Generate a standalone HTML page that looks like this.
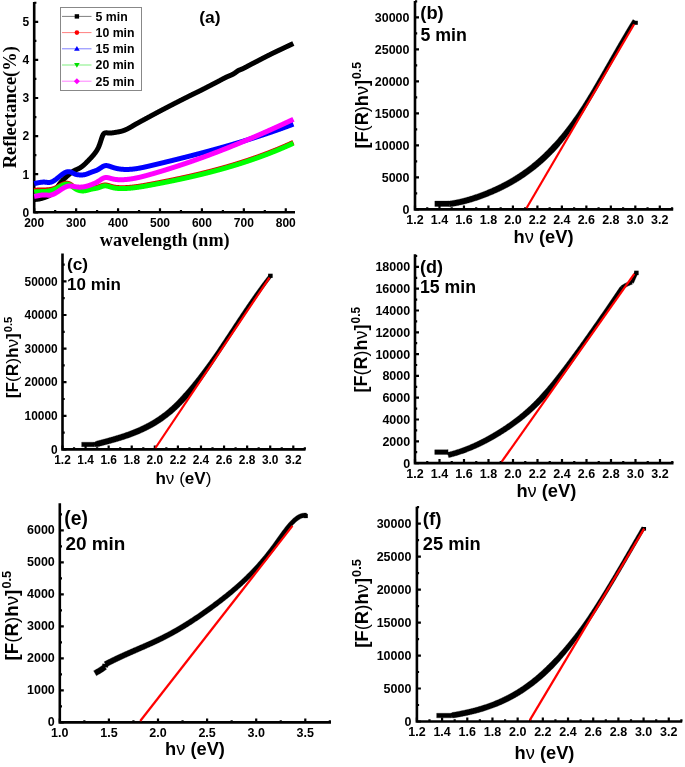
<!DOCTYPE html><html><head><meta charset="utf-8"><style>html,body{margin:0;padding:0;background:#fff;}svg{display:block;will-change:transform;}</style></head><body><svg width="685" height="767" viewBox="0 0 685 767">
<rect width="685" height="767" fill="#fff"/>
<path d="M34.20,2.00V212.30H295.00" fill="none" stroke="#000" stroke-width="2.6" stroke-linecap="butt" stroke-linejoin="miter"/>
<path d="M34.20,212.30v-4M76.13,212.30v-4M118.06,212.30v-4M159.99,212.30v-4M201.92,212.30v-4M243.85,212.30v-4M285.78,212.30v-4M55.17,212.30v-2.2M97.09,212.30v-2.2M139.03,212.30v-2.2M180.95,212.30v-2.2M222.88,212.30v-2.2M264.81,212.30v-2.2M34.20,212.30h4M34.20,174.20h4M34.20,136.10h4M34.20,98.00h4M34.20,59.90h4M34.20,21.80h4M34.20,193.25h2.2M34.20,155.15h2.2M34.20,117.05h2.2M34.20,78.95h2.2M34.20,40.85h2.2M34.20,2.75h2.2" stroke="#000" stroke-width="2.2"/>
<text x="34.20" y="226.70" font-family="Liberation Sans" font-weight="bold" font-size="12" text-anchor="middle">200</text>
<text x="76.13" y="226.70" font-family="Liberation Sans" font-weight="bold" font-size="12" text-anchor="middle">300</text>
<text x="118.06" y="226.70" font-family="Liberation Sans" font-weight="bold" font-size="12" text-anchor="middle">400</text>
<text x="159.99" y="226.70" font-family="Liberation Sans" font-weight="bold" font-size="12" text-anchor="middle">500</text>
<text x="201.92" y="226.70" font-family="Liberation Sans" font-weight="bold" font-size="12" text-anchor="middle">600</text>
<text x="243.85" y="226.70" font-family="Liberation Sans" font-weight="bold" font-size="12" text-anchor="middle">700</text>
<text x="285.78" y="226.70" font-family="Liberation Sans" font-weight="bold" font-size="12" text-anchor="middle">800</text>
<text x="29.20" y="216.62" font-family="Liberation Sans" font-weight="bold" font-size="12" text-anchor="end">0</text>
<text x="29.20" y="178.52" font-family="Liberation Sans" font-weight="bold" font-size="12" text-anchor="end">1</text>
<text x="29.20" y="140.42" font-family="Liberation Sans" font-weight="bold" font-size="12" text-anchor="end">2</text>
<text x="29.20" y="102.32" font-family="Liberation Sans" font-weight="bold" font-size="12" text-anchor="end">3</text>
<text x="29.20" y="64.22" font-family="Liberation Sans" font-weight="bold" font-size="12" text-anchor="end">4</text>
<text x="29.20" y="26.12" font-family="Liberation Sans" font-weight="bold" font-size="12" text-anchor="end">5</text>
<path d="M34.20,199.54L34.41,199.52L34.62,199.50L34.83,199.49L35.04,199.47L35.25,199.45L35.46,199.44L35.67,199.42L35.88,199.40L36.09,199.38L36.30,199.36L36.51,199.34L36.72,199.32L36.93,199.30L37.14,199.28L37.35,199.25L37.56,199.22L37.77,199.20L37.98,199.17L38.19,199.14L38.40,199.11L38.61,199.07L38.82,199.04L39.03,199.00L39.24,198.96L39.45,198.92L39.66,198.88L39.87,198.84L40.07,198.79L40.28,198.74L40.49,198.69L40.70,198.64L40.91,198.59L41.12,198.54L41.33,198.48L41.54,198.42L41.75,198.36L41.96,198.30L42.17,198.24L42.38,198.18L42.59,198.12L42.80,198.05L43.01,197.99L43.22,197.92L43.43,197.86L43.64,197.79L43.85,197.72L44.06,197.65L44.27,197.58L44.48,197.51L44.69,197.44L44.90,197.37L45.11,197.29L45.32,197.22L45.53,197.15L45.74,197.07L45.95,196.99L46.16,196.92L46.37,196.84L46.58,196.76L46.79,196.67L47.00,196.59L47.21,196.50L47.42,196.41L47.63,196.32L47.84,196.22L48.05,196.13L48.26,196.03L48.47,195.92L48.68,195.82L48.89,195.71L49.10,195.59L49.31,195.47L49.52,195.35L49.73,195.23L49.94,195.10L50.15,194.96L50.36,194.83L50.57,194.68L50.78,194.54L50.99,194.38L51.20,194.23L51.41,194.06L51.62,193.89L51.82,193.72L52.03,193.54L52.24,193.36L52.45,193.17L52.66,192.98L52.87,192.77L53.08,192.57L53.29,192.36L53.50,192.14L53.71,191.92L53.92,191.69L54.13,191.45L54.34,191.21L54.55,190.96L54.76,190.71L54.97,190.45L55.18,190.18L55.39,189.91L55.60,189.63L55.81,189.34L56.02,189.06L56.23,188.76L56.44,188.47L56.65,188.17L56.86,187.87L57.07,187.56L57.28,187.26L57.49,186.95L57.70,186.65L57.91,186.34L58.12,186.04L58.33,185.74L58.54,185.44L58.75,185.14L58.96,184.85L59.17,184.55L59.38,184.27L59.59,183.99L59.80,183.71L60.01,183.44L60.22,183.17L60.43,182.91L60.64,182.65L60.85,182.40L61.06,182.15L61.27,181.90L61.48,181.66L61.69,181.42L61.90,181.19L62.11,180.95L62.32,180.73L62.53,180.50L62.74,180.28L62.95,180.06L63.16,179.84L63.36,179.63L63.57,179.42L63.78,179.21L63.99,179.00L64.20,178.80L64.41,178.59L64.62,178.39L64.83,178.19L65.04,178.00L65.25,177.80L65.46,177.61L65.67,177.41L65.88,177.22L66.09,177.03L66.30,176.84L66.51,176.65L66.72,176.46L66.93,176.27L67.14,176.08L67.35,175.90L67.56,175.71L67.77,175.52L67.98,175.34L68.19,175.15L68.40,174.97L68.61,174.79L68.82,174.61L69.03,174.43L69.24,174.25L69.45,174.07L69.66,173.89L69.87,173.72L70.08,173.55L70.29,173.38L70.50,173.21L70.71,173.04L70.92,172.88L71.13,172.72L71.34,172.56L71.55,172.40L71.76,172.25L71.97,172.10L72.18,171.95L72.39,171.80L72.60,171.66L72.81,171.52L73.02,171.38L73.23,171.25L73.44,171.12L73.65,170.99L73.86,170.87L74.07,170.75L74.28,170.64L74.49,170.53L74.70,170.42L74.91,170.31L75.11,170.21L75.32,170.11L75.53,170.01L75.74,169.91L75.95,169.82L76.16,169.72L76.37,169.63L76.58,169.54L76.79,169.44L77.00,169.35L77.21,169.26L77.42,169.16L77.63,169.07L77.84,168.97L78.05,168.88L78.26,168.78L78.47,168.68L78.68,168.57L78.89,168.47L79.10,168.36L79.31,168.25L79.52,168.13L79.73,168.01L79.94,167.89L80.15,167.76L80.36,167.63L80.57,167.50L80.78,167.36L80.99,167.22L81.20,167.07L81.41,166.92L81.62,166.76L81.83,166.61L82.04,166.45L82.25,166.28L82.46,166.12L82.67,165.94L82.88,165.77L83.09,165.60L83.30,165.42L83.51,165.23L83.72,165.05L83.93,164.86L84.14,164.67L84.35,164.48L84.56,164.29L84.77,164.09L84.98,163.90L85.19,163.70L85.40,163.50L85.61,163.29L85.82,163.09L86.03,162.88L86.24,162.67L86.45,162.47L86.65,162.26L86.86,162.04L87.07,161.83L87.28,161.62L87.49,161.41L87.70,161.19L87.91,160.98L88.12,160.76L88.33,160.54L88.54,160.33L88.75,160.11L88.96,159.89L89.17,159.68L89.38,159.46L89.59,159.24L89.80,159.02L90.01,158.81L90.22,158.59L90.43,158.37L90.64,158.15L90.85,157.93L91.06,157.70L91.27,157.48L91.48,157.25L91.69,157.02L91.90,156.79L92.11,156.56L92.32,156.33L92.53,156.09L92.74,155.85L92.95,155.61L93.16,155.36L93.37,155.11L93.58,154.86L93.79,154.61L94.00,154.35L94.21,154.08L94.42,153.82L94.63,153.54L94.84,153.27L95.05,152.99L95.26,152.70L95.47,152.41L95.68,152.12L95.89,151.82L96.10,151.51L96.31,151.19L96.52,150.87L96.73,150.54L96.94,150.19L97.15,149.84L97.36,149.47L97.57,149.09L97.78,148.69L97.99,148.28L98.20,147.86L98.40,147.42L98.61,146.96L98.82,146.48L99.03,145.98L99.24,145.47L99.45,144.93L99.66,144.37L99.87,143.79L100.08,143.18L100.29,142.56L100.50,141.91L100.71,141.26L100.92,140.59L101.13,139.93L101.34,139.27L101.55,138.62L101.76,137.99L101.97,137.38L102.18,136.80L102.39,136.25L102.60,135.74L102.81,135.27L103.02,134.85L103.23,134.48L103.44,134.16L103.65,133.89L103.86,133.66L104.07,133.47L104.28,133.31L104.49,133.18L104.70,133.08L104.91,133.00L105.12,132.95L105.33,132.91L105.54,132.88L105.75,132.87L105.96,132.86L106.17,132.85L106.38,132.85L106.59,132.85L106.80,132.86L107.01,132.87L107.22,132.87L107.43,132.88L107.64,132.90L107.85,132.91L108.06,132.92L108.27,132.93L108.48,132.95L108.69,132.96L108.90,132.97L109.11,132.99L109.32,133.00L109.53,133.00L109.74,133.01L109.94,133.01L110.15,133.01L110.36,133.01L110.57,133.01L110.78,133.00L110.99,132.99L111.20,132.98L111.41,132.96L111.62,132.94L111.83,132.92L112.04,132.90L112.25,132.88L112.46,132.85L112.67,132.83L112.88,132.80L113.09,132.77L113.30,132.74L113.51,132.71L113.72,132.67L113.93,132.64L114.14,132.60L114.35,132.57L114.56,132.53L114.77,132.50L114.98,132.46L115.19,132.42L115.40,132.39L115.61,132.35L115.82,132.31L116.03,132.28L116.24,132.24L116.45,132.21L116.66,132.17L116.87,132.14L117.08,132.10L117.29,132.07L117.50,132.03L117.71,132.00L117.92,131.96L118.13,131.93L118.34,131.89L118.55,131.85L118.76,131.81L118.97,131.77L119.18,131.73L119.39,131.69L119.60,131.65L119.81,131.61L120.02,131.56L120.23,131.52L120.44,131.47L120.65,131.42L120.86,131.37L121.07,131.32L121.28,131.27L121.49,131.21L121.69,131.15L121.90,131.09L122.11,131.03L122.32,130.97L122.53,130.90L122.74,130.84L122.95,130.77L123.16,130.70L123.37,130.63L123.58,130.55L123.79,130.48L124.00,130.40L124.21,130.32L124.42,130.24L124.63,130.16L124.84,130.08L125.05,129.99L125.26,129.90L125.47,129.81L125.68,129.72L125.89,129.63L126.10,129.54L126.31,129.44L126.52,129.34L126.73,129.24L126.94,129.14L127.15,129.04L127.36,128.93L127.57,128.83L127.78,128.72L127.99,128.61L128.20,128.50L128.41,128.39L128.62,128.28L128.83,128.17L129.04,128.05L129.25,127.94L129.46,127.82L129.67,127.70L129.88,127.59L130.09,127.47L130.30,127.35L130.51,127.23L130.72,127.11L130.93,126.99L131.14,126.86L131.35,126.74L131.56,126.62L131.77,126.50L131.98,126.37L132.19,126.25L132.40,126.12L132.61,126.00L132.82,125.88L133.03,125.75L133.23,125.63L133.44,125.50L133.65,125.38L133.86,125.26L134.07,125.13L134.28,125.01L134.49,124.89L134.70,124.77L134.91,124.64L135.12,124.52L135.33,124.40L135.54,124.28L135.75,124.16L135.96,124.04L136.17,123.92L136.38,123.81L136.59,123.69L136.80,123.57L137.01,123.45L137.22,123.34L137.43,123.22L137.64,123.10L137.85,122.99L138.06,122.87L138.27,122.76L138.48,122.64L138.69,122.53L138.90,122.41L139.11,122.30L139.32,122.18L139.53,122.07L139.74,121.95L139.95,121.84L140.16,121.73L140.37,121.61L140.58,121.50L140.79,121.39L141.00,121.27L141.21,121.16L141.42,121.05L141.63,120.93L141.84,120.82L142.05,120.71L142.26,120.60L142.47,120.48L142.68,120.37L142.89,120.26L143.10,120.14L143.31,120.03L143.52,119.92L143.73,119.81L143.94,119.69L144.15,119.58L144.36,119.47L144.57,119.35L144.78,119.24L144.98,119.12L145.19,119.01L145.40,118.90L145.61,118.78L145.82,118.67L146.03,118.56L146.24,118.44L146.45,118.33L146.66,118.22L146.87,118.10L147.08,117.99L147.29,117.87L147.50,117.76L147.71,117.65L147.92,117.53L148.13,117.42L148.34,117.30L148.55,117.19L148.76,117.08L148.97,116.96L149.18,116.85L149.39,116.74L149.60,116.62L149.81,116.51L150.02,116.39L150.23,116.28L150.44,116.17L150.65,116.05L150.86,115.94L151.07,115.83L151.28,115.71L151.49,115.60L151.70,115.49L151.91,115.38L152.12,115.26L152.33,115.15L152.54,115.04L152.75,114.92L152.96,114.81L153.17,114.70L153.38,114.59L153.59,114.47L153.80,114.36L154.01,114.25L154.22,114.14L154.43,114.03L154.64,113.91L154.85,113.80L155.06,113.69L155.27,113.58L155.48,113.47L155.69,113.35L155.90,113.24L156.11,113.13L156.32,113.02L156.52,112.91L156.73,112.80L156.94,112.68L157.15,112.57L157.36,112.46L157.57,112.35L157.78,112.24L157.99,112.13L158.20,112.02L158.41,111.91L158.62,111.79L158.83,111.68L159.04,111.57L159.25,111.46L159.46,111.35L159.67,111.24L159.88,111.13L160.09,111.02L160.30,110.91L160.51,110.80L160.72,110.69L160.93,110.58L161.14,110.47L161.35,110.35L161.56,110.24L161.77,110.13L161.98,110.02L162.19,109.91L162.40,109.80L162.61,109.69L162.82,109.58L163.03,109.47L163.24,109.36L163.45,109.25L163.66,109.14L163.87,109.03L164.08,108.92L164.29,108.81L164.50,108.70L164.71,108.59L164.92,108.48L165.13,108.37L165.34,108.26L165.55,108.15L165.76,108.04L165.97,107.93L166.18,107.82L166.39,107.71L166.60,107.60L166.81,107.50L167.02,107.39L167.23,107.28L167.44,107.17L167.65,107.06L167.86,106.95L168.07,106.84L168.27,106.73L168.48,106.62L168.69,106.51L168.90,106.40L169.11,106.29L169.32,106.19L169.53,106.08L169.74,105.97L169.95,105.86L170.16,105.75L170.37,105.64L170.58,105.53L170.79,105.42L171.00,105.32L171.21,105.21L171.42,105.10L171.63,104.99L171.84,104.88L172.05,104.77L172.26,104.67L172.47,104.56L172.68,104.45L172.89,104.34L173.10,104.23L173.31,104.12L173.52,104.02L173.73,103.91L173.94,103.80L174.15,103.69L174.36,103.59L174.57,103.48L174.78,103.37L174.99,103.26L175.20,103.16L175.41,103.05L175.62,102.94L175.83,102.83L176.04,102.73L176.25,102.62L176.46,102.51L176.67,102.40L176.88,102.30L177.09,102.19L177.30,102.08L177.51,101.98L177.72,101.87L177.93,101.76L178.14,101.65L178.35,101.55L178.56,101.44L178.77,101.33L178.98,101.23L179.19,101.12L179.40,101.01L179.61,100.91L179.81,100.80L180.02,100.69L180.23,100.59L180.44,100.48L180.65,100.38L180.86,100.27L181.07,100.16L181.28,100.06L181.49,99.95L181.70,99.84L181.91,99.74L182.12,99.63L182.33,99.53L182.54,99.42L182.75,99.31L182.96,99.21L183.17,99.10L183.38,99.00L183.59,98.89L183.80,98.78L184.01,98.68L184.22,98.57L184.43,98.47L184.64,98.36L184.85,98.26L185.06,98.15L185.27,98.04L185.48,97.94L185.69,97.83L185.90,97.73L186.11,97.62L186.32,97.52L186.53,97.41L186.74,97.31L186.95,97.20L187.16,97.09L187.37,96.99L187.58,96.88L187.79,96.78L188.00,96.67L188.21,96.57L188.42,96.46L188.63,96.36L188.84,96.25L189.05,96.15L189.26,96.04L189.47,95.94L189.68,95.83L189.89,95.73L190.10,95.63L190.31,95.52L190.52,95.42L190.73,95.31L190.94,95.21L191.15,95.10L191.35,95.00L191.56,94.90L191.77,94.79L191.98,94.69L192.19,94.59L192.40,94.48L192.61,94.38L192.82,94.28L193.03,94.17L193.24,94.07L193.45,93.97L193.66,93.87L193.87,93.76L194.08,93.66L194.29,93.56L194.50,93.46L194.71,93.35L194.92,93.25L195.13,93.15L195.34,93.05L195.55,92.95L195.76,92.85L195.97,92.74L196.18,92.64L196.39,92.54L196.60,92.44L196.81,92.34L197.02,92.24L197.23,92.13L197.44,92.03L197.65,91.93L197.86,91.83L198.07,91.73L198.28,91.62L198.49,91.52L198.70,91.42L198.91,91.32L199.12,91.21L199.33,91.11L199.54,91.01L199.75,90.90L199.96,90.80L200.17,90.70L200.38,90.59L200.59,90.49L200.80,90.39L201.01,90.28L201.22,90.18L201.43,90.07L201.64,89.97L201.85,89.86L202.06,89.76L202.27,89.65L202.48,89.54L202.69,89.44L202.90,89.33L203.10,89.22L203.31,89.12L203.52,89.01L203.73,88.90L203.94,88.79L204.15,88.68L204.36,88.58L204.57,88.47L204.78,88.36L204.99,88.25L205.20,88.14L205.41,88.03L205.62,87.92L205.83,87.81L206.04,87.71L206.25,87.60L206.46,87.49L206.67,87.38L206.88,87.27L207.09,87.16L207.30,87.05L207.51,86.94L207.72,86.83L207.93,86.72L208.14,86.61L208.35,86.50L208.56,86.39L208.77,86.28L208.98,86.17L209.19,86.07L209.40,85.96L209.61,85.85L209.82,85.74L210.03,85.63L210.24,85.52L210.45,85.41L210.66,85.31L210.87,85.20L211.08,85.09L211.29,84.98L211.50,84.87L211.71,84.77L211.92,84.66L212.13,84.55L212.34,84.44L212.55,84.34L212.76,84.23L212.97,84.12L213.18,84.02L213.39,83.91L213.60,83.80L213.81,83.69L214.02,83.59L214.23,83.48L214.44,83.37L214.64,83.26L214.85,83.16L215.06,83.05L215.27,82.94L215.48,82.83L215.69,82.72L215.90,82.61L216.11,82.51L216.32,82.40L216.53,82.29L216.74,82.18L216.95,82.07L217.16,81.96L217.37,81.85L217.58,81.74L217.79,81.63L218.00,81.51L218.21,81.40L218.42,81.29L218.63,81.18L218.84,81.07L219.05,80.95L219.26,80.84L219.47,80.73L219.68,80.61L219.89,80.50L220.10,80.39L220.31,80.27L220.52,80.16L220.73,80.04L220.94,79.93L221.15,79.81L221.36,79.70L221.57,79.59L221.78,79.47L221.99,79.36L222.20,79.25L222.41,79.13L222.62,79.02L222.83,78.91L223.04,78.80L223.25,78.69L223.46,78.58L223.67,78.47L223.88,78.36L224.09,78.25L224.30,78.14L224.51,78.04L224.72,77.93L224.93,77.82L225.14,77.72L225.35,77.62L225.56,77.51L225.77,77.41L225.98,77.31L226.19,77.21L226.39,77.11L226.60,77.02L226.81,76.92L227.02,76.83L227.23,76.73L227.44,76.64L227.65,76.55L227.86,76.46L228.07,76.37L228.28,76.28L228.49,76.19L228.70,76.11L228.91,76.02L229.12,75.93L229.33,75.84L229.54,75.76L229.75,75.67L229.96,75.58L230.17,75.49L230.38,75.40L230.59,75.31L230.80,75.22L231.01,75.13L231.22,75.03L231.43,74.94L231.64,74.84L231.85,74.74L232.06,74.64L232.27,74.53L232.48,74.43L232.69,74.32L232.90,74.21L233.11,74.10L233.32,73.98L233.53,73.86L233.74,73.74L233.95,73.62L234.16,73.49L234.37,73.36L234.58,73.22L234.79,73.08L235.00,72.94L235.21,72.79L235.42,72.64L235.63,72.49L235.84,72.33L236.05,72.17L236.26,72.00L236.47,71.84L236.68,71.68L236.89,71.52L237.10,71.36L237.31,71.21L237.52,71.06L237.73,70.92L237.93,70.79L238.14,70.66L238.35,70.54L238.56,70.43L238.77,70.33L238.98,70.23L239.19,70.14L239.40,70.05L239.61,69.97L239.82,69.89L240.03,69.81L240.24,69.73L240.45,69.65L240.66,69.57L240.87,69.49L241.08,69.41L241.29,69.33L241.50,69.24L241.71,69.15L241.92,69.06L242.13,68.97L242.34,68.88L242.55,68.78L242.76,68.69L242.97,68.59L243.18,68.49L243.39,68.39L243.60,68.28L243.81,68.18L244.02,68.08L244.23,67.97L244.44,67.86L244.65,67.76L244.86,67.65L245.07,67.54L245.28,67.43L245.49,67.32L245.70,67.20L245.91,67.09L246.12,66.98L246.33,66.87L246.54,66.76L246.75,66.64L246.96,66.53L247.17,66.42L247.38,66.30L247.59,66.19L247.80,66.08L248.01,65.96L248.22,65.85L248.43,65.74L248.64,65.63L248.85,65.51L249.06,65.40L249.27,65.29L249.48,65.18L249.68,65.07L249.89,64.96L250.10,64.85L250.31,64.74L250.52,64.63L250.73,64.52L250.94,64.41L251.15,64.30L251.36,64.19L251.57,64.09L251.78,63.98L251.99,63.87L252.20,63.76L252.41,63.65L252.62,63.54L252.83,63.44L253.04,63.33L253.25,63.22L253.46,63.11L253.67,63.00L253.88,62.90L254.09,62.79L254.30,62.68L254.51,62.57L254.72,62.47L254.93,62.36L255.14,62.25L255.35,62.14L255.56,62.03L255.77,61.93L255.98,61.82L256.19,61.71L256.40,61.60L256.61,61.49L256.82,61.38L257.03,61.28L257.24,61.17L257.45,61.06L257.66,60.95L257.87,60.84L258.08,60.73L258.29,60.62L258.50,60.51L258.71,60.40L258.92,60.29L259.13,60.19L259.34,60.08L259.55,59.97L259.76,59.86L259.97,59.75L260.18,59.64L260.39,59.53L260.60,59.42L260.81,59.31L261.02,59.20L261.22,59.09L261.43,58.98L261.64,58.87L261.85,58.76L262.06,58.65L262.27,58.54L262.48,58.44L262.69,58.33L262.90,58.22L263.11,58.11L263.32,58.00L263.53,57.89L263.74,57.78L263.95,57.67L264.16,57.56L264.37,57.46L264.58,57.35L264.79,57.24L265.00,57.13L265.21,57.02L265.42,56.92L265.63,56.81L265.84,56.70L266.05,56.59L266.26,56.49L266.47,56.38L266.68,56.27L266.89,56.16L267.10,56.06L267.31,55.95L267.52,55.84L267.73,55.74L267.94,55.63L268.15,55.53L268.36,55.42L268.57,55.31L268.78,55.21L268.99,55.10L269.20,55.00L269.41,54.89L269.62,54.79L269.83,54.68L270.04,54.58L270.25,54.47L270.46,54.37L270.67,54.27L270.88,54.16L271.09,54.06L271.30,53.95L271.51,53.85L271.72,53.75L271.93,53.64L272.14,53.54L272.35,53.44L272.56,53.34L272.77,53.23L272.97,53.13L273.18,53.03L273.39,52.93L273.60,52.83L273.81,52.73L274.02,52.62L274.23,52.52L274.44,52.42L274.65,52.32L274.86,52.22L275.07,52.12L275.28,52.02L275.49,51.92L275.70,51.82L275.91,51.72L276.12,51.62L276.33,51.52L276.54,51.42L276.75,51.32L276.96,51.22L277.17,51.12L277.38,51.03L277.59,50.93L277.80,50.83L278.01,50.73L278.22,50.63L278.43,50.53L278.64,50.43L278.85,50.33L279.06,50.23L279.27,50.14L279.48,50.04L279.69,49.94L279.90,49.84L280.11,49.74L280.32,49.64L280.53,49.54L280.74,49.45L280.95,49.35L281.16,49.25L281.37,49.15L281.58,49.05L281.79,48.95L282.00,48.85L282.21,48.75L282.42,48.65L282.63,48.55L282.84,48.46L283.05,48.36L283.26,48.26L283.47,48.16L283.68,48.06L283.89,47.96L284.10,47.86L284.31,47.76L284.51,47.66L284.72,47.56L284.93,47.46L285.14,47.36L285.35,47.26L285.56,47.16L285.77,47.06L285.98,46.96L286.19,46.86L286.40,46.76L286.61,46.66L286.82,46.56L287.03,46.47L287.24,46.37L287.45,46.27L287.66,46.17L287.87,46.07L288.08,45.97L288.29,45.87L288.50,45.77L288.71,45.67L288.92,45.57L289.13,45.47L289.34,45.37L289.55,45.27L289.76,45.17L289.97,45.07L290.18,44.97L290.39,44.87L290.60,44.77L290.81,44.67L291.02,44.57L291.23,44.47L291.44,44.37L291.65,44.27L291.86,44.17L292.07,44.07L292.28,43.97L292.49,43.88L292.70,43.78L292.91,43.68L293.12,43.58L293.33,43.48" fill="none" stroke="#000" stroke-width="5.0" stroke-linejoin="round" stroke-linecap="butt" />
<path d="M34.20,190.48L34.41,190.44L34.62,190.41L34.83,190.38L35.04,190.35L35.25,190.32L35.46,190.29L35.67,190.27L35.88,190.24L36.09,190.22L36.30,190.20L36.51,190.18L36.72,190.16L36.93,190.14L37.14,190.13L37.35,190.11L37.56,190.10L37.77,190.08L37.98,190.07L38.19,190.06L38.40,190.05L38.61,190.04L38.82,190.03L39.03,190.02L39.24,190.02L39.45,190.01L39.66,190.00L39.87,190.00L40.08,189.99L40.29,189.99L40.50,189.99L40.71,189.98L40.92,189.98L41.13,189.98L41.34,189.97L41.55,189.97L41.76,189.97L41.97,189.97L42.18,189.97L42.39,189.96L42.60,189.96L42.81,189.96L43.02,189.96L43.23,189.96L43.44,189.95L43.64,189.95L43.85,189.95L44.06,189.95L44.27,189.94L44.48,189.94L44.69,189.93L44.90,189.93L45.11,189.92L45.32,189.92L45.53,189.91L45.74,189.90L45.95,189.90L46.16,189.89L46.37,189.88L46.58,189.87L46.79,189.86L47.00,189.84L47.21,189.83L47.42,189.82L47.63,189.80L47.84,189.79L48.05,189.77L48.26,189.75L48.47,189.73L48.68,189.71L48.89,189.69L49.10,189.66L49.31,189.64L49.52,189.61L49.73,189.58L49.94,189.55L50.15,189.52L50.36,189.49L50.57,189.45L50.78,189.41L50.99,189.38L51.20,189.34L51.41,189.29L51.62,189.25L51.83,189.20L52.04,189.16L52.25,189.11L52.46,189.05L52.67,189.00L52.88,188.94L53.09,188.88L53.30,188.82L53.51,188.76L53.72,188.69L53.93,188.63L54.14,188.56L54.35,188.48L54.56,188.41L54.77,188.33L54.98,188.25L55.19,188.16L55.40,188.08L55.61,187.99L55.82,187.90L56.03,187.80L56.24,187.71L56.45,187.61L56.66,187.50L56.87,187.40L57.08,187.29L57.29,187.18L57.50,187.07L57.71,186.96L57.92,186.85L58.13,186.73L58.34,186.61L58.55,186.50L58.76,186.38L58.97,186.26L59.18,186.14L59.39,186.03L59.60,185.91L59.81,185.79L60.02,185.67L60.23,185.56L60.44,185.44L60.65,185.32L60.86,185.21L61.07,185.10L61.28,184.99L61.49,184.88L61.70,184.77L61.91,184.67L62.12,184.56L62.32,184.46L62.53,184.37L62.74,184.27L62.95,184.18L63.16,184.09L63.37,184.01L63.58,183.92L63.79,183.85L64.00,183.77L64.21,183.70L64.42,183.64L64.63,183.58L64.84,183.52L65.05,183.47L65.26,183.43L65.47,183.38L65.68,183.35L65.89,183.32L66.10,183.30L66.31,183.28L66.52,183.27L66.73,183.26L66.94,183.26L67.15,183.27L67.36,183.29L67.57,183.31L67.78,183.34L67.99,183.38L68.20,183.42L68.41,183.47L68.62,183.53L68.83,183.60L69.04,183.68L69.25,183.77L69.46,183.86L69.67,183.96L69.88,184.07L70.09,184.18L70.30,184.30L70.51,184.43L70.72,184.56L70.93,184.70L71.14,184.84L71.35,184.99L71.56,185.14L71.77,185.29L71.98,185.44L72.19,185.60L72.40,185.76L72.61,185.91L72.82,186.07L73.03,186.23L73.24,186.39L73.45,186.55L73.66,186.71L73.87,186.87L74.08,187.02L74.29,187.17L74.50,187.32L74.71,187.47L74.92,187.61L75.13,187.75L75.34,187.88L75.55,188.01L75.76,188.13L75.97,188.25L76.18,188.37L76.39,188.48L76.60,188.59L76.81,188.70L77.02,188.80L77.23,188.89L77.44,188.99L77.65,189.07L77.86,189.16L78.07,189.24L78.28,189.32L78.49,189.39L78.70,189.46L78.91,189.52L79.12,189.59L79.33,189.64L79.54,189.70L79.75,189.75L79.96,189.79L80.17,189.84L80.38,189.88L80.59,189.91L80.80,189.95L81.00,189.97L81.21,190.00L81.42,190.02L81.63,190.04L81.84,190.06L82.05,190.07L82.26,190.08L82.47,190.08L82.68,190.08L82.89,190.08L83.10,190.08L83.31,190.07L83.52,190.06L83.73,190.05L83.94,190.03L84.15,190.01L84.36,189.99L84.57,189.96L84.78,189.93L84.99,189.90L85.20,189.87L85.41,189.83L85.62,189.79L85.83,189.75L86.04,189.71L86.25,189.67L86.46,189.62L86.67,189.57L86.88,189.52L87.09,189.47L87.30,189.42L87.51,189.36L87.72,189.31L87.93,189.25L88.14,189.20L88.35,189.14L88.56,189.08L88.77,189.03L88.98,188.97L89.19,188.91L89.40,188.85L89.61,188.79L89.82,188.74L90.03,188.68L90.24,188.63L90.45,188.57L90.66,188.52L90.87,188.46L91.08,188.41L91.29,188.36L91.50,188.31L91.71,188.26L91.92,188.22L92.13,188.17L92.34,188.13L92.55,188.09L92.76,188.05L92.97,188.01L93.18,187.97L93.39,187.94L93.60,187.90L93.81,187.87L94.02,187.83L94.23,187.79L94.44,187.76L94.65,187.72L94.86,187.69L95.07,187.65L95.28,187.62L95.49,187.58L95.70,187.54L95.91,187.50L96.12,187.46L96.33,187.42L96.54,187.38L96.75,187.33L96.96,187.28L97.17,187.23L97.38,187.18L97.59,187.13L97.80,187.07L98.01,187.01L98.22,186.95L98.43,186.88L98.64,186.82L98.85,186.75L99.06,186.67L99.27,186.60L99.48,186.52L99.68,186.45L99.89,186.37L100.10,186.29L100.31,186.21L100.52,186.13L100.73,186.05L100.94,185.98L101.15,185.90L101.36,185.82L101.57,185.75L101.78,185.68L101.99,185.61L102.20,185.54L102.41,185.47L102.62,185.41L102.83,185.35L103.04,185.30L103.25,185.25L103.46,185.20L103.67,185.16L103.88,185.12L104.09,185.09L104.30,185.06L104.51,185.04L104.72,185.02L104.93,185.01L105.14,185.01L105.35,185.01L105.56,185.02L105.77,185.03L105.98,185.05L106.19,185.07L106.40,185.10L106.61,185.13L106.82,185.16L107.03,185.20L107.24,185.24L107.45,185.29L107.66,185.34L107.87,185.39L108.08,185.44L108.29,185.50L108.50,185.55L108.71,185.61L108.92,185.68L109.13,185.74L109.34,185.80L109.55,185.87L109.76,185.93L109.97,186.00L110.18,186.06L110.39,186.13L110.60,186.19L110.81,186.26L111.02,186.32L111.23,186.39L111.44,186.45L111.65,186.51L111.86,186.57L112.07,186.63L112.28,186.68L112.49,186.73L112.70,186.79L112.91,186.84L113.12,186.88L113.33,186.93L113.54,186.97L113.75,187.02L113.96,187.06L114.17,187.10L114.38,187.13L114.59,187.17L114.80,187.21L115.01,187.24L115.22,187.27L115.43,187.30L115.64,187.33L115.85,187.36L116.06,187.38L116.27,187.41L116.48,187.43L116.69,187.45L116.90,187.47L117.11,187.49L117.32,187.51L117.53,187.53L117.74,187.55L117.95,187.56L118.16,187.58L118.36,187.59L118.57,187.60L118.78,187.61L118.99,187.62L119.20,187.63L119.41,187.64L119.62,187.65L119.83,187.66L120.04,187.66L120.25,187.67L120.46,187.67L120.67,187.68L120.88,187.68L121.09,187.69L121.30,187.69L121.51,187.69L121.72,187.69L121.93,187.69L122.14,187.69L122.35,187.69L122.56,187.69L122.77,187.69L122.98,187.69L123.19,187.69L123.40,187.68L123.61,187.68L123.82,187.68L124.03,187.67L124.24,187.67L124.45,187.66L124.66,187.66L124.87,187.65L125.08,187.64L125.29,187.64L125.50,187.63L125.71,187.62L125.92,187.61L126.13,187.60L126.34,187.59L126.55,187.58L126.76,187.57L126.97,187.56L127.18,187.55L127.39,187.54L127.60,187.52L127.81,187.51L128.02,187.50L128.23,187.48L128.44,187.47L128.65,187.45L128.86,187.44L129.07,187.42L129.28,187.41L129.49,187.39L129.70,187.37L129.91,187.36L130.12,187.34L130.33,187.32L130.54,187.30L130.75,187.28L130.96,187.27L131.17,187.25L131.38,187.23L131.59,187.21L131.80,187.18L132.01,187.16L132.22,187.14L132.43,187.12L132.64,187.10L132.85,187.08L133.06,187.05L133.27,187.03L133.48,187.01L133.69,186.98L133.90,186.96L134.11,186.93L134.32,186.91L134.53,186.88L134.74,186.86L134.95,186.83L135.16,186.81L135.37,186.78L135.58,186.75L135.79,186.73L136.00,186.70L136.21,186.67L136.42,186.64L136.63,186.61L136.84,186.59L137.04,186.56L137.25,186.53L137.46,186.50L137.67,186.47L137.88,186.44L138.09,186.41L138.30,186.38L138.51,186.35L138.72,186.32L138.93,186.28L139.14,186.25L139.35,186.22L139.56,186.19L139.77,186.16L139.98,186.12L140.19,186.09L140.40,186.06L140.61,186.03L140.82,185.99L141.03,185.96L141.24,185.92L141.45,185.89L141.66,185.86L141.87,185.82L142.08,185.79L142.29,185.75L142.50,185.72L142.71,185.68L142.92,185.65L143.13,185.61L143.34,185.58L143.55,185.54L143.76,185.50L143.97,185.47L144.18,185.43L144.39,185.40L144.60,185.36L144.81,185.32L145.02,185.29L145.23,185.25L145.44,185.21L145.65,185.17L145.86,185.14L146.07,185.10L146.28,185.06L146.49,185.02L146.70,184.99L146.91,184.95L147.12,184.91L147.33,184.87L147.54,184.83L147.75,184.79L147.96,184.76L148.17,184.72L148.38,184.68L148.59,184.64L148.80,184.60L149.01,184.56L149.22,184.52L149.43,184.48L149.64,184.44L149.85,184.41L150.06,184.37L150.27,184.33L150.48,184.29L150.69,184.25L150.90,184.21L151.11,184.17L151.32,184.13L151.53,184.09L151.74,184.05L151.95,184.01L152.16,183.97L152.37,183.93L152.58,183.89L152.79,183.85L153.00,183.81L153.21,183.77L153.42,183.73L153.63,183.69L153.84,183.65L154.05,183.61L154.26,183.57L154.47,183.53L154.68,183.49L154.89,183.45L155.10,183.41L155.31,183.37L155.52,183.33L155.72,183.29L155.93,183.25L156.14,183.21L156.35,183.17L156.56,183.13L156.77,183.09L156.98,183.05L157.19,183.01L157.40,182.97L157.61,182.93L157.82,182.89L158.03,182.85L158.24,182.81L158.45,182.77L158.66,182.73L158.87,182.69L159.08,182.65L159.29,182.61L159.50,182.57L159.71,182.53L159.92,182.49L160.13,182.44L160.34,182.40L160.55,182.36L160.76,182.32L160.97,182.28L161.18,182.24L161.39,182.20L161.60,182.16L161.81,182.12L162.02,182.08L162.23,182.03L162.44,181.99L162.65,181.95L162.86,181.91L163.07,181.87L163.28,181.83L163.49,181.79L163.70,181.75L163.91,181.70L164.12,181.66L164.33,181.62L164.54,181.58L164.75,181.54L164.96,181.50L165.17,181.45L165.38,181.41L165.59,181.37L165.80,181.33L166.01,181.29L166.22,181.25L166.43,181.20L166.64,181.16L166.85,181.12L167.06,181.08L167.27,181.04L167.48,180.99L167.69,180.95L167.90,180.91L168.11,180.87L168.32,180.82L168.53,180.78L168.74,180.74L168.95,180.70L169.16,180.65L169.37,180.61L169.58,180.57L169.79,180.53L170.00,180.48L170.21,180.44L170.42,180.40L170.63,180.36L170.84,180.31L171.05,180.27L171.26,180.23L171.47,180.18L171.68,180.14L171.89,180.10L172.10,180.06L172.31,180.01L172.52,179.97L172.73,179.93L172.94,179.88L173.15,179.84L173.36,179.80L173.57,179.75L173.78,179.71L173.99,179.67L174.20,179.62L174.40,179.58L174.61,179.53L174.82,179.49L175.03,179.45L175.24,179.40L175.45,179.36L175.66,179.32L175.87,179.27L176.08,179.23L176.29,179.18L176.50,179.14L176.71,179.10L176.92,179.05L177.13,179.01L177.34,178.96L177.55,178.92L177.76,178.87L177.97,178.83L178.18,178.79L178.39,178.74L178.60,178.70L178.81,178.65L179.02,178.61L179.23,178.56L179.44,178.52L179.65,178.47L179.86,178.43L180.07,178.38L180.28,178.34L180.49,178.29L180.70,178.25L180.91,178.20L181.12,178.16L181.33,178.11L181.54,178.07L181.75,178.02L181.96,177.98L182.17,177.93L182.38,177.89L182.59,177.84L182.80,177.79L183.01,177.75L183.22,177.70L183.43,177.66L183.64,177.61L183.85,177.57L184.06,177.52L184.27,177.47L184.48,177.43L184.69,177.38L184.90,177.34L185.11,177.29L185.32,177.24L185.53,177.20L185.74,177.15L185.95,177.10L186.16,177.06L186.37,177.01L186.58,176.97L186.79,176.92L187.00,176.87L187.21,176.83L187.42,176.78L187.63,176.73L187.84,176.68L188.05,176.64L188.26,176.59L188.47,176.54L188.68,176.50L188.89,176.45L189.10,176.40L189.31,176.35L189.52,176.31L189.73,176.26L189.94,176.21L190.15,176.16L190.36,176.12L190.57,176.07L190.78,176.02L190.99,175.97L191.20,175.93L191.41,175.88L191.62,175.83L191.83,175.78L192.04,175.73L192.25,175.69L192.46,175.64L192.67,175.59L192.88,175.54L193.08,175.49L193.29,175.44L193.50,175.40L193.71,175.35L193.92,175.30L194.13,175.25L194.34,175.20L194.55,175.15L194.76,175.10L194.97,175.05L195.18,175.01L195.39,174.96L195.60,174.91L195.81,174.86L196.02,174.81L196.23,174.76L196.44,174.71L196.65,174.66L196.86,174.61L197.07,174.56L197.28,174.51L197.49,174.46L197.70,174.41L197.91,174.36L198.12,174.31L198.33,174.26L198.54,174.21L198.75,174.16L198.96,174.11L199.17,174.06L199.38,174.01L199.59,173.96L199.80,173.91L200.01,173.86L200.22,173.81L200.43,173.76L200.64,173.71L200.85,173.66L201.06,173.61L201.27,173.56L201.48,173.51L201.69,173.45L201.90,173.40L202.11,173.35L202.32,173.30L202.53,173.25L202.74,173.20L202.95,173.15L203.16,173.10L203.37,173.04L203.58,172.99L203.79,172.94L204.00,172.89L204.21,172.84L204.42,172.79L204.63,172.73L204.84,172.68L205.05,172.63L205.26,172.58L205.47,172.52L205.68,172.47L205.89,172.42L206.10,172.37L206.31,172.31L206.52,172.26L206.73,172.21L206.94,172.16L207.15,172.10L207.36,172.05L207.57,172.00L207.78,171.94L207.99,171.89L208.20,171.84L208.41,171.79L208.62,171.73L208.83,171.68L209.04,171.63L209.25,171.57L209.46,171.52L209.67,171.46L209.88,171.41L210.09,171.36L210.30,171.30L210.51,171.25L210.72,171.19L210.93,171.14L211.14,171.09L211.35,171.03L211.56,170.98L211.76,170.92L211.97,170.87L212.18,170.81L212.39,170.76L212.60,170.70L212.81,170.65L213.02,170.59L213.23,170.54L213.44,170.48L213.65,170.43L213.86,170.37L214.07,170.32L214.28,170.26L214.49,170.21L214.70,170.15L214.91,170.10L215.12,170.04L215.33,169.99L215.54,169.93L215.75,169.87L215.96,169.82L216.17,169.76L216.38,169.70L216.59,169.65L216.80,169.59L217.01,169.54L217.22,169.48L217.43,169.42L217.64,169.37L217.85,169.31L218.06,169.25L218.27,169.20L218.48,169.14L218.69,169.08L218.90,169.02L219.11,168.97L219.32,168.91L219.53,168.85L219.74,168.80L219.95,168.74L220.16,168.68L220.37,168.62L220.58,168.56L220.79,168.51L221.00,168.45L221.21,168.39L221.42,168.33L221.63,168.27L221.84,168.22L222.05,168.16L222.26,168.10L222.47,168.04L222.68,167.98L222.89,167.92L223.10,167.86L223.31,167.81L223.52,167.75L223.73,167.69L223.94,167.63L224.15,167.57L224.36,167.51L224.57,167.45L224.78,167.39L224.99,167.33L225.20,167.27L225.41,167.21L225.62,167.15L225.83,167.09L226.04,167.03L226.25,166.97L226.46,166.91L226.67,166.85L226.88,166.79L227.09,166.73L227.30,166.67L227.51,166.61L227.72,166.55L227.93,166.49L228.14,166.43L228.35,166.37L228.56,166.31L228.77,166.24L228.98,166.18L229.19,166.12L229.40,166.06L229.61,166.00L229.82,165.94L230.03,165.88L230.24,165.81L230.44,165.75L230.65,165.69L230.86,165.63L231.07,165.57L231.28,165.50L231.49,165.44L231.70,165.38L231.91,165.32L232.12,165.25L232.33,165.19L232.54,165.13L232.75,165.07L232.96,165.00L233.17,164.94L233.38,164.88L233.59,164.81L233.80,164.75L234.01,164.69L234.22,164.62L234.43,164.56L234.64,164.50L234.85,164.43L235.06,164.37L235.27,164.30L235.48,164.24L235.69,164.18L235.90,164.11L236.11,164.05L236.32,163.98L236.53,163.92L236.74,163.85L236.95,163.79L237.16,163.72L237.37,163.66L237.58,163.59L237.79,163.53L238.00,163.46L238.21,163.40L238.42,163.33L238.63,163.27L238.84,163.20L239.05,163.14L239.26,163.07L239.47,163.00L239.68,162.94L239.89,162.87L240.10,162.81L240.31,162.74L240.52,162.67L240.73,162.61L240.94,162.54L241.15,162.47L241.36,162.41L241.57,162.34L241.78,162.27L241.99,162.21L242.20,162.14L242.41,162.07L242.62,162.00L242.83,161.94L243.04,161.87L243.25,161.80L243.46,161.73L243.67,161.67L243.88,161.60L244.09,161.53L244.30,161.46L244.51,161.39L244.72,161.32L244.93,161.26L245.14,161.19L245.35,161.12L245.56,161.05L245.77,160.98L245.98,160.91L246.19,160.84L246.40,160.77L246.61,160.70L246.82,160.64L247.03,160.57L247.24,160.50L247.45,160.43L247.66,160.36L247.87,160.29L248.08,160.22L248.29,160.15L248.50,160.08L248.71,160.01L248.92,159.94L249.12,159.87L249.33,159.79L249.54,159.72L249.75,159.65L249.96,159.58L250.17,159.51L250.38,159.44L250.59,159.37L250.80,159.30L251.01,159.23L251.22,159.15L251.43,159.08L251.64,159.01L251.85,158.94L252.06,158.87L252.27,158.79L252.48,158.72L252.69,158.65L252.90,158.58L253.11,158.50L253.32,158.43L253.53,158.36L253.74,158.29L253.95,158.21L254.16,158.14L254.37,158.07L254.58,157.99L254.79,157.92L255.00,157.85L255.21,157.77L255.42,157.70L255.63,157.63L255.84,157.55L256.05,157.48L256.26,157.40L256.47,157.33L256.68,157.25L256.89,157.18L257.10,157.10L257.31,157.03L257.52,156.96L257.73,156.88L257.94,156.81L258.15,156.73L258.36,156.65L258.57,156.58L258.78,156.50L258.99,156.43L259.20,156.35L259.41,156.28L259.62,156.20L259.83,156.12L260.04,156.05L260.25,155.97L260.46,155.90L260.67,155.82L260.88,155.74L261.09,155.67L261.30,155.59L261.51,155.51L261.72,155.43L261.93,155.36L262.14,155.28L262.35,155.20L262.56,155.12L262.77,155.05L262.98,154.97L263.19,154.89L263.40,154.81L263.61,154.73L263.82,154.66L264.03,154.58L264.24,154.50L264.45,154.42L264.66,154.34L264.87,154.26L265.08,154.18L265.29,154.10L265.50,154.03L265.71,153.95L265.92,153.87L266.13,153.79L266.34,153.71L266.55,153.63L266.76,153.55L266.97,153.47L267.18,153.39L267.39,153.31L267.60,153.23L267.80,153.15L268.01,153.07L268.22,152.98L268.43,152.90L268.64,152.82L268.85,152.74L269.06,152.66L269.27,152.58L269.48,152.50L269.69,152.42L269.90,152.33L270.11,152.25L270.32,152.17L270.53,152.09L270.74,152.01L270.95,151.92L271.16,151.84L271.37,151.76L271.58,151.68L271.79,151.59L272.00,151.51L272.21,151.43L272.42,151.34L272.63,151.26L272.84,151.18L273.05,151.09L273.26,151.01L273.47,150.93L273.68,150.84L273.89,150.76L274.10,150.67L274.31,150.59L274.52,150.50L274.73,150.42L274.94,150.34L275.15,150.25L275.36,150.17L275.57,150.08L275.78,150.00L275.99,149.91L276.20,149.82L276.41,149.74L276.62,149.65L276.83,149.57L277.04,149.48L277.25,149.40L277.46,149.31L277.67,149.22L277.88,149.14L278.09,149.05L278.30,148.96L278.51,148.88L278.72,148.79L278.93,148.70L279.14,148.62L279.35,148.53L279.56,148.44L279.77,148.35L279.98,148.26L280.19,148.18L280.40,148.09L280.61,148.00L280.82,147.91L281.03,147.82L281.24,147.74L281.45,147.65L281.66,147.56L281.87,147.47L282.08,147.38L282.29,147.29L282.50,147.20L282.71,147.11L282.92,147.02L283.13,146.93L283.34,146.84L283.55,146.75L283.76,146.66L283.97,146.57L284.18,146.48L284.39,146.39L284.60,146.30L284.81,146.21L285.02,146.12L285.23,146.03L285.44,145.94L285.65,145.85L285.86,145.75L286.07,145.66L286.28,145.57L286.48,145.48L286.69,145.39L286.90,145.30L287.11,145.20L287.32,145.11L287.53,145.02L287.74,144.93L287.95,144.83L288.16,144.74L288.37,144.65L288.58,144.55L288.79,144.46L289.00,144.37L289.21,144.27L289.42,144.18L289.63,144.09L289.84,143.99L290.05,143.90L290.26,143.80L290.47,143.71L290.68,143.61L290.89,143.52L291.10,143.43L291.31,143.33L291.52,143.24L291.73,143.14L291.94,143.04L292.15,142.95L292.36,142.85L292.57,142.76L292.78,142.66L292.99,142.57L293.20,142.47L293.41,142.37" fill="none" stroke="#e00000" stroke-width="5.0" stroke-linejoin="round" stroke-linecap="butt" />
<path d="M34.20,183.62L34.41,183.57L34.62,183.53L34.83,183.48L35.04,183.44L35.25,183.40L35.46,183.35L35.67,183.30L35.88,183.26L36.09,183.21L36.30,183.17L36.51,183.12L36.72,183.08L36.93,183.03L37.14,182.98L37.35,182.94L37.56,182.90L37.77,182.85L37.98,182.81L38.19,182.76L38.40,182.72L38.61,182.68L38.82,182.64L39.03,182.60L39.24,182.56L39.45,182.52L39.66,182.49L39.87,182.45L40.08,182.42L40.29,182.38L40.50,182.35L40.71,182.32L40.92,182.29L41.13,182.27L41.34,182.24L41.55,182.22L41.76,182.19L41.97,182.17L42.18,182.16L42.39,182.14L42.60,182.13L42.81,182.12L43.02,182.11L43.23,182.10L43.44,182.09L43.64,182.09L43.85,182.09L44.06,182.09L44.27,182.10L44.48,182.11L44.69,182.12L44.90,182.13L45.11,182.15L45.32,182.17L45.53,182.19L45.74,182.21L45.95,182.23L46.16,182.26L46.37,182.28L46.58,182.30L46.79,182.33L47.00,182.35L47.21,182.37L47.42,182.39L47.63,182.41L47.84,182.42L48.05,182.43L48.26,182.44L48.47,182.45L48.68,182.45L48.89,182.45L49.10,182.45L49.31,182.44L49.52,182.42L49.73,182.40L49.94,182.37L50.15,182.34L50.36,182.30L50.57,182.25L50.78,182.20L50.99,182.14L51.20,182.07L51.41,182.00L51.62,181.92L51.83,181.84L52.04,181.75L52.25,181.66L52.46,181.56L52.67,181.46L52.88,181.35L53.09,181.24L53.30,181.12L53.51,181.00L53.72,180.88L53.93,180.75L54.14,180.62L54.35,180.48L54.56,180.34L54.77,180.20L54.98,180.05L55.19,179.90L55.40,179.75L55.61,179.60L55.82,179.44L56.03,179.28L56.24,179.12L56.45,178.96L56.66,178.79L56.87,178.63L57.08,178.46L57.29,178.29L57.50,178.12L57.71,177.95L57.92,177.78L58.13,177.60L58.34,177.43L58.55,177.26L58.76,177.08L58.97,176.91L59.18,176.74L59.39,176.56L59.60,176.39L59.81,176.22L60.02,176.04L60.23,175.87L60.44,175.70L60.65,175.54L60.86,175.37L61.07,175.20L61.28,175.04L61.49,174.88L61.70,174.72L61.91,174.56L62.12,174.41L62.32,174.25L62.53,174.10L62.74,173.96L62.95,173.81L63.16,173.67L63.37,173.53L63.58,173.40L63.79,173.27L64.00,173.14L64.21,173.02L64.42,172.90L64.63,172.79L64.84,172.68L65.05,172.57L65.26,172.47L65.47,172.38L65.68,172.29L65.89,172.20L66.10,172.12L66.31,172.05L66.52,171.98L66.73,171.92L66.94,171.86L67.15,171.81L67.36,171.77L67.57,171.73L67.78,171.70L67.99,171.68L68.20,171.66L68.41,171.65L68.62,171.65L68.83,171.65L69.04,171.66L69.25,171.68L69.46,171.71L69.67,171.74L69.88,171.78L70.09,171.83L70.30,171.89L70.51,171.95L70.72,172.02L70.93,172.10L71.14,172.18L71.35,172.27L71.56,172.37L71.77,172.47L71.98,172.57L72.19,172.67L72.40,172.78L72.61,172.89L72.82,173.00L73.03,173.12L73.24,173.23L73.45,173.34L73.66,173.45L73.87,173.56L74.08,173.66L74.29,173.76L74.50,173.86L74.71,173.96L74.92,174.04L75.13,174.13L75.34,174.20L75.55,174.27L75.76,174.34L75.97,174.40L76.18,174.46L76.39,174.51L76.60,174.56L76.81,174.60L77.02,174.64L77.23,174.68L77.44,174.71L77.65,174.74L77.86,174.77L78.07,174.79L78.28,174.81L78.49,174.83L78.70,174.85L78.91,174.86L79.12,174.88L79.33,174.89L79.54,174.90L79.75,174.91L79.96,174.92L80.17,174.93L80.38,174.93L80.59,174.94L80.80,174.94L81.00,174.95L81.21,174.95L81.42,174.95L81.63,174.95L81.84,174.95L82.05,174.94L82.26,174.93L82.47,174.92L82.68,174.91L82.89,174.90L83.10,174.88L83.31,174.86L83.52,174.83L83.73,174.81L83.94,174.78L84.15,174.74L84.36,174.71L84.57,174.67L84.78,174.62L84.99,174.57L85.20,174.52L85.41,174.47L85.62,174.41L85.83,174.35L86.04,174.28L86.25,174.22L86.46,174.15L86.67,174.07L86.88,174.00L87.09,173.92L87.30,173.85L87.51,173.77L87.72,173.68L87.93,173.60L88.14,173.52L88.35,173.43L88.56,173.35L88.77,173.26L88.98,173.17L89.19,173.08L89.40,173.00L89.61,172.91L89.82,172.82L90.03,172.73L90.24,172.65L90.45,172.56L90.66,172.47L90.87,172.39L91.08,172.30L91.29,172.22L91.50,172.14L91.71,172.06L91.92,171.98L92.13,171.90L92.34,171.83L92.55,171.75L92.76,171.68L92.97,171.61L93.18,171.54L93.39,171.47L93.60,171.40L93.81,171.33L94.02,171.26L94.23,171.19L94.44,171.12L94.65,171.04L94.86,170.97L95.07,170.90L95.28,170.82L95.49,170.75L95.70,170.67L95.91,170.59L96.12,170.50L96.33,170.42L96.54,170.33L96.75,170.24L96.96,170.14L97.17,170.04L97.38,169.94L97.59,169.84L97.80,169.73L98.01,169.62L98.22,169.50L98.43,169.38L98.64,169.25L98.85,169.12L99.06,168.99L99.27,168.85L99.48,168.71L99.68,168.57L99.89,168.43L100.10,168.29L100.31,168.14L100.52,168.00L100.73,167.85L100.94,167.71L101.15,167.57L101.36,167.43L101.57,167.29L101.78,167.16L101.99,167.02L102.20,166.89L102.41,166.77L102.62,166.65L102.83,166.53L103.04,166.42L103.25,166.31L103.46,166.21L103.67,166.12L103.88,166.03L104.09,165.95L104.30,165.88L104.51,165.81L104.72,165.76L104.93,165.71L105.14,165.67L105.35,165.64L105.56,165.62L105.77,165.61L105.98,165.60L106.19,165.60L106.40,165.60L106.61,165.61L106.82,165.63L107.03,165.65L107.24,165.68L107.45,165.72L107.66,165.75L107.87,165.80L108.08,165.84L108.29,165.90L108.50,165.95L108.71,166.01L108.92,166.07L109.13,166.13L109.34,166.20L109.55,166.27L109.76,166.34L109.97,166.41L110.18,166.49L110.39,166.56L110.60,166.64L110.81,166.71L111.02,166.79L111.23,166.87L111.44,166.94L111.65,167.02L111.86,167.09L112.07,167.17L112.28,167.24L112.49,167.31L112.70,167.38L112.91,167.45L113.12,167.51L113.33,167.58L113.54,167.64L113.75,167.70L113.96,167.77L114.17,167.83L114.38,167.89L114.59,167.94L114.80,168.00L115.01,168.06L115.22,168.11L115.43,168.16L115.64,168.22L115.85,168.27L116.06,168.32L116.27,168.36L116.48,168.41L116.69,168.46L116.90,168.50L117.11,168.55L117.32,168.59L117.53,168.63L117.74,168.67L117.95,168.71L118.16,168.75L118.36,168.79L118.57,168.82L118.78,168.86L118.99,168.89L119.20,168.92L119.41,168.96L119.62,168.99L119.83,169.02L120.04,169.05L120.25,169.07L120.46,169.10L120.67,169.13L120.88,169.15L121.09,169.17L121.30,169.20L121.51,169.22L121.72,169.24L121.93,169.26L122.14,169.28L122.35,169.29L122.56,169.31L122.77,169.33L122.98,169.34L123.19,169.35L123.40,169.37L123.61,169.38L123.82,169.39L124.03,169.40L124.24,169.41L124.45,169.42L124.66,169.43L124.87,169.43L125.08,169.44L125.29,169.44L125.50,169.45L125.71,169.45L125.92,169.45L126.13,169.45L126.34,169.45L126.55,169.45L126.76,169.45L126.97,169.45L127.18,169.45L127.39,169.45L127.60,169.44L127.81,169.44L128.02,169.43L128.23,169.42L128.44,169.42L128.65,169.41L128.86,169.40L129.07,169.39L129.28,169.38L129.49,169.37L129.70,169.36L129.91,169.34L130.12,169.33L130.33,169.32L130.54,169.30L130.75,169.29L130.96,169.27L131.17,169.25L131.38,169.24L131.59,169.22L131.80,169.20L132.01,169.18L132.22,169.16L132.43,169.14L132.64,169.12L132.85,169.10L133.06,169.07L133.27,169.05L133.48,169.03L133.69,169.00L133.90,168.98L134.11,168.95L134.32,168.92L134.53,168.90L134.74,168.87L134.95,168.84L135.16,168.81L135.37,168.79L135.58,168.76L135.79,168.73L136.00,168.70L136.21,168.67L136.42,168.63L136.63,168.60L136.84,168.57L137.04,168.54L137.25,168.50L137.46,168.47L137.67,168.43L137.88,168.40L138.09,168.36L138.30,168.33L138.51,168.29L138.72,168.26L138.93,168.22L139.14,168.18L139.35,168.14L139.56,168.11L139.77,168.07L139.98,168.03L140.19,167.99L140.40,167.95L140.61,167.91L140.82,167.87L141.03,167.83L141.24,167.79L141.45,167.74L141.66,167.70L141.87,167.66L142.08,167.62L142.29,167.57L142.50,167.53L142.71,167.49L142.92,167.44L143.13,167.40L143.34,167.35L143.55,167.31L143.76,167.27L143.97,167.22L144.18,167.17L144.39,167.13L144.60,167.08L144.81,167.04L145.02,166.99L145.23,166.94L145.44,166.90L145.65,166.85L145.86,166.80L146.07,166.76L146.28,166.71L146.49,166.66L146.70,166.61L146.91,166.56L147.12,166.52L147.33,166.47L147.54,166.42L147.75,166.37L147.96,166.32L148.17,166.27L148.38,166.22L148.59,166.17L148.80,166.13L149.01,166.08L149.22,166.03L149.43,165.98L149.64,165.93L149.85,165.88L150.06,165.83L150.27,165.78L150.48,165.73L150.69,165.68L150.90,165.63L151.11,165.58L151.32,165.53L151.53,165.48L151.74,165.43L151.95,165.38L152.16,165.33L152.37,165.28L152.58,165.23L152.79,165.18L153.00,165.13L153.21,165.08L153.42,165.03L153.63,164.98L153.84,164.93L154.05,164.88L154.26,164.83L154.47,164.78L154.68,164.73L154.89,164.68L155.10,164.63L155.31,164.58L155.52,164.53L155.72,164.48L155.93,164.43L156.14,164.38L156.35,164.33L156.56,164.28L156.77,164.23L156.98,164.18L157.19,164.12L157.40,164.07L157.61,164.02L157.82,163.97L158.03,163.92L158.24,163.87L158.45,163.82L158.66,163.77L158.87,163.72L159.08,163.67L159.29,163.62L159.50,163.57L159.71,163.52L159.92,163.47L160.13,163.42L160.34,163.37L160.55,163.32L160.76,163.27L160.97,163.22L161.18,163.17L161.39,163.11L161.60,163.06L161.81,163.01L162.02,162.96L162.23,162.91L162.44,162.86L162.65,162.81L162.86,162.76L163.07,162.71L163.28,162.66L163.49,162.61L163.70,162.56L163.91,162.51L164.12,162.45L164.33,162.40L164.54,162.35L164.75,162.30L164.96,162.25L165.17,162.20L165.38,162.15L165.59,162.10L165.80,162.05L166.01,162.00L166.22,161.94L166.43,161.89L166.64,161.84L166.85,161.79L167.06,161.74L167.27,161.69L167.48,161.64L167.69,161.59L167.90,161.54L168.11,161.48L168.32,161.43L168.53,161.38L168.74,161.33L168.95,161.28L169.16,161.23L169.37,161.18L169.58,161.12L169.79,161.07L170.00,161.02L170.21,160.97L170.42,160.92L170.63,160.87L170.84,160.82L171.05,160.76L171.26,160.71L171.47,160.66L171.68,160.61L171.89,160.56L172.10,160.51L172.31,160.45L172.52,160.40L172.73,160.35L172.94,160.30L173.15,160.25L173.36,160.20L173.57,160.14L173.78,160.09L173.99,160.04L174.20,159.99L174.40,159.94L174.61,159.88L174.82,159.83L175.03,159.78L175.24,159.73L175.45,159.68L175.66,159.62L175.87,159.57L176.08,159.52L176.29,159.47L176.50,159.42L176.71,159.36L176.92,159.31L177.13,159.26L177.34,159.21L177.55,159.15L177.76,159.10L177.97,159.05L178.18,159.00L178.39,158.95L178.60,158.89L178.81,158.84L179.02,158.79L179.23,158.74L179.44,158.68L179.65,158.63L179.86,158.58L180.07,158.53L180.28,158.47L180.49,158.42L180.70,158.37L180.91,158.32L181.12,158.26L181.33,158.21L181.54,158.16L181.75,158.10L181.96,158.05L182.17,158.00L182.38,157.95L182.59,157.89L182.80,157.84L183.01,157.79L183.22,157.73L183.43,157.68L183.64,157.63L183.85,157.58L184.06,157.52L184.27,157.47L184.48,157.42L184.69,157.36L184.90,157.31L185.11,157.26L185.32,157.20L185.53,157.15L185.74,157.10L185.95,157.04L186.16,156.99L186.37,156.94L186.58,156.88L186.79,156.83L187.00,156.78L187.21,156.72L187.42,156.67L187.63,156.62L187.84,156.56L188.05,156.51L188.26,156.46L188.47,156.40L188.68,156.35L188.89,156.29L189.10,156.24L189.31,156.19L189.52,156.13L189.73,156.08L189.94,156.03L190.15,155.97L190.36,155.92L190.57,155.86L190.78,155.81L190.99,155.76L191.20,155.70L191.41,155.65L191.62,155.59L191.83,155.54L192.04,155.49L192.25,155.43L192.46,155.38L192.67,155.32L192.88,155.27L193.08,155.21L193.29,155.16L193.50,155.11L193.71,155.05L193.92,155.00L194.13,154.94L194.34,154.89L194.55,154.83L194.76,154.78L194.97,154.72L195.18,154.67L195.39,154.62L195.60,154.56L195.81,154.51L196.02,154.45L196.23,154.40L196.44,154.34L196.65,154.29L196.86,154.23L197.07,154.18L197.28,154.12L197.49,154.07L197.70,154.01L197.91,153.96L198.12,153.90L198.33,153.85L198.54,153.79L198.75,153.74L198.96,153.68L199.17,153.63L199.38,153.57L199.59,153.52L199.80,153.46L200.01,153.41L200.22,153.35L200.43,153.29L200.64,153.24L200.85,153.18L201.06,153.13L201.27,153.07L201.48,153.02L201.69,152.96L201.90,152.91L202.11,152.85L202.32,152.79L202.53,152.74L202.74,152.68L202.95,152.63L203.16,152.57L203.37,152.52L203.58,152.46L203.79,152.40L204.00,152.35L204.21,152.29L204.42,152.24L204.63,152.18L204.84,152.12L205.05,152.07L205.26,152.01L205.47,151.95L205.68,151.90L205.89,151.84L206.10,151.79L206.31,151.73L206.52,151.67L206.73,151.62L206.94,151.56L207.15,151.50L207.36,151.45L207.57,151.39L207.78,151.33L207.99,151.28L208.20,151.22L208.41,151.16L208.62,151.11L208.83,151.05L209.04,150.99L209.25,150.94L209.46,150.88L209.67,150.82L209.88,150.76L210.09,150.71L210.30,150.65L210.51,150.59L210.72,150.54L210.93,150.48L211.14,150.42L211.35,150.36L211.56,150.31L211.76,150.25L211.97,150.19L212.18,150.13L212.39,150.08L212.60,150.02L212.81,149.96L213.02,149.90L213.23,149.85L213.44,149.79L213.65,149.73L213.86,149.67L214.07,149.62L214.28,149.56L214.49,149.50L214.70,149.44L214.91,149.38L215.12,149.33L215.33,149.27L215.54,149.21L215.75,149.15L215.96,149.09L216.17,149.04L216.38,148.98L216.59,148.92L216.80,148.86L217.01,148.80L217.22,148.74L217.43,148.69L217.64,148.63L217.85,148.57L218.06,148.51L218.27,148.45L218.48,148.39L218.69,148.33L218.90,148.28L219.11,148.22L219.32,148.16L219.53,148.10L219.74,148.04L219.95,147.98L220.16,147.92L220.37,147.86L220.58,147.80L220.79,147.74L221.00,147.69L221.21,147.63L221.42,147.57L221.63,147.51L221.84,147.45L222.05,147.39L222.26,147.33L222.47,147.27L222.68,147.21L222.89,147.15L223.10,147.09L223.31,147.03L223.52,146.97L223.73,146.91L223.94,146.85L224.15,146.79L224.36,146.73L224.57,146.67L224.78,146.61L224.99,146.55L225.20,146.49L225.41,146.43L225.62,146.37L225.83,146.31L226.04,146.25L226.25,146.19L226.46,146.13L226.67,146.07L226.88,146.01L227.09,145.95L227.30,145.89L227.51,145.83L227.72,145.77L227.93,145.71L228.14,145.65L228.35,145.59L228.56,145.53L228.77,145.47L228.98,145.40L229.19,145.34L229.40,145.28L229.61,145.22L229.82,145.16L230.03,145.10L230.24,145.04L230.44,144.98L230.65,144.92L230.86,144.85L231.07,144.79L231.28,144.73L231.49,144.67L231.70,144.61L231.91,144.55L232.12,144.49L232.33,144.42L232.54,144.36L232.75,144.30L232.96,144.24L233.17,144.18L233.38,144.12L233.59,144.05L233.80,143.99L234.01,143.93L234.22,143.87L234.43,143.81L234.64,143.74L234.85,143.68L235.06,143.62L235.27,143.56L235.48,143.50L235.69,143.43L235.90,143.37L236.11,143.31L236.32,143.25L236.53,143.18L236.74,143.12L236.95,143.06L237.16,142.99L237.37,142.93L237.58,142.87L237.79,142.81L238.00,142.74L238.21,142.68L238.42,142.62L238.63,142.55L238.84,142.49L239.05,142.43L239.26,142.36L239.47,142.30L239.68,142.24L239.89,142.17L240.10,142.11L240.31,142.05L240.52,141.98L240.73,141.92L240.94,141.86L241.15,141.79L241.36,141.73L241.57,141.67L241.78,141.60L241.99,141.54L242.20,141.47L242.41,141.41L242.62,141.35L242.83,141.28L243.04,141.22L243.25,141.15L243.46,141.09L243.67,141.03L243.88,140.96L244.09,140.90L244.30,140.83L244.51,140.77L244.72,140.70L244.93,140.64L245.14,140.57L245.35,140.51L245.56,140.44L245.77,140.38L245.98,140.31L246.19,140.25L246.40,140.19L246.61,140.12L246.82,140.05L247.03,139.99L247.24,139.92L247.45,139.86L247.66,139.79L247.87,139.73L248.08,139.66L248.29,139.60L248.50,139.53L248.71,139.47L248.92,139.40L249.12,139.34L249.33,139.27L249.54,139.20L249.75,139.14L249.96,139.07L250.17,139.01L250.38,138.94L250.59,138.87L250.80,138.81L251.01,138.74L251.22,138.68L251.43,138.61L251.64,138.54L251.85,138.48L252.06,138.41L252.27,138.34L252.48,138.28L252.69,138.21L252.90,138.14L253.11,138.08L253.32,138.01L253.53,137.94L253.74,137.88L253.95,137.81L254.16,137.74L254.37,137.68L254.58,137.61L254.79,137.54L255.00,137.47L255.21,137.41L255.42,137.34L255.63,137.27L255.84,137.20L256.05,137.14L256.26,137.07L256.47,137.00L256.68,136.93L256.89,136.87L257.10,136.80L257.31,136.73L257.52,136.66L257.73,136.59L257.94,136.53L258.15,136.46L258.36,136.39L258.57,136.32L258.78,136.25L258.99,136.19L259.20,136.12L259.41,136.05L259.62,135.98L259.83,135.91L260.04,135.84L260.25,135.77L260.46,135.71L260.67,135.64L260.88,135.57L261.09,135.50L261.30,135.43L261.51,135.36L261.72,135.29L261.93,135.22L262.14,135.15L262.35,135.08L262.56,135.01L262.77,134.94L262.98,134.88L263.19,134.81L263.40,134.74L263.61,134.67L263.82,134.60L264.03,134.53L264.24,134.46L264.45,134.39L264.66,134.32L264.87,134.25L265.08,134.18L265.29,134.11L265.50,134.04L265.71,133.97L265.92,133.90L266.13,133.83L266.34,133.76L266.55,133.69L266.76,133.61L266.97,133.54L267.18,133.47L267.39,133.40L267.60,133.33L267.80,133.26L268.01,133.19L268.22,133.12L268.43,133.05L268.64,132.98L268.85,132.91L269.06,132.83L269.27,132.76L269.48,132.69L269.69,132.62L269.90,132.55L270.11,132.48L270.32,132.40L270.53,132.33L270.74,132.26L270.95,132.19L271.16,132.12L271.37,132.05L271.58,131.97L271.79,131.90L272.00,131.83L272.21,131.76L272.42,131.68L272.63,131.61L272.84,131.54L273.05,131.47L273.26,131.40L273.47,131.32L273.68,131.25L273.89,131.18L274.10,131.10L274.31,131.03L274.52,130.96L274.73,130.89L274.94,130.81L275.15,130.74L275.36,130.67L275.57,130.59L275.78,130.52L275.99,130.45L276.20,130.37L276.41,130.30L276.62,130.23L276.83,130.15L277.04,130.08L277.25,130.00L277.46,129.93L277.67,129.86L277.88,129.78L278.09,129.71L278.30,129.63L278.51,129.56L278.72,129.49L278.93,129.41L279.14,129.34L279.35,129.26L279.56,129.19L279.77,129.11L279.98,129.04L280.19,128.96L280.40,128.89L280.61,128.81L280.82,128.74L281.03,128.66L281.24,128.59L281.45,128.51L281.66,128.44L281.87,128.36L282.08,128.29L282.29,128.21L282.50,128.14L282.71,128.06L282.92,127.99L283.13,127.91L283.34,127.83L283.55,127.76L283.76,127.68L283.97,127.61L284.18,127.53L284.39,127.45L284.60,127.38L284.81,127.30L285.02,127.23L285.23,127.15L285.44,127.07L285.65,127.00L285.86,126.92L286.07,126.84L286.28,126.77L286.48,126.69L286.69,126.61L286.90,126.54L287.11,126.46L287.32,126.38L287.53,126.30L287.74,126.23L287.95,126.15L288.16,126.07L288.37,126.00L288.58,125.92L288.79,125.84L289.00,125.76L289.21,125.68L289.42,125.61L289.63,125.53L289.84,125.45L290.05,125.37L290.26,125.29L290.47,125.22L290.68,125.14L290.89,125.06L291.10,124.98L291.31,124.90L291.52,124.82L291.73,124.75L291.94,124.67L292.15,124.59L292.36,124.51L292.57,124.43L292.78,124.35L292.99,124.27L293.20,124.19L293.41,124.11" fill="none" stroke="#0000ff" stroke-width="5.0" stroke-linejoin="round" stroke-linecap="butt" />
<path d="M34.20,191.97L34.41,191.94L34.62,191.92L34.83,191.90L35.04,191.88L35.25,191.87L35.46,191.85L35.67,191.83L35.88,191.82L36.09,191.80L36.30,191.79L36.51,191.78L36.72,191.76L36.93,191.75L37.14,191.74L37.35,191.73L37.56,191.72L37.77,191.71L37.98,191.70L38.19,191.70L38.40,191.69L38.61,191.68L38.82,191.67L39.03,191.67L39.24,191.66L39.45,191.65L39.66,191.65L39.87,191.64L40.08,191.63L40.29,191.63L40.50,191.62L40.71,191.62L40.92,191.61L41.13,191.61L41.34,191.60L41.55,191.59L41.76,191.59L41.97,191.58L42.18,191.57L42.39,191.57L42.60,191.56L42.81,191.55L43.02,191.55L43.23,191.54L43.44,191.53L43.64,191.52L43.85,191.51L44.06,191.50L44.27,191.49L44.48,191.48L44.69,191.46L44.90,191.45L45.11,191.44L45.32,191.42L45.53,191.41L45.74,191.39L45.95,191.37L46.16,191.35L46.37,191.34L46.58,191.32L46.79,191.29L47.00,191.27L47.21,191.25L47.42,191.22L47.63,191.20L47.84,191.17L48.05,191.14L48.26,191.11L48.47,191.08L48.68,191.05L48.89,191.02L49.10,190.98L49.31,190.95L49.52,190.91L49.73,190.87L49.94,190.83L50.15,190.78L50.36,190.74L50.57,190.69L50.78,190.65L50.99,190.60L51.20,190.54L51.41,190.49L51.62,190.44L51.83,190.38L52.04,190.32L52.25,190.26L52.46,190.20L52.67,190.13L52.88,190.06L53.09,189.99L53.30,189.92L53.51,189.85L53.72,189.77L53.93,189.70L54.14,189.61L54.35,189.53L54.56,189.45L54.77,189.36L54.98,189.27L55.19,189.18L55.40,189.08L55.61,188.98L55.82,188.88L56.03,188.78L56.24,188.67L56.45,188.57L56.66,188.46L56.87,188.34L57.08,188.23L57.29,188.11L57.50,187.99L57.71,187.88L57.92,187.75L58.13,187.63L58.34,187.51L58.55,187.39L58.76,187.27L58.97,187.14L59.18,187.02L59.39,186.90L59.60,186.77L59.81,186.65L60.02,186.53L60.23,186.41L60.44,186.29L60.65,186.17L60.86,186.05L61.07,185.93L61.28,185.82L61.49,185.71L61.70,185.60L61.91,185.49L62.12,185.38L62.32,185.28L62.53,185.18L62.74,185.08L62.95,184.99L63.16,184.90L63.37,184.81L63.58,184.73L63.79,184.65L64.00,184.57L64.21,184.50L64.42,184.44L64.63,184.38L64.84,184.32L65.05,184.27L65.26,184.22L65.47,184.18L65.68,184.15L65.89,184.12L66.10,184.09L66.31,184.07L66.52,184.06L66.73,184.06L66.94,184.06L67.15,184.07L67.36,184.09L67.57,184.11L67.78,184.14L67.99,184.18L68.20,184.22L68.41,184.28L68.62,184.34L68.83,184.41L69.04,184.49L69.25,184.58L69.46,184.67L69.67,184.78L69.88,184.89L70.09,185.01L70.30,185.13L70.51,185.26L70.72,185.39L70.93,185.53L71.14,185.68L71.35,185.82L71.56,185.98L71.77,186.13L71.98,186.29L72.19,186.44L72.40,186.60L72.61,186.77L72.82,186.93L73.03,187.09L73.24,187.25L73.45,187.41L73.66,187.57L73.87,187.73L74.08,187.88L74.29,188.03L74.50,188.18L74.71,188.33L74.92,188.47L75.13,188.61L75.34,188.74L75.55,188.87L75.76,188.99L75.97,189.11L76.18,189.23L76.39,189.34L76.60,189.45L76.81,189.55L77.02,189.65L77.23,189.74L77.44,189.83L77.65,189.92L77.86,190.00L78.07,190.08L78.28,190.16L78.49,190.23L78.70,190.30L78.91,190.36L79.12,190.42L79.33,190.48L79.54,190.53L79.75,190.58L79.96,190.63L80.17,190.67L80.38,190.71L80.59,190.74L80.80,190.78L81.00,190.80L81.21,190.83L81.42,190.85L81.63,190.87L81.84,190.89L82.05,190.90L82.26,190.91L82.47,190.92L82.68,190.92L82.89,190.92L83.10,190.92L83.31,190.91L83.52,190.90L83.73,190.89L83.94,190.87L84.15,190.85L84.36,190.83L84.57,190.80L84.78,190.78L84.99,190.74L85.20,190.71L85.41,190.67L85.62,190.64L85.83,190.59L86.04,190.55L86.25,190.51L86.46,190.46L86.67,190.41L86.88,190.36L87.09,190.31L87.30,190.25L87.51,190.20L87.72,190.14L87.93,190.09L88.14,190.03L88.35,189.97L88.56,189.92L88.77,189.86L88.98,189.80L89.19,189.74L89.40,189.68L89.61,189.62L89.82,189.57L90.03,189.51L90.24,189.45L90.45,189.40L90.66,189.34L90.87,189.29L91.08,189.24L91.29,189.19L91.50,189.14L91.71,189.09L91.92,189.05L92.13,189.00L92.34,188.96L92.55,188.92L92.76,188.88L92.97,188.84L93.18,188.81L93.39,188.77L93.60,188.74L93.81,188.70L94.02,188.67L94.23,188.63L94.44,188.60L94.65,188.57L94.86,188.53L95.07,188.50L95.28,188.46L95.49,188.43L95.70,188.39L95.91,188.35L96.12,188.31L96.33,188.27L96.54,188.23L96.75,188.18L96.96,188.14L97.17,188.09L97.38,188.04L97.59,187.98L97.80,187.93L98.01,187.87L98.22,187.80L98.43,187.74L98.64,187.67L98.85,187.60L99.06,187.53L99.27,187.45L99.48,187.37L99.68,187.30L99.89,187.22L100.10,187.14L100.31,187.06L100.52,186.98L100.73,186.90L100.94,186.82L101.15,186.74L101.36,186.66L101.57,186.59L101.78,186.51L101.99,186.44L102.20,186.37L102.41,186.31L102.62,186.24L102.83,186.18L103.04,186.13L103.25,186.07L103.46,186.03L103.67,185.98L103.88,185.94L104.09,185.91L104.30,185.88L104.51,185.86L104.72,185.85L104.93,185.84L105.14,185.83L105.35,185.83L105.56,185.84L105.77,185.85L105.98,185.87L106.19,185.89L106.40,185.92L106.61,185.95L106.82,185.99L107.03,186.03L107.24,186.07L107.45,186.11L107.66,186.16L107.87,186.21L108.08,186.27L108.29,186.33L108.50,186.38L108.71,186.44L108.92,186.51L109.13,186.57L109.34,186.63L109.55,186.70L109.76,186.77L109.97,186.83L110.18,186.90L110.39,186.97L110.60,187.03L110.81,187.10L111.02,187.16L111.23,187.23L111.44,187.29L111.65,187.35L111.86,187.41L112.07,187.47L112.28,187.53L112.49,187.58L112.70,187.63L112.91,187.68L113.12,187.73L113.33,187.78L113.54,187.82L113.75,187.86L113.96,187.91L114.17,187.94L114.38,187.98L114.59,188.02L114.80,188.05L115.01,188.09L115.22,188.12L115.43,188.15L115.64,188.18L115.85,188.21L116.06,188.23L116.27,188.26L116.48,188.28L116.69,188.30L116.90,188.32L117.11,188.34L117.32,188.36L117.53,188.38L117.74,188.39L117.95,188.41L118.16,188.42L118.36,188.44L118.57,188.45L118.78,188.46L118.99,188.47L119.20,188.48L119.41,188.49L119.62,188.49L119.83,188.50L120.04,188.51L120.25,188.51L120.46,188.52L120.67,188.52L120.88,188.52L121.09,188.53L121.30,188.53L121.51,188.53L121.72,188.53L121.93,188.53L122.14,188.53L122.35,188.53L122.56,188.53L122.77,188.53L122.98,188.53L123.19,188.53L123.40,188.52L123.61,188.52L123.82,188.51L124.03,188.51L124.24,188.51L124.45,188.50L124.66,188.49L124.87,188.49L125.08,188.48L125.29,188.47L125.50,188.46L125.71,188.46L125.92,188.45L126.13,188.44L126.34,188.43L126.55,188.42L126.76,188.41L126.97,188.40L127.18,188.38L127.39,188.37L127.60,188.36L127.81,188.35L128.02,188.33L128.23,188.32L128.44,188.30L128.65,188.29L128.86,188.27L129.07,188.26L129.28,188.24L129.49,188.23L129.70,188.21L129.91,188.19L130.12,188.17L130.33,188.16L130.54,188.14L130.75,188.12L130.96,188.10L131.17,188.08L131.38,188.06L131.59,188.04L131.80,188.02L132.01,188.00L132.22,187.98L132.43,187.96L132.64,187.93L132.85,187.91L133.06,187.89L133.27,187.86L133.48,187.84L133.69,187.82L133.90,187.79L134.11,187.77L134.32,187.74L134.53,187.72L134.74,187.69L134.95,187.67L135.16,187.64L135.37,187.61L135.58,187.59L135.79,187.56L136.00,187.53L136.21,187.51L136.42,187.48L136.63,187.45L136.84,187.42L137.04,187.39L137.25,187.36L137.46,187.33L137.67,187.30L137.88,187.27L138.09,187.24L138.30,187.21L138.51,187.18L138.72,187.15L138.93,187.12L139.14,187.09L139.35,187.06L139.56,187.03L139.77,186.99L139.98,186.96L140.19,186.93L140.40,186.90L140.61,186.86L140.82,186.83L141.03,186.80L141.24,186.76L141.45,186.73L141.66,186.70L141.87,186.66L142.08,186.63L142.29,186.59L142.50,186.56L142.71,186.52L142.92,186.49L143.13,186.45L143.34,186.42L143.55,186.38L143.76,186.35L143.97,186.31L144.18,186.27L144.39,186.24L144.60,186.20L144.81,186.16L145.02,186.13L145.23,186.09L145.44,186.05L145.65,186.02L145.86,185.98L146.07,185.94L146.28,185.90L146.49,185.87L146.70,185.83L146.91,185.79L147.12,185.75L147.33,185.72L147.54,185.68L147.75,185.64L147.96,185.60L148.17,185.56L148.38,185.52L148.59,185.49L148.80,185.45L149.01,185.41L149.22,185.37L149.43,185.33L149.64,185.29L149.85,185.25L150.06,185.21L150.27,185.17L150.48,185.13L150.69,185.10L150.90,185.06L151.11,185.02L151.32,184.98L151.53,184.94L151.74,184.90L151.95,184.86L152.16,184.82L152.37,184.78L152.58,184.74L152.79,184.70L153.00,184.66L153.21,184.62L153.42,184.58L153.63,184.54L153.84,184.50L154.05,184.46L154.26,184.42L154.47,184.38L154.68,184.34L154.89,184.30L155.10,184.27L155.31,184.23L155.52,184.19L155.72,184.15L155.93,184.11L156.14,184.07L156.35,184.03L156.56,183.99L156.77,183.94L156.98,183.90L157.19,183.86L157.40,183.82L157.61,183.78L157.82,183.74L158.03,183.70L158.24,183.66L158.45,183.62L158.66,183.58L158.87,183.54L159.08,183.50L159.29,183.46L159.50,183.42L159.71,183.38L159.92,183.34L160.13,183.30L160.34,183.26L160.55,183.22L160.76,183.18L160.97,183.13L161.18,183.09L161.39,183.05L161.60,183.01L161.81,182.97L162.02,182.93L162.23,182.89L162.44,182.85L162.65,182.81L162.86,182.77L163.07,182.72L163.28,182.68L163.49,182.64L163.70,182.60L163.91,182.56L164.12,182.52L164.33,182.48L164.54,182.43L164.75,182.39L164.96,182.35L165.17,182.31L165.38,182.27L165.59,182.23L165.80,182.18L166.01,182.14L166.22,182.10L166.43,182.06L166.64,182.02L166.85,181.97L167.06,181.93L167.27,181.89L167.48,181.85L167.69,181.81L167.90,181.76L168.11,181.72L168.32,181.68L168.53,181.64L168.74,181.60L168.95,181.55L169.16,181.51L169.37,181.47L169.58,181.43L169.79,181.38L170.00,181.34L170.21,181.30L170.42,181.25L170.63,181.21L170.84,181.17L171.05,181.13L171.26,181.08L171.47,181.04L171.68,181.00L171.89,180.95L172.10,180.91L172.31,180.87L172.52,180.83L172.73,180.78L172.94,180.74L173.15,180.70L173.36,180.65L173.57,180.61L173.78,180.57L173.99,180.52L174.20,180.48L174.40,180.43L174.61,180.39L174.82,180.35L175.03,180.30L175.24,180.26L175.45,180.22L175.66,180.17L175.87,180.13L176.08,180.08L176.29,180.04L176.50,180.00L176.71,179.95L176.92,179.91L177.13,179.86L177.34,179.82L177.55,179.78L177.76,179.73L177.97,179.69L178.18,179.64L178.39,179.60L178.60,179.55L178.81,179.51L179.02,179.46L179.23,179.42L179.44,179.37L179.65,179.33L179.86,179.28L180.07,179.24L180.28,179.19L180.49,179.15L180.70,179.10L180.91,179.06L181.12,179.01L181.33,178.97L181.54,178.92L181.75,178.88L181.96,178.83L182.17,178.79L182.38,178.74L182.59,178.70L182.80,178.65L183.01,178.61L183.22,178.56L183.43,178.51L183.64,178.47L183.85,178.42L184.06,178.38L184.27,178.33L184.48,178.28L184.69,178.24L184.90,178.19L185.11,178.15L185.32,178.10L185.53,178.05L185.74,178.01L185.95,177.96L186.16,177.91L186.37,177.87L186.58,177.82L186.79,177.77L187.00,177.73L187.21,177.68L187.42,177.63L187.63,177.59L187.84,177.54L188.05,177.49L188.26,177.45L188.47,177.40L188.68,177.35L188.89,177.30L189.10,177.26L189.31,177.21L189.52,177.16L189.73,177.11L189.94,177.07L190.15,177.02L190.36,176.97L190.57,176.92L190.78,176.88L190.99,176.83L191.20,176.78L191.41,176.73L191.62,176.68L191.83,176.64L192.04,176.59L192.25,176.54L192.46,176.49L192.67,176.44L192.88,176.40L193.08,176.35L193.29,176.30L193.50,176.25L193.71,176.20L193.92,176.15L194.13,176.10L194.34,176.05L194.55,176.01L194.76,175.96L194.97,175.91L195.18,175.86L195.39,175.81L195.60,175.76L195.81,175.71L196.02,175.66L196.23,175.61L196.44,175.56L196.65,175.51L196.86,175.46L197.07,175.41L197.28,175.36L197.49,175.31L197.70,175.26L197.91,175.21L198.12,175.16L198.33,175.11L198.54,175.06L198.75,175.01L198.96,174.96L199.17,174.91L199.38,174.86L199.59,174.81L199.80,174.76L200.01,174.71L200.22,174.66L200.43,174.61L200.64,174.56L200.85,174.51L201.06,174.46L201.27,174.41L201.48,174.36L201.69,174.31L201.90,174.25L202.11,174.20L202.32,174.15L202.53,174.10L202.74,174.05L202.95,174.00L203.16,173.95L203.37,173.89L203.58,173.84L203.79,173.79L204.00,173.74L204.21,173.69L204.42,173.63L204.63,173.58L204.84,173.53L205.05,173.48L205.26,173.43L205.47,173.37L205.68,173.32L205.89,173.27L206.10,173.22L206.31,173.16L206.52,173.11L206.73,173.06L206.94,173.00L207.15,172.95L207.36,172.90L207.57,172.85L207.78,172.79L207.99,172.74L208.20,172.69L208.41,172.63L208.62,172.58L208.83,172.53L209.04,172.47L209.25,172.42L209.46,172.36L209.67,172.31L209.88,172.26L210.09,172.20L210.30,172.15L210.51,172.09L210.72,172.04L210.93,171.99L211.14,171.93L211.35,171.88L211.56,171.82L211.76,171.77L211.97,171.71L212.18,171.66L212.39,171.60L212.60,171.55L212.81,171.49L213.02,171.44L213.23,171.38L213.44,171.33L213.65,171.27L213.86,171.22L214.07,171.16L214.28,171.11L214.49,171.05L214.70,171.00L214.91,170.94L215.12,170.88L215.33,170.83L215.54,170.77L215.75,170.72L215.96,170.66L216.17,170.60L216.38,170.55L216.59,170.49L216.80,170.44L217.01,170.38L217.22,170.32L217.43,170.27L217.64,170.21L217.85,170.15L218.06,170.10L218.27,170.04L218.48,169.98L218.69,169.92L218.90,169.87L219.11,169.81L219.32,169.75L219.53,169.69L219.74,169.64L219.95,169.58L220.16,169.52L220.37,169.46L220.58,169.41L220.79,169.35L221.00,169.29L221.21,169.23L221.42,169.17L221.63,169.12L221.84,169.06L222.05,169.00L222.26,168.94L222.47,168.88L222.68,168.82L222.89,168.76L223.10,168.70L223.31,168.65L223.52,168.59L223.73,168.53L223.94,168.47L224.15,168.41L224.36,168.35L224.57,168.29L224.78,168.23L224.99,168.17L225.20,168.11L225.41,168.05L225.62,167.99L225.83,167.93L226.04,167.87L226.25,167.81L226.46,167.75L226.67,167.69L226.88,167.63L227.09,167.57L227.30,167.51L227.51,167.45L227.72,167.39L227.93,167.33L228.14,167.27L228.35,167.20L228.56,167.14L228.77,167.08L228.98,167.02L229.19,166.96L229.40,166.90L229.61,166.84L229.82,166.77L230.03,166.71L230.24,166.65L230.44,166.59L230.65,166.53L230.86,166.46L231.07,166.40L231.28,166.34L231.49,166.28L231.70,166.21L231.91,166.15L232.12,166.09L232.33,166.03L232.54,165.96L232.75,165.90L232.96,165.84L233.17,165.77L233.38,165.71L233.59,165.65L233.80,165.58L234.01,165.52L234.22,165.46L234.43,165.39L234.64,165.33L234.85,165.27L235.06,165.20L235.27,165.14L235.48,165.07L235.69,165.01L235.90,164.95L236.11,164.88L236.32,164.82L236.53,164.75L236.74,164.69L236.95,164.62L237.16,164.56L237.37,164.49L237.58,164.43L237.79,164.36L238.00,164.30L238.21,164.23L238.42,164.17L238.63,164.10L238.84,164.03L239.05,163.97L239.26,163.90L239.47,163.84L239.68,163.77L239.89,163.70L240.10,163.64L240.31,163.57L240.52,163.51L240.73,163.44L240.94,163.37L241.15,163.31L241.36,163.24L241.57,163.17L241.78,163.10L241.99,163.04L242.20,162.97L242.41,162.90L242.62,162.84L242.83,162.77L243.04,162.70L243.25,162.63L243.46,162.56L243.67,162.50L243.88,162.43L244.09,162.36L244.30,162.29L244.51,162.22L244.72,162.16L244.93,162.09L245.14,162.02L245.35,161.95L245.56,161.88L245.77,161.81L245.98,161.74L246.19,161.67L246.40,161.60L246.61,161.54L246.82,161.47L247.03,161.40L247.24,161.33L247.45,161.26L247.66,161.19L247.87,161.12L248.08,161.05L248.29,160.98L248.50,160.91L248.71,160.84L248.92,160.77L249.12,160.69L249.33,160.62L249.54,160.55L249.75,160.48L249.96,160.41L250.17,160.34L250.38,160.27L250.59,160.20L250.80,160.13L251.01,160.05L251.22,159.98L251.43,159.91L251.64,159.84L251.85,159.77L252.06,159.70L252.27,159.62L252.48,159.55L252.69,159.48L252.90,159.41L253.11,159.33L253.32,159.26L253.53,159.19L253.74,159.11L253.95,159.04L254.16,158.97L254.37,158.90L254.58,158.82L254.79,158.75L255.00,158.67L255.21,158.60L255.42,158.53L255.63,158.45L255.84,158.38L256.05,158.31L256.26,158.23L256.47,158.16L256.68,158.08L256.89,158.01L257.10,157.93L257.31,157.86L257.52,157.78L257.73,157.71L257.94,157.63L258.15,157.56L258.36,157.48L258.57,157.41L258.78,157.33L258.99,157.26L259.20,157.18L259.41,157.10L259.62,157.03L259.83,156.95L260.04,156.88L260.25,156.80L260.46,156.72L260.67,156.65L260.88,156.57L261.09,156.49L261.30,156.42L261.51,156.34L261.72,156.26L261.93,156.18L262.14,156.11L262.35,156.03L262.56,155.95L262.77,155.87L262.98,155.80L263.19,155.72L263.40,155.64L263.61,155.56L263.82,155.48L264.03,155.41L264.24,155.33L264.45,155.25L264.66,155.17L264.87,155.09L265.08,155.01L265.29,154.93L265.50,154.85L265.71,154.77L265.92,154.70L266.13,154.62L266.34,154.54L266.55,154.46L266.76,154.38L266.97,154.30L267.18,154.22L267.39,154.14L267.60,154.06L267.80,153.97L268.01,153.89L268.22,153.81L268.43,153.73L268.64,153.65L268.85,153.57L269.06,153.49L269.27,153.41L269.48,153.33L269.69,153.24L269.90,153.16L270.11,153.08L270.32,153.00L270.53,152.92L270.74,152.84L270.95,152.75L271.16,152.67L271.37,152.59L271.58,152.51L271.79,152.42L272.00,152.34L272.21,152.26L272.42,152.17L272.63,152.09L272.84,152.01L273.05,151.92L273.26,151.84L273.47,151.76L273.68,151.67L273.89,151.59L274.10,151.50L274.31,151.42L274.52,151.34L274.73,151.25L274.94,151.17L275.15,151.08L275.36,151.00L275.57,150.91L275.78,150.83L275.99,150.74L276.20,150.66L276.41,150.57L276.62,150.48L276.83,150.40L277.04,150.31L277.25,150.23L277.46,150.14L277.67,150.05L277.88,149.97L278.09,149.88L278.30,149.80L278.51,149.71L278.72,149.62L278.93,149.53L279.14,149.45L279.35,149.36L279.56,149.27L279.77,149.19L279.98,149.10L280.19,149.01L280.40,148.92L280.61,148.83L280.82,148.75L281.03,148.66L281.24,148.57L281.45,148.48L281.66,148.39L281.87,148.30L282.08,148.21L282.29,148.13L282.50,148.04L282.71,147.95L282.92,147.86L283.13,147.77L283.34,147.68L283.55,147.59L283.76,147.50L283.97,147.41L284.18,147.32L284.39,147.23L284.60,147.14L284.81,147.05L285.02,146.96L285.23,146.86L285.44,146.77L285.65,146.68L285.86,146.59L286.07,146.50L286.28,146.41L286.48,146.32L286.69,146.23L286.90,146.13L287.11,146.04L287.32,145.95L287.53,145.86L287.74,145.76L287.95,145.67L288.16,145.58L288.37,145.49L288.58,145.39L288.79,145.30L289.00,145.21L289.21,145.11L289.42,145.02L289.63,144.93L289.84,144.83L290.05,144.74L290.26,144.64L290.47,144.55L290.68,144.46L290.89,144.36L291.10,144.27L291.31,144.17L291.52,144.08L291.73,143.98L291.94,143.89L292.15,143.79L292.36,143.70L292.57,143.60L292.78,143.50L292.99,143.41L293.20,143.31L293.41,143.22" fill="none" stroke="#00ff00" stroke-width="5.0" stroke-linejoin="round" stroke-linecap="butt" />
<path d="M34.20,196.43L34.41,196.40L34.62,196.37L34.83,196.33L35.04,196.30L35.25,196.27L35.46,196.23L35.67,196.19L35.88,196.15L36.09,196.11L36.30,196.07L36.51,196.03L36.72,195.99L36.93,195.95L37.14,195.91L37.35,195.86L37.56,195.82L37.77,195.78L37.98,195.73L38.19,195.69L38.40,195.65L38.61,195.60L38.82,195.56L39.03,195.52L39.24,195.48L39.45,195.44L39.66,195.40L39.87,195.36L40.08,195.32L40.29,195.28L40.50,195.24L40.71,195.21L40.92,195.18L41.13,195.14L41.34,195.11L41.55,195.08L41.76,195.05L41.97,195.03L42.18,195.00L42.39,194.98L42.60,194.96L42.81,194.94L43.02,194.93L43.23,194.91L43.44,194.90L43.64,194.89L43.85,194.89L44.06,194.88L44.27,194.88L44.48,194.89L44.69,194.89L44.90,194.90L45.11,194.91L45.32,194.92L45.53,194.94L45.74,194.96L45.95,194.98L46.16,195.00L46.37,195.02L46.58,195.04L46.79,195.06L47.00,195.08L47.21,195.10L47.42,195.12L47.63,195.14L47.84,195.16L48.05,195.17L48.26,195.18L48.47,195.20L48.68,195.20L48.89,195.21L49.10,195.21L49.31,195.21L49.52,195.20L49.73,195.19L49.94,195.18L50.15,195.16L50.36,195.13L50.57,195.10L50.78,195.06L50.99,195.02L51.20,194.98L51.41,194.93L51.62,194.87L51.83,194.81L52.04,194.75L52.25,194.68L52.46,194.61L52.67,194.53L52.88,194.45L53.09,194.37L53.30,194.28L53.51,194.19L53.72,194.09L53.93,194.00L54.14,193.90L54.35,193.79L54.56,193.69L54.77,193.58L54.98,193.46L55.19,193.35L55.40,193.23L55.61,193.11L55.82,192.99L56.03,192.87L56.24,192.74L56.45,192.61L56.66,192.48L56.87,192.35L57.08,192.22L57.29,192.08L57.50,191.95L57.71,191.81L57.92,191.67L58.13,191.53L58.34,191.40L58.55,191.26L58.76,191.11L58.97,190.97L59.18,190.83L59.39,190.69L59.60,190.55L59.81,190.41L60.02,190.27L60.23,190.12L60.44,189.98L60.65,189.84L60.86,189.70L61.07,189.56L61.28,189.43L61.49,189.29L61.70,189.15L61.91,189.02L62.12,188.88L62.32,188.75L62.53,188.62L62.74,188.49L62.95,188.37L63.16,188.24L63.37,188.12L63.58,188.00L63.79,187.88L64.00,187.76L64.21,187.65L64.42,187.54L64.63,187.43L64.84,187.33L65.05,187.22L65.26,187.13L65.47,187.03L65.68,186.94L65.89,186.85L66.10,186.76L66.31,186.68L66.52,186.60L66.73,186.53L66.94,186.46L67.15,186.39L67.36,186.33L67.57,186.28L67.78,186.22L67.99,186.18L68.20,186.13L68.41,186.09L68.62,186.06L68.83,186.03L69.04,186.01L69.25,185.99L69.46,185.98L69.67,185.97L69.88,185.97L70.09,185.97L70.30,185.98L70.51,185.99L70.72,186.00L70.93,186.02L71.14,186.04L71.35,186.06L71.56,186.09L71.77,186.12L71.98,186.15L72.19,186.18L72.40,186.21L72.61,186.25L72.82,186.29L73.03,186.32L73.24,186.36L73.45,186.40L73.66,186.44L73.87,186.48L74.08,186.52L74.29,186.56L74.50,186.60L74.71,186.64L74.92,186.68L75.13,186.71L75.34,186.75L75.55,186.78L75.76,186.81L75.97,186.84L76.18,186.87L76.39,186.90L76.60,186.93L76.81,186.95L77.02,186.98L77.23,187.00L77.44,187.02L77.65,187.04L77.86,187.06L78.07,187.07L78.28,187.09L78.49,187.10L78.70,187.11L78.91,187.12L79.12,187.13L79.33,187.13L79.54,187.14L79.75,187.14L79.96,187.14L80.17,187.14L80.38,187.13L80.59,187.13L80.80,187.12L81.00,187.11L81.21,187.10L81.42,187.09L81.63,187.07L81.84,187.05L82.05,187.03L82.26,187.01L82.47,186.99L82.68,186.97L82.89,186.94L83.10,186.91L83.31,186.89L83.52,186.85L83.73,186.82L83.94,186.79L84.15,186.75L84.36,186.71L84.57,186.67L84.78,186.63L84.99,186.59L85.20,186.54L85.41,186.49L85.62,186.45L85.83,186.40L86.04,186.34L86.25,186.29L86.46,186.24L86.67,186.18L86.88,186.12L87.09,186.06L87.30,186.00L87.51,185.94L87.72,185.88L87.93,185.82L88.14,185.75L88.35,185.68L88.56,185.62L88.77,185.55L88.98,185.48L89.19,185.41L89.40,185.34L89.61,185.26L89.82,185.19L90.03,185.12L90.24,185.04L90.45,184.97L90.66,184.89L90.87,184.81L91.08,184.73L91.29,184.65L91.50,184.57L91.71,184.49L91.92,184.41L92.13,184.33L92.34,184.25L92.55,184.17L92.76,184.08L92.97,184.00L93.18,183.91L93.39,183.83L93.60,183.74L93.81,183.65L94.02,183.56L94.23,183.47L94.44,183.38L94.65,183.28L94.86,183.19L95.07,183.09L95.28,182.99L95.49,182.89L95.70,182.79L95.91,182.68L96.12,182.57L96.33,182.46L96.54,182.35L96.75,182.24L96.96,182.12L97.17,182.01L97.38,181.88L97.59,181.76L97.80,181.63L98.01,181.51L98.22,181.37L98.43,181.24L98.64,181.10L98.85,180.96L99.06,180.82L99.27,180.68L99.48,180.54L99.68,180.39L99.89,180.25L100.10,180.11L100.31,179.96L100.52,179.82L100.73,179.68L100.94,179.54L101.15,179.40L101.36,179.26L101.57,179.13L101.78,179.00L101.99,178.87L102.20,178.74L102.41,178.62L102.62,178.51L102.83,178.40L103.04,178.29L103.25,178.19L103.46,178.10L103.67,178.01L103.88,177.92L104.09,177.85L104.30,177.78L104.51,177.72L104.72,177.67L104.93,177.62L105.14,177.59L105.35,177.56L105.56,177.53L105.77,177.52L105.98,177.51L106.19,177.51L106.40,177.51L106.61,177.52L106.82,177.53L107.03,177.55L107.24,177.57L107.45,177.60L107.66,177.63L107.87,177.67L108.08,177.71L108.29,177.75L108.50,177.80L108.71,177.85L108.92,177.90L109.13,177.95L109.34,178.01L109.55,178.06L109.76,178.12L109.97,178.18L110.18,178.24L110.39,178.30L110.60,178.37L110.81,178.43L111.02,178.49L111.23,178.55L111.44,178.61L111.65,178.66L111.86,178.72L112.07,178.78L112.28,178.83L112.49,178.88L112.70,178.93L112.91,178.98L113.12,179.02L113.33,179.07L113.54,179.11L113.75,179.15L113.96,179.19L114.17,179.23L114.38,179.26L114.59,179.30L114.80,179.33L115.01,179.36L115.22,179.39L115.43,179.42L115.64,179.45L115.85,179.47L116.06,179.50L116.27,179.52L116.48,179.54L116.69,179.56L116.90,179.58L117.11,179.60L117.32,179.61L117.53,179.63L117.74,179.64L117.95,179.66L118.16,179.67L118.36,179.68L118.57,179.69L118.78,179.70L118.99,179.71L119.20,179.71L119.41,179.72L119.62,179.72L119.83,179.73L120.04,179.73L120.25,179.73L120.46,179.73L120.67,179.73L120.88,179.73L121.09,179.73L121.30,179.73L121.51,179.73L121.72,179.73L121.93,179.72L122.14,179.72L122.35,179.71L122.56,179.71L122.77,179.70L122.98,179.69L123.19,179.68L123.40,179.67L123.61,179.66L123.82,179.65L124.03,179.64L124.24,179.63L124.45,179.62L124.66,179.61L124.87,179.59L125.08,179.58L125.29,179.56L125.50,179.55L125.71,179.53L125.92,179.51L126.13,179.50L126.34,179.48L126.55,179.46L126.76,179.44L126.97,179.42L127.18,179.40L127.39,179.38L127.60,179.36L127.81,179.33L128.02,179.31L128.23,179.29L128.44,179.26L128.65,179.24L128.86,179.21L129.07,179.19L129.28,179.16L129.49,179.13L129.70,179.10L129.91,179.08L130.12,179.05L130.33,179.02L130.54,178.99L130.75,178.96L130.96,178.93L131.17,178.90L131.38,178.86L131.59,178.83L131.80,178.80L132.01,178.77L132.22,178.73L132.43,178.70L132.64,178.66L132.85,178.63L133.06,178.59L133.27,178.55L133.48,178.52L133.69,178.48L133.90,178.44L134.11,178.40L134.32,178.37L134.53,178.33L134.74,178.29L134.95,178.25L135.16,178.21L135.37,178.17L135.58,178.12L135.79,178.08L136.00,178.04L136.21,178.00L136.42,177.95L136.63,177.91L136.84,177.87L137.04,177.82L137.25,177.78L137.46,177.73L137.67,177.69L137.88,177.64L138.09,177.60L138.30,177.55L138.51,177.50L138.72,177.46L138.93,177.41L139.14,177.36L139.35,177.31L139.56,177.26L139.77,177.22L139.98,177.17L140.19,177.12L140.40,177.07L140.61,177.02L140.82,176.97L141.03,176.92L141.24,176.86L141.45,176.81L141.66,176.76L141.87,176.71L142.08,176.66L142.29,176.61L142.50,176.55L142.71,176.50L142.92,176.45L143.13,176.39L143.34,176.34L143.55,176.29L143.76,176.23L143.97,176.18L144.18,176.12L144.39,176.07L144.60,176.01L144.81,175.96L145.02,175.90L145.23,175.84L145.44,175.79L145.65,175.73L145.86,175.68L146.07,175.62L146.28,175.56L146.49,175.51L146.70,175.45L146.91,175.39L147.12,175.33L147.33,175.28L147.54,175.22L147.75,175.16L147.96,175.10L148.17,175.04L148.38,174.98L148.59,174.93L148.80,174.87L149.01,174.81L149.22,174.75L149.43,174.69L149.64,174.63L149.85,174.57L150.06,174.51L150.27,174.45L150.48,174.39L150.69,174.33L150.90,174.27L151.11,174.21L151.32,174.15L151.53,174.09L151.74,174.03L151.95,173.97L152.16,173.91L152.37,173.85L152.58,173.79L152.79,173.73L153.00,173.67L153.21,173.61L153.42,173.55L153.63,173.49L153.84,173.43L154.05,173.37L154.26,173.31L154.47,173.25L154.68,173.18L154.89,173.12L155.10,173.06L155.31,173.00L155.52,172.94L155.72,172.88L155.93,172.82L156.14,172.75L156.35,172.69L156.56,172.63L156.77,172.57L156.98,172.51L157.19,172.45L157.40,172.38L157.61,172.32L157.82,172.26L158.03,172.20L158.24,172.13L158.45,172.07L158.66,172.01L158.87,171.95L159.08,171.88L159.29,171.82L159.50,171.76L159.71,171.70L159.92,171.63L160.13,171.57L160.34,171.51L160.55,171.44L160.76,171.38L160.97,171.32L161.18,171.25L161.39,171.19L161.60,171.13L161.81,171.06L162.02,171.00L162.23,170.94L162.44,170.87L162.65,170.81L162.86,170.74L163.07,170.68L163.28,170.62L163.49,170.55L163.70,170.49L163.91,170.42L164.12,170.36L164.33,170.30L164.54,170.23L164.75,170.17L164.96,170.10L165.17,170.04L165.38,169.97L165.59,169.91L165.80,169.84L166.01,169.78L166.22,169.71L166.43,169.65L166.64,169.58L166.85,169.52L167.06,169.45L167.27,169.39L167.48,169.32L167.69,169.26L167.90,169.19L168.11,169.12L168.32,169.06L168.53,168.99L168.74,168.93L168.95,168.86L169.16,168.80L169.37,168.73L169.58,168.66L169.79,168.60L170.00,168.53L170.21,168.46L170.42,168.40L170.63,168.33L170.84,168.27L171.05,168.20L171.26,168.13L171.47,168.07L171.68,168.00L171.89,167.93L172.10,167.86L172.31,167.80L172.52,167.73L172.73,167.66L172.94,167.60L173.15,167.53L173.36,167.46L173.57,167.39L173.78,167.33L173.99,167.26L174.20,167.19L174.40,167.12L174.61,167.06L174.82,166.99L175.03,166.92L175.24,166.85L175.45,166.78L175.66,166.72L175.87,166.65L176.08,166.58L176.29,166.51L176.50,166.44L176.71,166.38L176.92,166.31L177.13,166.24L177.34,166.17L177.55,166.10L177.76,166.03L177.97,165.96L178.18,165.89L178.39,165.83L178.60,165.76L178.81,165.69L179.02,165.62L179.23,165.55L179.44,165.48L179.65,165.41L179.86,165.34L180.07,165.27L180.28,165.20L180.49,165.13L180.70,165.06L180.91,164.99L181.12,164.92L181.33,164.85L181.54,164.78L181.75,164.71L181.96,164.64L182.17,164.57L182.38,164.50L182.59,164.43L182.80,164.36L183.01,164.29L183.22,164.22L183.43,164.15L183.64,164.08L183.85,164.01L184.06,163.94L184.27,163.87L184.48,163.80L184.69,163.73L184.90,163.66L185.11,163.58L185.32,163.51L185.53,163.44L185.74,163.37L185.95,163.30L186.16,163.23L186.37,163.16L186.58,163.09L186.79,163.01L187.00,162.94L187.21,162.87L187.42,162.80L187.63,162.73L187.84,162.65L188.05,162.58L188.26,162.51L188.47,162.44L188.68,162.37L188.89,162.29L189.10,162.22L189.31,162.15L189.52,162.08L189.73,162.00L189.94,161.93L190.15,161.86L190.36,161.79L190.57,161.71L190.78,161.64L190.99,161.57L191.20,161.50L191.41,161.42L191.62,161.35L191.83,161.28L192.04,161.20L192.25,161.13L192.46,161.06L192.67,160.98L192.88,160.91L193.08,160.84L193.29,160.76L193.50,160.69L193.71,160.62L193.92,160.54L194.13,160.47L194.34,160.39L194.55,160.32L194.76,160.25L194.97,160.17L195.18,160.10L195.39,160.02L195.60,159.95L195.81,159.88L196.02,159.80L196.23,159.73L196.44,159.65L196.65,159.58L196.86,159.50L197.07,159.43L197.28,159.35L197.49,159.28L197.70,159.20L197.91,159.13L198.12,159.05L198.33,158.98L198.54,158.90L198.75,158.83L198.96,158.75L199.17,158.68L199.38,158.60L199.59,158.53L199.80,158.45L200.01,158.38L200.22,158.30L200.43,158.22L200.64,158.15L200.85,158.07L201.06,158.00L201.27,157.92L201.48,157.84L201.69,157.77L201.90,157.69L202.11,157.62L202.32,157.54L202.53,157.46L202.74,157.39L202.95,157.31L203.16,157.23L203.37,157.16L203.58,157.08L203.79,157.00L204.00,156.93L204.21,156.85L204.42,156.77L204.63,156.70L204.84,156.62L205.05,156.54L205.26,156.47L205.47,156.39L205.68,156.31L205.89,156.23L206.10,156.16L206.31,156.08L206.52,156.00L206.73,155.93L206.94,155.85L207.15,155.77L207.36,155.69L207.57,155.61L207.78,155.54L207.99,155.46L208.20,155.38L208.41,155.30L208.62,155.22L208.83,155.15L209.04,155.07L209.25,154.99L209.46,154.91L209.67,154.83L209.88,154.76L210.09,154.68L210.30,154.60L210.51,154.52L210.72,154.44L210.93,154.36L211.14,154.28L211.35,154.20L211.56,154.13L211.76,154.05L211.97,153.97L212.18,153.89L212.39,153.81L212.60,153.73L212.81,153.65L213.02,153.57L213.23,153.49L213.44,153.41L213.65,153.33L213.86,153.25L214.07,153.17L214.28,153.09L214.49,153.02L214.70,152.94L214.91,152.86L215.12,152.78L215.33,152.70L215.54,152.62L215.75,152.54L215.96,152.46L216.17,152.38L216.38,152.29L216.59,152.21L216.80,152.13L217.01,152.05L217.22,151.97L217.43,151.89L217.64,151.81L217.85,151.73L218.06,151.65L218.27,151.57L218.48,151.49L218.69,151.41L218.90,151.33L219.11,151.25L219.32,151.17L219.53,151.08L219.74,151.00L219.95,150.92L220.16,150.84L220.37,150.76L220.58,150.68L220.79,150.60L221.00,150.51L221.21,150.43L221.42,150.35L221.63,150.27L221.84,150.19L222.05,150.11L222.26,150.02L222.47,149.94L222.68,149.86L222.89,149.78L223.10,149.70L223.31,149.61L223.52,149.53L223.73,149.45L223.94,149.37L224.15,149.29L224.36,149.20L224.57,149.12L224.78,149.04L224.99,148.96L225.20,148.87L225.41,148.79L225.62,148.71L225.83,148.62L226.04,148.54L226.25,148.46L226.46,148.38L226.67,148.29L226.88,148.21L227.09,148.13L227.30,148.04L227.51,147.96L227.72,147.88L227.93,147.79L228.14,147.71L228.35,147.63L228.56,147.54L228.77,147.46L228.98,147.38L229.19,147.29L229.40,147.21L229.61,147.12L229.82,147.04L230.03,146.96L230.24,146.87L230.44,146.79L230.65,146.70L230.86,146.62L231.07,146.54L231.28,146.45L231.49,146.37L231.70,146.28L231.91,146.20L232.12,146.11L232.33,146.03L232.54,145.95L232.75,145.86L232.96,145.78L233.17,145.69L233.38,145.61L233.59,145.52L233.80,145.44L234.01,145.35L234.22,145.27L234.43,145.18L234.64,145.10L234.85,145.01L235.06,144.93L235.27,144.84L235.48,144.76L235.69,144.67L235.90,144.58L236.11,144.50L236.32,144.41L236.53,144.33L236.74,144.24L236.95,144.16L237.16,144.07L237.37,143.98L237.58,143.90L237.79,143.81L238.00,143.73L238.21,143.64L238.42,143.55L238.63,143.47L238.84,143.38L239.05,143.30L239.26,143.21L239.47,143.12L239.68,143.04L239.89,142.95L240.10,142.86L240.31,142.78L240.52,142.69L240.73,142.60L240.94,142.52L241.15,142.43L241.36,142.34L241.57,142.26L241.78,142.17L241.99,142.08L242.20,142.00L242.41,141.91L242.62,141.82L242.83,141.73L243.04,141.65L243.25,141.56L243.46,141.47L243.67,141.39L243.88,141.30L244.09,141.21L244.30,141.12L244.51,141.03L244.72,140.95L244.93,140.86L245.14,140.77L245.35,140.68L245.56,140.60L245.77,140.51L245.98,140.42L246.19,140.33L246.40,140.24L246.61,140.16L246.82,140.07L247.03,139.98L247.24,139.89L247.45,139.80L247.66,139.71L247.87,139.63L248.08,139.54L248.29,139.45L248.50,139.36L248.71,139.27L248.92,139.18L249.12,139.09L249.33,139.01L249.54,138.92L249.75,138.83L249.96,138.74L250.17,138.65L250.38,138.56L250.59,138.47L250.80,138.38L251.01,138.29L251.22,138.20L251.43,138.11L251.64,138.03L251.85,137.94L252.06,137.85L252.27,137.76L252.48,137.67L252.69,137.58L252.90,137.49L253.11,137.40L253.32,137.31L253.53,137.22L253.74,137.13L253.95,137.04L254.16,136.95L254.37,136.86L254.58,136.77L254.79,136.68L255.00,136.59L255.21,136.50L255.42,136.41L255.63,136.32L255.84,136.23L256.05,136.14L256.26,136.05L256.47,135.96L256.68,135.87L256.89,135.77L257.10,135.68L257.31,135.59L257.52,135.50L257.73,135.41L257.94,135.32L258.15,135.23L258.36,135.14L258.57,135.05L258.78,134.96L258.99,134.87L259.20,134.78L259.41,134.68L259.62,134.59L259.83,134.50L260.04,134.41L260.25,134.32L260.46,134.23L260.67,134.14L260.88,134.04L261.09,133.95L261.30,133.86L261.51,133.77L261.72,133.68L261.93,133.59L262.14,133.49L262.35,133.40L262.56,133.31L262.77,133.22L262.98,133.13L263.19,133.03L263.40,132.94L263.61,132.85L263.82,132.76L264.03,132.67L264.24,132.57L264.45,132.48L264.66,132.39L264.87,132.30L265.08,132.20L265.29,132.11L265.50,132.02L265.71,131.93L265.92,131.83L266.13,131.74L266.34,131.65L266.55,131.55L266.76,131.46L266.97,131.37L267.18,131.28L267.39,131.18L267.60,131.09L267.80,131.00L268.01,130.90L268.22,130.81L268.43,130.72L268.64,130.62L268.85,130.53L269.06,130.44L269.27,130.34L269.48,130.25L269.69,130.16L269.90,130.06L270.11,129.97L270.32,129.88L270.53,129.78L270.74,129.69L270.95,129.59L271.16,129.50L271.37,129.41L271.58,129.31L271.79,129.22L272.00,129.13L272.21,129.03L272.42,128.94L272.63,128.84L272.84,128.75L273.05,128.65L273.26,128.56L273.47,128.47L273.68,128.37L273.89,128.28L274.10,128.18L274.31,128.09L274.52,127.99L274.73,127.90L274.94,127.80L275.15,127.71L275.36,127.61L275.57,127.52L275.78,127.42L275.99,127.33L276.20,127.24L276.41,127.14L276.62,127.05L276.83,126.95L277.04,126.85L277.25,126.76L277.46,126.66L277.67,126.57L277.88,126.47L278.09,126.38L278.30,126.28L278.51,126.19L278.72,126.09L278.93,126.00L279.14,125.90L279.35,125.81L279.56,125.71L279.77,125.61L279.98,125.52L280.19,125.42L280.40,125.33L280.61,125.23L280.82,125.14L281.03,125.04L281.24,124.94L281.45,124.85L281.66,124.75L281.87,124.66L282.08,124.56L282.29,124.46L282.50,124.37L282.71,124.27L282.92,124.17L283.13,124.08L283.34,123.98L283.55,123.88L283.76,123.79L283.97,123.69L284.18,123.59L284.39,123.50L284.60,123.40L284.81,123.30L285.02,123.21L285.23,123.11L285.44,123.01L285.65,122.92L285.86,122.82L286.07,122.72L286.28,122.63L286.48,122.53L286.69,122.43L286.90,122.33L287.11,122.24L287.32,122.14L287.53,122.04L287.74,121.95L287.95,121.85L288.16,121.75L288.37,121.65L288.58,121.56L288.79,121.46L289.00,121.36L289.21,121.26L289.42,121.17L289.63,121.07L289.84,120.97L290.05,120.87L290.26,120.77L290.47,120.68L290.68,120.58L290.89,120.48L291.10,120.38L291.31,120.28L291.52,120.19L291.73,120.09L291.94,119.99L292.15,119.89L292.36,119.79L292.57,119.70L292.78,119.60L292.99,119.50L293.20,119.40L293.41,119.30" fill="none" stroke="#ff00ff" stroke-width="5.0" stroke-linejoin="round" stroke-linecap="butt" />
<rect class="lg" x="60.5" y="7.5" width="81" height="83" fill="#fff" stroke="#888" stroke-width="1"/>
<line x1="62" y1="16.40" x2="91.5" y2="16.40" stroke="#000" stroke-width="1" opacity="0.5"/>
<rect class="lg" x="74.70" y="14.20" width="4.4" height="4.4" fill="#000"/>
<text x="95.6" y="20.70" font-family="Liberation Sans" font-weight="bold" font-size="12.3">5 min</text>
<line x1="62" y1="32.60" x2="91.5" y2="32.60" stroke="#ff0000" stroke-width="1" opacity="0.5"/>
<circle cx="76.9" cy="32.60" r="2.3" fill="#ff0000"/>
<text x="95.6" y="36.90" font-family="Liberation Sans" font-weight="bold" font-size="12.3">10 min</text>
<line x1="62" y1="48.80" x2="91.5" y2="48.80" stroke="#0000ff" stroke-width="1" opacity="0.5"/>
<path d="M76.9,46.00L79.70,50.80L74.10,50.80Z" fill="#0000ff"/>
<text x="95.6" y="53.10" font-family="Liberation Sans" font-weight="bold" font-size="12.3">15 min</text>
<line x1="62" y1="65.00" x2="91.5" y2="65.00" stroke="#00e000" stroke-width="1" opacity="0.5"/>
<path d="M76.9,67.80L79.70,63.00L74.10,63.00Z" fill="#00e000"/>
<text x="95.6" y="69.30" font-family="Liberation Sans" font-weight="bold" font-size="12.3">20 min</text>
<line x1="62" y1="81.20" x2="91.5" y2="81.20" stroke="#ff00ff" stroke-width="1" opacity="0.5"/>
<path d="M76.9,78.20L79.90,81.20L76.9,84.20L73.90,81.20Z" fill="#ff00ff"/>
<text x="95.6" y="85.50" font-family="Liberation Sans" font-weight="bold" font-size="12.3">25 min</text>
<text x="199.3" y="22.5" font-family="Liberation Sans" font-weight="bold" font-size="17.4">(a)</text>
<text transform="translate(16.0,107.2) rotate(-90)" font-family="Liberation Serif" font-weight="bold" font-size="18.5" text-anchor="middle">Reflectance(%)</text>
<text x="99.8" y="245.7" font-family="Liberation Serif" font-weight="bold" font-size="18.2">wavelength (nm)</text>
<path d="M415.00,1.00V209.40H673.20" fill="none" stroke="#000" stroke-width="2.6" stroke-linecap="butt" stroke-linejoin="miter"/>
<path d="M415.00,209.40v-4M439.48,209.40v-4M463.96,209.40v-4M488.44,209.40v-4M512.92,209.40v-4M537.40,209.40v-4M561.88,209.40v-4M586.36,209.40v-4M610.84,209.40v-4M635.32,209.40v-4M659.80,209.40v-4M427.24,209.40v-2.2M451.72,209.40v-2.2M476.20,209.40v-2.2M500.68,209.40v-2.2M525.16,209.40v-2.2M549.64,209.40v-2.2M574.12,209.40v-2.2M598.60,209.40v-2.2M623.08,209.40v-2.2M647.56,209.40v-2.2M672.04,209.40v-2.2M415.00,209.40h4M415.00,177.40h4M415.00,145.40h4M415.00,113.40h4M415.00,81.40h4M415.00,49.40h4M415.00,17.40h4M415.00,193.40h2.2M415.00,161.40h2.2M415.00,129.40h2.2M415.00,97.40h2.2M415.00,65.40h2.2M415.00,33.40h2.2M415.00,1.40h2.2" stroke="#000" stroke-width="2.2"/>
<text x="415.00" y="223.80" font-family="Liberation Sans" font-weight="bold" font-size="12.5" text-anchor="middle">1.2</text>
<text x="439.48" y="223.80" font-family="Liberation Sans" font-weight="bold" font-size="12.5" text-anchor="middle">1.4</text>
<text x="463.96" y="223.80" font-family="Liberation Sans" font-weight="bold" font-size="12.5" text-anchor="middle">1.6</text>
<text x="488.44" y="223.80" font-family="Liberation Sans" font-weight="bold" font-size="12.5" text-anchor="middle">1.8</text>
<text x="512.92" y="223.80" font-family="Liberation Sans" font-weight="bold" font-size="12.5" text-anchor="middle">2.0</text>
<text x="537.40" y="223.80" font-family="Liberation Sans" font-weight="bold" font-size="12.5" text-anchor="middle">2.2</text>
<text x="561.88" y="223.80" font-family="Liberation Sans" font-weight="bold" font-size="12.5" text-anchor="middle">2.4</text>
<text x="586.36" y="223.80" font-family="Liberation Sans" font-weight="bold" font-size="12.5" text-anchor="middle">2.6</text>
<text x="610.84" y="223.80" font-family="Liberation Sans" font-weight="bold" font-size="12.5" text-anchor="middle">2.8</text>
<text x="635.32" y="223.80" font-family="Liberation Sans" font-weight="bold" font-size="12.5" text-anchor="middle">3.0</text>
<text x="659.80" y="223.80" font-family="Liberation Sans" font-weight="bold" font-size="12.5" text-anchor="middle">3.2</text>
<text x="409.50" y="213.90" font-family="Liberation Sans" font-weight="bold" font-size="12.5" text-anchor="end">0</text>
<text x="409.50" y="181.90" font-family="Liberation Sans" font-weight="bold" font-size="12.5" text-anchor="end">5000</text>
<text x="409.50" y="149.90" font-family="Liberation Sans" font-weight="bold" font-size="12.5" text-anchor="end">10000</text>
<text x="409.50" y="117.90" font-family="Liberation Sans" font-weight="bold" font-size="12.5" text-anchor="end">15000</text>
<text x="409.50" y="85.90" font-family="Liberation Sans" font-weight="bold" font-size="12.5" text-anchor="end">20000</text>
<text x="409.50" y="53.90" font-family="Liberation Sans" font-weight="bold" font-size="12.5" text-anchor="end">25000</text>
<text x="409.50" y="21.90" font-family="Liberation Sans" font-weight="bold" font-size="12.5" text-anchor="end">30000</text>
<path d="M434.83,206.47L435.54,206.47L436.25,206.47L436.96,206.47L437.67,206.47L438.38,206.47L439.09,206.47L439.80,206.47L440.51,206.47L441.22,206.47L441.93,206.47L442.64,206.47L443.35,206.47L444.06,206.47L444.77,206.47L445.48,206.47L446.19,206.47L446.90,206.47L447.61,206.51L448.32,206.54L449.03,206.58L449.03,200.96L448.32,200.99L447.61,201.03L446.90,201.06L446.19,201.07L445.48,201.07L444.77,201.07L444.06,201.07L443.35,201.07L442.64,201.07L441.93,201.07L441.22,201.07L440.51,201.07L439.80,201.07L439.09,201.07L438.38,201.07L437.67,201.07L436.96,201.07L436.25,201.07L435.54,201.07L434.83,201.07ZM449.39,206.78L450.07,206.73L450.76,206.67L451.45,206.59L452.14,206.49L452.83,206.39L453.51,206.28L454.20,206.16L454.88,206.05L455.57,205.93L456.25,205.80L456.94,205.67L457.63,205.54L458.31,205.41L458.99,205.27L459.68,205.12L460.36,204.98L461.05,204.82L461.73,204.67L462.42,204.51L463.10,204.35L463.78,204.19L464.47,204.02L465.15,203.85L465.83,203.67L466.52,203.49L467.20,203.31L467.88,203.12L468.57,202.93L469.25,202.74L469.93,202.55L470.61,202.35L471.29,202.15L471.98,201.94L472.66,201.73L473.34,201.52L474.02,201.31L474.70,201.09L475.38,200.87L476.06,200.65L476.74,200.42L477.42,200.19L478.10,199.96L478.79,199.73L479.47,199.49L480.15,199.25L480.83,199.01L481.51,198.76L482.18,198.52L482.86,198.26L483.54,198.01L484.22,197.76L484.90,197.50L485.58,197.24L486.26,196.97L486.94,196.71L487.62,196.44L488.30,196.17L488.97,195.89L489.65,195.62L490.33,195.34L491.01,195.06L491.69,194.77L492.37,194.49L493.05,194.20L493.73,193.91L494.41,193.61L495.09,193.31L495.77,193.01L496.45,192.71L497.13,192.40L497.81,192.09L498.49,191.78L499.17,191.46L499.85,191.14L500.53,190.82L501.21,190.49L501.89,190.16L502.57,189.83L503.25,189.49L503.93,189.15L504.61,188.81L505.29,188.46L505.97,188.11L506.66,187.76L507.34,187.40L508.02,187.04L508.70,186.68L509.38,186.31L510.06,185.94L510.74,185.56L511.42,185.18L512.10,184.80L512.79,184.41L513.47,184.02L514.15,183.62L514.83,183.23L515.51,182.82L516.19,182.41L516.88,182.00L517.56,181.59L518.24,181.17L518.92,180.74L519.60,180.31L520.28,179.88L520.97,179.44L521.65,179.00L522.33,178.56L523.01,178.11L523.69,177.65L524.37,177.19L525.06,176.73L525.74,176.26L526.42,175.79L527.10,175.31L527.78,174.82L528.46,174.34L529.15,173.84L529.83,173.35L530.51,172.84L531.19,172.34L531.87,171.82L532.56,171.31L533.24,170.78L533.92,170.26L534.60,169.72L535.28,169.18L535.97,168.64L536.65,168.09L537.33,167.53L538.01,166.97L538.69,166.41L539.37,165.83L540.06,165.25L540.74,164.67L541.42,164.08L542.10,163.49L542.78,162.88L543.47,162.28L544.15,161.66L544.83,161.04L545.51,160.42L546.19,159.78L546.87,159.14L547.55,158.50L548.24,157.85L548.92,157.19L549.60,156.53L550.28,155.85L550.96,155.18L551.64,154.49L552.32,153.80L553.01,153.10L553.69,152.39L554.37,151.68L555.05,150.96L555.73,150.23L556.41,149.49L557.09,148.75L557.75,147.98L558.42,147.20L559.08,146.42L559.74,145.63L560.40,144.83L561.07,144.03L561.73,143.22L562.39,142.39L563.05,141.56L563.71,140.73L564.37,139.88L565.04,139.03L565.70,138.17L566.36,137.30L567.02,136.42L567.68,135.53L568.33,134.64L568.99,133.74L569.65,132.83L570.31,131.91L570.97,130.98L571.63,130.05L572.29,129.10L572.94,128.15L573.60,127.20L574.26,126.23L574.91,125.26L575.57,124.27L576.23,123.28L576.88,122.29L577.54,121.28L578.19,120.27L578.85,119.26L579.51,118.23L580.16,117.20L580.81,116.16L581.47,115.12L582.12,114.07L582.78,113.01L583.43,111.95L584.08,110.88L584.74,109.81L585.39,108.73L586.04,107.64L586.71,106.56L587.37,105.47L588.04,104.38L588.71,103.29L589.38,102.19L590.05,101.08L590.72,99.97L591.38,98.86L592.05,97.74L592.72,96.62L593.39,95.49L594.05,94.36L594.72,93.22L595.39,92.09L596.06,90.95L596.72,89.80L597.39,88.65L598.06,87.50L598.73,86.35L599.39,85.19L600.06,84.03L600.73,82.87L601.39,81.71L602.06,80.54L602.73,79.38L603.39,78.21L604.06,77.03L604.73,75.86L605.39,74.69L606.06,73.51L606.73,72.33L607.39,71.15L608.06,69.98L608.72,68.80L609.39,67.61L610.06,66.43L610.72,65.25L611.39,64.07L612.05,62.89L612.72,61.71L613.39,60.53L614.05,59.34L614.72,58.16L615.38,56.98L616.05,55.80L616.72,54.63L617.38,53.45L618.05,52.27L618.71,51.10L619.38,49.92L620.04,48.75L620.71,47.58L621.37,46.42L622.04,45.25L622.70,44.09L623.37,42.92L624.03,41.76L624.70,40.61L625.36,39.45L626.03,38.30L626.69,37.16L627.36,36.01L628.02,34.87L628.69,33.73L629.35,32.60L630.02,31.47L630.68,30.34L631.35,29.22L632.01,28.10L632.68,26.99L633.34,25.88L634.00,24.77L634.67,23.67L635.33,22.58L636.00,21.48L632.93,19.60L632.25,20.69L631.58,21.79L630.91,22.89L630.23,24.00L629.56,25.11L628.88,26.22L628.21,27.34L627.53,28.47L626.86,29.59L626.18,30.73L625.51,31.86L624.84,33.00L624.16,34.14L623.49,35.28L622.81,36.43L622.14,37.58L621.47,38.73L620.79,39.89L620.12,41.05L619.44,42.21L618.77,43.37L618.10,44.53L617.42,45.70L616.75,46.87L616.08,48.04L615.40,49.21L614.73,50.38L614.06,51.56L613.38,52.73L612.71,53.91L612.04,55.08L611.36,56.26L610.69,57.44L610.02,58.61L609.34,59.79L608.67,60.97L608.00,62.15L607.33,63.32L606.65,64.50L605.98,65.68L605.31,66.85L604.63,68.03L603.96,69.20L603.29,70.38L602.62,71.55L601.94,72.72L601.27,73.89L600.60,75.05L599.93,76.22L599.26,77.38L598.58,78.54L597.91,79.70L597.24,80.86L596.57,82.01L595.90,83.16L595.22,84.31L594.55,85.46L593.88,86.60L593.21,87.74L592.54,88.88L591.87,90.01L591.19,91.14L590.52,92.26L589.85,93.38L589.18,94.50L588.51,95.61L587.84,96.72L587.17,97.83L586.50,98.92L585.83,100.02L585.15,101.11L584.48,102.19L583.81,103.27L583.14,104.34L582.47,105.41L581.78,106.46L581.09,107.51L580.41,108.55L579.72,109.58L579.04,110.61L578.35,111.63L577.67,112.65L576.98,113.66L576.30,114.66L575.62,115.65L574.93,116.64L574.25,117.62L573.56,118.59L572.88,119.56L572.20,120.51L571.52,121.46L570.83,122.40L570.15,123.33L569.47,124.26L568.79,125.17L568.11,126.08L567.43,126.98L566.75,127.87L566.07,128.75L565.38,129.62L564.70,130.48L564.03,131.34L563.35,132.19L562.67,133.02L561.99,133.85L561.31,134.68L560.63,135.49L559.95,136.29L559.27,137.09L558.60,137.87L557.92,138.65L557.24,139.42L556.57,140.18L555.89,140.94L555.21,141.68L554.54,142.42L553.86,143.15L553.19,143.87L552.51,144.58L551.85,145.30L551.19,146.02L550.53,146.72L549.87,147.42L549.22,148.11L548.56,148.80L547.90,149.48L547.24,150.15L546.59,150.81L545.93,151.47L545.27,152.12L544.61,152.77L543.96,153.41L543.30,154.04L542.64,154.67L541.98,155.28L541.33,155.90L540.67,156.51L540.01,157.11L539.36,157.70L538.70,158.29L538.04,158.87L537.38,159.45L536.73,160.02L536.07,160.59L535.41,161.15L534.76,161.71L534.10,162.25L533.44,162.80L532.78,163.34L532.13,163.87L531.47,164.40L530.81,164.92L530.16,165.44L529.50,165.95L528.84,166.46L528.19,166.96L527.53,167.46L526.87,167.95L526.21,168.44L525.56,168.92L524.90,169.40L524.24,169.87L523.59,170.34L522.93,170.80L522.27,171.26L521.62,171.72L520.96,172.17L520.30,172.61L519.64,173.05L518.99,173.49L518.33,173.92L517.67,174.35L517.01,174.78L516.36,175.20L515.70,175.61L515.04,176.03L514.39,176.43L513.73,176.84L513.07,177.24L512.41,177.63L511.76,178.03L511.10,178.41L510.44,178.80L509.78,179.18L509.13,179.55L508.47,179.93L507.81,180.30L507.15,180.66L506.50,181.02L505.84,181.38L505.18,181.74L504.52,182.09L503.87,182.44L503.21,182.78L502.55,183.12L501.89,183.46L501.23,183.79L500.58,184.13L499.92,184.45L499.26,184.78L498.60,185.10L497.94,185.42L497.28,185.73L496.63,186.05L495.97,186.36L495.31,186.66L494.65,186.96L493.99,187.27L493.33,187.56L492.67,187.86L492.01,188.15L491.35,188.44L490.69,188.73L490.03,189.01L489.38,189.29L488.72,189.57L488.06,189.84L487.40,190.12L486.74,190.39L486.08,190.66L485.42,190.92L484.76,191.19L484.09,191.45L483.43,191.71L482.77,191.96L482.12,192.22L481.46,192.47L480.80,192.72L480.14,192.96L479.48,193.21L478.82,193.45L478.16,193.69L477.50,193.92L476.84,194.15L476.18,194.38L475.52,194.61L474.87,194.83L474.21,195.06L473.55,195.27L472.89,195.49L472.23,195.70L471.58,195.91L470.92,196.12L470.26,196.32L469.61,196.52L468.95,196.72L468.29,196.91L467.63,197.10L466.98,197.29L466.32,197.47L465.67,197.65L465.01,197.83L464.35,198.01L463.70,198.18L463.04,198.34L462.39,198.51L461.73,198.67L461.08,198.83L460.42,198.98L459.77,199.13L459.11,199.28L458.46,199.42L457.80,199.56L457.15,199.70L456.50,199.83L455.84,199.96L455.19,200.08L454.53,200.20L453.88,200.32L453.23,200.43L452.58,200.54L451.92,200.65L451.27,200.75L450.62,200.85L449.97,200.97L449.32,201.09L448.66,201.21Z" fill="#000" stroke="#000" stroke-width="0.3" stroke-linejoin="round"/>
<rect x="633.20" y="20.80" width="4.6" height="4.0" fill="#000"/>
<line x1="526.59" y1="208.00" x2="634.10" y2="24.19" stroke="#f00" stroke-width="2.2"/>
<text x="420.30" y="18.80" font-family="Liberation Sans" font-weight="bold" font-size="18.3">(b)</text>
<text x="420.40" y="41.20" font-family="Liberation Sans" font-weight="bold" font-size="17.8">5 min</text>
<text transform="translate(368.30,148.60) rotate(-90)" font-family="Liberation Sans" font-weight="bold" font-size="18.2">[F<tspan font-weight="normal">(</tspan>R<tspan font-weight="normal">)</tspan>h<tspan font-weight="normal">&#957;</tspan>]<tspan font-size="12.1" dx="1.00" dy="-6.90">0.5</tspan></text>
<text x="513.60" y="243.40" font-family="Liberation Sans" font-weight="bold" font-size="18.3">h<tspan font-weight="normal">&#957;</tspan> (eV)</text>
<path d="M62.50,253.50V449.40H305.50" fill="none" stroke="#000" stroke-width="2.6" stroke-linecap="butt" stroke-linejoin="miter"/>
<path d="M62.50,449.40v-4M85.58,449.40v-4M108.66,449.40v-4M131.74,449.40v-4M154.82,449.40v-4M177.90,449.40v-4M200.98,449.40v-4M224.06,449.40v-4M247.14,449.40v-4M270.22,449.40v-4M293.30,449.40v-4M74.04,449.40v-2.2M97.12,449.40v-2.2M120.20,449.40v-2.2M143.28,449.40v-2.2M166.36,449.40v-2.2M189.44,449.40v-2.2M212.52,449.40v-2.2M235.60,449.40v-2.2M258.68,449.40v-2.2M281.76,449.40v-2.2M304.84,449.40v-2.2M62.50,449.40h4M62.50,415.80h4M62.50,382.20h4M62.50,348.60h4M62.50,315.00h4M62.50,281.40h4M62.50,432.60h2.2M62.50,399.00h2.2M62.50,365.40h2.2M62.50,331.80h2.2M62.50,298.20h2.2M62.50,264.60h2.2" stroke="#000" stroke-width="2.2"/>
<text x="62.50" y="463.80" font-family="Liberation Sans" font-weight="bold" font-size="11.9" text-anchor="middle">1.2</text>
<text x="85.58" y="463.80" font-family="Liberation Sans" font-weight="bold" font-size="11.9" text-anchor="middle">1.4</text>
<text x="108.66" y="463.80" font-family="Liberation Sans" font-weight="bold" font-size="11.9" text-anchor="middle">1.6</text>
<text x="131.74" y="463.80" font-family="Liberation Sans" font-weight="bold" font-size="11.9" text-anchor="middle">1.8</text>
<text x="154.82" y="463.80" font-family="Liberation Sans" font-weight="bold" font-size="11.9" text-anchor="middle">2.0</text>
<text x="177.90" y="463.80" font-family="Liberation Sans" font-weight="bold" font-size="11.9" text-anchor="middle">2.2</text>
<text x="200.98" y="463.80" font-family="Liberation Sans" font-weight="bold" font-size="11.9" text-anchor="middle">2.4</text>
<text x="224.06" y="463.80" font-family="Liberation Sans" font-weight="bold" font-size="11.9" text-anchor="middle">2.6</text>
<text x="247.14" y="463.80" font-family="Liberation Sans" font-weight="bold" font-size="11.9" text-anchor="middle">2.8</text>
<text x="270.22" y="463.80" font-family="Liberation Sans" font-weight="bold" font-size="11.9" text-anchor="middle">3.0</text>
<text x="293.30" y="463.80" font-family="Liberation Sans" font-weight="bold" font-size="11.9" text-anchor="middle">3.2</text>
<text x="57.70" y="453.68" font-family="Liberation Sans" font-weight="bold" font-size="11.9" text-anchor="end">0</text>
<text x="57.70" y="420.08" font-family="Liberation Sans" font-weight="bold" font-size="11.9" text-anchor="end">10000</text>
<text x="57.70" y="386.48" font-family="Liberation Sans" font-weight="bold" font-size="11.9" text-anchor="end">20000</text>
<text x="57.70" y="352.88" font-family="Liberation Sans" font-weight="bold" font-size="11.9" text-anchor="end">30000</text>
<text x="57.70" y="319.28" font-family="Liberation Sans" font-weight="bold" font-size="11.9" text-anchor="end">40000</text>
<text x="57.70" y="285.68" font-family="Liberation Sans" font-weight="bold" font-size="11.9" text-anchor="end">50000</text>
<path d="M81.66,446.83L82.34,446.83L83.03,446.83L83.71,446.83L84.40,446.83L85.09,446.83L85.77,446.83L86.46,446.83L87.14,446.83L87.83,446.83L88.52,446.83L89.20,446.83L89.89,446.83L90.57,446.83L91.26,446.83L91.95,446.83L92.63,446.83L93.32,446.83L94.00,446.83L94.00,442.23L93.32,442.23L92.63,442.23L91.95,442.23L91.26,442.23L90.57,442.23L89.89,442.23L89.20,442.23L88.52,442.23L87.83,442.23L87.14,442.23L86.46,442.23L85.77,442.23L85.09,442.23L84.40,442.23L83.71,442.23L83.03,442.23L82.34,442.23L81.66,442.23ZM94.59,447.01L95.22,446.84L95.89,446.80L96.57,446.83L97.25,446.86L97.90,446.76L98.53,446.60L99.16,446.43L99.79,446.27L100.43,446.10L101.06,445.93L101.69,445.77L102.32,445.60L102.96,445.44L103.59,445.27L104.22,445.10L104.86,444.94L105.49,444.77L106.12,444.60L106.76,444.43L107.39,444.26L108.03,444.09L108.66,443.92L109.30,443.75L109.93,443.57L110.57,443.40L111.21,443.22L111.84,443.05L112.48,442.87L113.11,442.69L113.75,442.51L114.39,442.33L115.03,442.15L115.66,441.96L116.30,441.78L116.94,441.59L117.58,441.40L118.21,441.21L118.85,441.02L119.49,440.83L120.13,440.63L120.77,440.43L121.41,440.24L122.05,440.03L122.69,439.83L123.33,439.63L123.97,439.42L124.61,439.21L125.25,439.00L125.89,438.78L126.53,438.57L127.17,438.35L127.81,438.13L128.45,437.91L129.09,437.68L129.73,437.45L130.38,437.22L131.02,436.99L131.66,436.75L132.30,436.51L132.95,436.27L133.59,436.02L134.23,435.78L134.87,435.52L135.52,435.27L136.16,435.01L136.80,434.75L137.45,434.49L138.09,434.22L138.73,433.95L139.38,433.68L140.02,433.40L140.67,433.12L141.31,432.83L141.96,432.55L142.60,432.25L143.24,431.96L143.89,431.66L144.53,431.36L145.18,431.05L145.83,430.74L146.47,430.42L147.12,430.10L147.76,429.78L148.41,429.45L149.06,429.12L149.70,428.78L150.35,428.44L150.99,428.09L151.64,427.74L152.29,427.38L152.94,427.02L153.58,426.65L154.23,426.28L154.88,425.90L155.53,425.52L156.17,425.13L156.82,424.73L157.47,424.34L158.12,423.93L158.76,423.52L159.41,423.10L160.06,422.68L160.71,422.25L161.35,421.82L162.00,421.38L162.65,420.93L163.30,420.48L163.95,420.02L164.59,419.55L165.24,419.08L165.89,418.60L166.54,418.12L167.19,417.62L167.83,417.13L168.48,416.62L169.13,416.11L169.78,415.59L170.42,415.06L171.07,414.53L171.72,413.99L172.37,413.44L173.01,412.88L173.66,412.32L174.31,411.75L174.95,411.17L175.60,410.58L176.25,409.99L176.89,409.38L177.54,408.77L178.19,408.15L178.83,407.53L179.48,406.89L180.12,406.25L180.77,405.60L181.41,404.95L182.06,404.28L182.70,403.61L183.34,402.94L183.99,402.25L184.63,401.56L185.27,400.86L185.92,400.15L186.56,399.44L187.20,398.72L187.83,397.99L188.46,397.25L189.09,396.49L189.71,395.74L190.34,394.97L190.96,394.20L191.58,393.43L192.21,392.64L192.83,391.86L193.45,391.06L194.08,390.27L194.70,389.46L195.32,388.65L195.94,387.84L196.56,387.02L197.19,386.19L197.81,385.36L198.43,384.53L199.05,383.69L199.67,382.84L200.29,381.99L200.91,381.14L201.53,380.28L202.15,379.42L202.77,378.55L203.39,377.68L204.01,376.80L204.63,375.92L205.25,375.04L205.87,374.15L206.48,373.26L207.10,372.36L207.72,371.47L208.34,370.56L208.96,369.66L209.57,368.75L210.19,367.83L210.81,366.92L211.43,366.00L212.05,365.08L212.66,364.15L213.28,363.22L213.90,362.29L214.51,361.36L215.13,360.42L215.75,359.48L216.37,358.54L216.98,357.60L217.60,356.65L218.22,355.70L218.83,354.75L219.46,353.81L220.09,352.86L220.72,351.91L221.35,350.97L221.98,350.02L222.61,349.06L223.24,348.11L223.87,347.16L224.50,346.20L225.13,345.24L225.76,344.29L226.39,343.33L227.02,342.37L227.65,341.41L228.28,340.44L228.91,339.48L229.54,338.52L230.17,337.55L230.80,336.59L231.43,335.62L232.06,334.66L232.69,333.69L233.32,332.73L233.95,331.76L234.58,330.80L235.21,329.84L235.84,328.87L236.47,327.91L237.10,326.94L237.73,325.98L238.36,325.02L238.98,324.06L239.61,323.10L240.24,322.14L240.87,321.18L241.50,320.22L242.13,319.26L242.76,318.31L243.39,317.35L244.02,316.40L244.65,315.45L245.27,314.50L245.90,313.55L246.53,312.61L247.16,311.66L247.79,310.72L248.42,309.78L249.05,308.85L249.67,307.91L250.30,306.98L250.93,306.05L251.56,305.12L252.19,304.19L252.82,303.27L253.44,302.35L254.07,301.44L254.70,300.52L255.33,299.61L255.96,298.70L256.58,297.80L257.21,296.90L257.84,296.00L258.47,295.11L259.09,294.22L259.72,293.33L260.35,292.45L260.98,291.57L261.60,290.70L262.23,289.83L262.86,288.96L263.49,288.10L264.11,287.24L264.74,286.39L265.37,285.54L265.99,284.70L266.62,283.86L267.25,283.02L267.87,282.19L268.50,281.37L269.13,280.55L269.75,279.73L270.38,278.93L271.01,278.12L271.63,277.32L268.81,275.09L268.17,275.90L267.53,276.70L266.90,277.52L266.26,278.34L265.62,279.16L264.99,279.99L264.35,280.83L263.71,281.67L263.08,282.51L262.44,283.36L261.80,284.21L261.17,285.07L260.53,285.93L259.90,286.80L259.26,287.67L258.62,288.54L257.99,289.42L257.35,290.30L256.72,291.19L256.08,292.08L255.45,292.97L254.81,293.87L254.17,294.77L253.54,295.67L252.90,296.58L252.27,297.49L251.63,298.40L251.00,299.32L250.36,300.23L249.73,301.16L249.09,302.08L248.46,303.01L247.82,303.94L247.19,304.87L246.55,305.80L245.92,306.74L245.28,307.67L244.65,308.61L244.01,309.56L243.38,310.50L242.75,311.45L242.11,312.39L241.48,313.34L240.84,314.29L240.21,315.25L239.57,316.20L238.94,317.15L238.31,318.11L237.67,319.07L237.04,320.02L236.40,320.98L235.77,321.94L235.14,322.90L234.50,323.86L233.87,324.82L233.23,325.79L232.60,326.75L231.97,327.71L231.33,328.67L230.70,329.63L230.06,330.60L229.43,331.56L228.80,332.52L228.16,333.48L227.53,334.44L226.90,335.40L226.26,336.37L225.63,337.32L225.00,338.28L224.36,339.24L223.73,340.20L223.10,341.15L222.47,342.11L221.83,343.06L221.20,344.02L220.57,344.97L219.93,345.92L219.30,346.86L218.67,347.81L218.04,348.76L217.40,349.70L216.77,350.64L216.14,351.58L215.50,352.51L214.85,353.44L214.21,354.36L213.56,355.28L212.91,356.19L212.27,357.11L211.62,358.02L210.97,358.93L210.33,359.84L209.68,360.74L209.04,361.64L208.39,362.54L207.75,363.43L207.10,364.32L206.45,365.21L205.81,366.09L205.16,366.97L204.52,367.85L203.87,368.72L203.23,369.59L202.58,370.45L201.94,371.31L201.30,372.17L200.65,373.02L200.01,373.87L199.36,374.71L198.72,375.55L198.08,376.38L197.43,377.21L196.79,378.04L196.15,378.86L195.50,379.67L194.86,380.48L194.22,381.28L193.58,382.08L192.93,382.87L192.29,383.66L191.65,384.44L191.01,385.22L190.37,385.99L189.73,386.75L189.09,387.51L188.45,388.26L187.81,389.00L187.17,389.74L186.53,390.48L185.89,391.20L185.25,391.92L184.61,392.64L183.97,393.34L183.34,394.04L182.71,394.74L182.09,395.44L181.47,396.13L180.85,396.82L180.23,397.49L179.60,398.16L178.98,398.83L178.37,399.48L177.75,400.13L177.13,400.77L176.51,401.40L175.89,402.03L175.27,402.64L174.65,403.25L174.04,403.85L173.42,404.44L172.80,405.03L172.19,405.60L171.57,406.17L170.95,406.73L170.34,407.29L169.72,407.83L169.10,408.37L168.49,408.90L167.87,409.43L167.26,409.94L166.64,410.45L166.03,410.95L165.41,411.45L164.79,411.94L164.18,412.42L163.56,412.90L162.95,413.37L162.33,413.83L161.72,414.29L161.10,414.74L160.49,415.18L159.87,415.62L159.26,416.05L158.64,416.48L158.03,416.90L157.41,417.31L156.80,417.72L156.18,418.12L155.56,418.52L154.95,418.91L154.33,419.30L153.72,419.68L153.10,420.05L152.49,420.43L151.87,420.79L151.26,421.15L150.64,421.51L150.02,421.86L149.41,422.21L148.79,422.55L148.17,422.88L147.56,423.22L146.94,423.54L146.32,423.87L145.71,424.19L145.09,424.50L144.47,424.82L143.86,425.12L143.24,425.43L142.62,425.73L142.00,426.02L141.39,426.31L140.77,426.60L140.15,426.89L139.53,427.17L138.91,427.45L138.29,427.72L137.67,427.99L137.05,428.26L136.43,428.53L135.82,428.79L135.20,429.05L134.58,429.30L133.96,429.55L133.34,429.80L132.72,430.05L132.10,430.29L131.48,430.54L130.85,430.77L130.23,431.01L129.61,431.24L128.99,431.47L128.37,431.70L127.75,431.93L127.13,432.15L126.51,432.37L125.88,432.59L125.26,432.80L124.64,433.02L124.02,433.23L123.39,433.44L122.77,433.64L122.15,433.85L121.53,434.05L120.90,434.25L120.28,434.45L119.65,434.65L119.03,434.85L118.41,435.04L117.78,435.23L117.16,435.42L116.53,435.61L115.91,435.80L115.28,435.99L114.66,436.17L114.03,436.35L113.41,436.54L112.78,436.72L112.15,436.90L111.53,437.08L110.90,437.25L110.27,437.43L109.65,437.60L109.02,437.78L108.39,437.95L107.76,438.13L107.14,438.30L106.51,438.47L105.88,438.64L105.25,438.81L104.62,438.98L103.99,439.15L103.36,439.31L102.73,439.48L102.10,439.65L101.47,439.82L100.84,439.98L100.21,440.15L99.58,440.32L98.95,440.48L98.32,440.65L97.69,440.82L97.06,440.98L96.43,441.15L95.81,441.38L95.23,441.74L94.65,442.10L94.05,442.40L93.42,442.56Z" fill="#000" stroke="#000" stroke-width="0.3" stroke-linejoin="round"/>
<rect x="268.15" y="273.70" width="4.5" height="4.2" fill="#000"/>
<line x1="155.41" y1="448.00" x2="269.53" y2="277.55" stroke="#f00" stroke-width="2.2"/>
<text x="67.00" y="269.50" font-family="Liberation Sans" font-weight="bold" font-size="17.3">(c)</text>
<text x="67.00" y="289.90" font-family="Liberation Sans" font-weight="bold" font-size="17.0">10 min</text>
<text transform="translate(18.30,398.20) rotate(-90)" font-family="Liberation Sans" font-weight="bold" font-size="17.2">[F<tspan font-weight="normal">(</tspan>R<tspan font-weight="normal">)</tspan>h<tspan font-weight="normal">&#957;</tspan>]<tspan font-size="11.2" dx="1.00" dy="-6.50">0.5</tspan></text>
<text x="155.40" y="483.60" font-family="Liberation Sans" font-weight="bold" font-size="17.1">h<tspan font-weight="normal">&#957; (</tspan>eV<tspan font-weight="normal">)</tspan></text>
<path d="M415.00,254.30V463.10H673.50" fill="none" stroke="#000" stroke-width="2.6" stroke-linecap="butt" stroke-linejoin="miter"/>
<path d="M415.00,463.10v-4M439.50,463.10v-4M464.00,463.10v-4M488.50,463.10v-4M513.00,463.10v-4M537.50,463.10v-4M562.00,463.10v-4M586.50,463.10v-4M611.00,463.10v-4M635.50,463.10v-4M660.00,463.10v-4M427.25,463.10v-2.2M451.75,463.10v-2.2M476.25,463.10v-2.2M500.75,463.10v-2.2M525.25,463.10v-2.2M549.75,463.10v-2.2M574.25,463.10v-2.2M598.75,463.10v-2.2M623.25,463.10v-2.2M647.75,463.10v-2.2M672.25,463.10v-2.2M415.00,463.10h4M415.00,441.30h4M415.00,419.50h4M415.00,397.70h4M415.00,375.90h4M415.00,354.10h4M415.00,332.30h4M415.00,310.50h4M415.00,288.70h4M415.00,266.90h4M415.00,452.20h2.2M415.00,430.40h2.2M415.00,408.60h2.2M415.00,386.80h2.2M415.00,365.00h2.2M415.00,343.20h2.2M415.00,321.40h2.2M415.00,299.60h2.2M415.00,277.80h2.2M415.00,256.00h2.2" stroke="#000" stroke-width="2.2"/>
<text x="415.00" y="477.50" font-family="Liberation Sans" font-weight="bold" font-size="12.5" text-anchor="middle">1.2</text>
<text x="439.50" y="477.50" font-family="Liberation Sans" font-weight="bold" font-size="12.5" text-anchor="middle">1.4</text>
<text x="464.00" y="477.50" font-family="Liberation Sans" font-weight="bold" font-size="12.5" text-anchor="middle">1.6</text>
<text x="488.50" y="477.50" font-family="Liberation Sans" font-weight="bold" font-size="12.5" text-anchor="middle">1.8</text>
<text x="513.00" y="477.50" font-family="Liberation Sans" font-weight="bold" font-size="12.5" text-anchor="middle">2.0</text>
<text x="537.50" y="477.50" font-family="Liberation Sans" font-weight="bold" font-size="12.5" text-anchor="middle">2.2</text>
<text x="562.00" y="477.50" font-family="Liberation Sans" font-weight="bold" font-size="12.5" text-anchor="middle">2.4</text>
<text x="586.50" y="477.50" font-family="Liberation Sans" font-weight="bold" font-size="12.5" text-anchor="middle">2.6</text>
<text x="611.00" y="477.50" font-family="Liberation Sans" font-weight="bold" font-size="12.5" text-anchor="middle">2.8</text>
<text x="635.50" y="477.50" font-family="Liberation Sans" font-weight="bold" font-size="12.5" text-anchor="middle">3.0</text>
<text x="660.00" y="477.50" font-family="Liberation Sans" font-weight="bold" font-size="12.5" text-anchor="middle">3.2</text>
<text x="410.20" y="467.60" font-family="Liberation Sans" font-weight="bold" font-size="12.5" text-anchor="end">0</text>
<text x="410.20" y="445.80" font-family="Liberation Sans" font-weight="bold" font-size="12.5" text-anchor="end">2000</text>
<text x="410.20" y="424.00" font-family="Liberation Sans" font-weight="bold" font-size="12.5" text-anchor="end">4000</text>
<text x="410.20" y="402.20" font-family="Liberation Sans" font-weight="bold" font-size="12.5" text-anchor="end">6000</text>
<text x="410.20" y="380.40" font-family="Liberation Sans" font-weight="bold" font-size="12.5" text-anchor="end">8000</text>
<text x="410.20" y="358.60" font-family="Liberation Sans" font-weight="bold" font-size="12.5" text-anchor="end">10000</text>
<text x="410.20" y="336.80" font-family="Liberation Sans" font-weight="bold" font-size="12.5" text-anchor="end">12000</text>
<text x="410.20" y="315.00" font-family="Liberation Sans" font-weight="bold" font-size="12.5" text-anchor="end">14000</text>
<text x="410.20" y="293.20" font-family="Liberation Sans" font-weight="bold" font-size="12.5" text-anchor="end">16000</text>
<text x="410.20" y="271.40" font-family="Liberation Sans" font-weight="bold" font-size="12.5" text-anchor="end">18000</text>
<path d="M434.72,454.40L435.46,454.40L436.21,454.40L436.95,454.40L437.69,454.40L438.43,454.40L439.17,454.40L439.92,454.40L440.66,454.40L441.40,454.40L442.14,454.40L442.88,454.40L443.62,454.40L444.37,454.40L445.11,454.40L445.85,454.40L446.59,454.40L447.33,454.51L448.07,454.65L448.07,449.55L447.33,449.70L446.59,449.80L445.85,449.80L445.11,449.80L444.37,449.80L443.62,449.80L442.88,449.80L442.14,449.80L441.40,449.80L440.66,449.80L439.92,449.80L439.17,449.80L438.43,449.80L437.69,449.80L436.95,449.80L436.21,449.80L435.46,449.80L434.72,449.80ZM448.67,457.51L449.39,457.47L450.08,457.32L450.77,457.15L451.46,456.97L452.15,456.79L452.84,456.60L453.53,456.42L454.22,456.22L454.91,456.03L455.60,455.83L456.29,455.63L456.98,455.42L457.67,455.21L458.36,454.99L459.05,454.78L459.73,454.55L460.42,454.33L461.11,454.10L461.80,453.87L462.49,453.63L463.18,453.39L463.87,453.15L464.55,452.90L465.24,452.65L465.93,452.39L466.62,452.14L467.31,451.87L468.00,451.61L468.68,451.34L469.37,451.07L470.06,450.79L470.75,450.51L471.43,450.23L472.12,449.94L472.81,449.65L473.50,449.36L474.18,449.06L474.87,448.76L475.56,448.46L476.24,448.15L476.93,447.84L477.62,447.53L478.30,447.21L478.99,446.89L479.68,446.57L480.36,446.24L481.05,445.91L481.74,445.58L482.42,445.24L483.11,444.90L483.79,444.56L484.48,444.21L485.17,443.86L485.85,443.51L486.54,443.15L487.22,442.79L487.91,442.43L488.59,442.07L489.28,441.70L489.96,441.32L490.65,440.95L491.34,440.57L492.02,440.19L492.71,439.80L493.39,439.42L494.08,439.03L494.76,438.63L495.44,438.24L496.13,437.84L496.81,437.43L497.50,437.03L498.18,436.62L498.87,436.21L499.55,435.79L500.24,435.38L500.92,434.95L501.60,434.53L502.29,434.10L502.97,433.67L503.66,433.24L504.34,432.81L505.02,432.37L505.71,431.93L506.39,431.48L507.08,431.03L507.76,430.58L508.45,430.12L509.13,429.66L509.82,429.20L510.50,428.73L511.19,428.26L511.88,427.79L512.56,427.31L513.25,426.83L513.93,426.34L514.62,425.85L515.30,425.35L515.99,424.85L516.68,424.35L517.36,423.84L518.05,423.32L518.74,422.81L519.42,422.28L520.11,421.76L520.80,421.22L521.48,420.69L522.17,420.14L522.86,419.59L523.54,419.04L524.23,418.48L524.92,417.92L525.61,417.35L526.29,416.78L526.98,416.20L527.67,415.61L528.35,415.02L529.04,414.42L529.73,413.82L530.42,413.21L531.10,412.59L531.79,411.97L532.48,411.35L533.16,410.71L533.85,410.07L534.54,409.43L535.23,408.77L535.91,408.12L536.60,407.45L537.29,406.78L537.97,406.10L538.66,405.41L539.35,404.72L540.03,404.02L540.72,403.32L541.41,402.60L542.10,401.88L542.78,401.16L543.47,400.42L544.16,399.68L544.84,398.93L545.53,398.17L546.22,397.41L546.90,396.63L547.59,395.85L548.26,395.06L548.93,394.25L549.60,393.43L550.27,392.61L550.94,391.78L551.61,390.95L552.28,390.11L552.95,389.26L553.62,388.41L554.29,387.55L554.96,386.68L555.62,385.81L556.29,384.94L556.96,384.05L557.62,383.17L558.29,382.28L558.96,381.39L559.62,380.49L560.29,379.58L560.95,378.68L561.62,377.77L562.28,376.85L562.95,375.94L563.61,375.02L564.28,374.09L564.94,373.17L565.60,372.24L566.27,371.31L566.93,370.37L567.59,369.44L568.26,368.50L568.92,367.56L569.58,366.61L570.25,365.67L570.91,364.72L571.57,363.77L572.23,362.82L572.90,361.87L573.56,360.92L574.22,359.97L574.88,359.01L575.54,358.06L576.21,357.10L576.87,356.15L577.53,355.19L578.19,354.23L578.85,353.27L579.52,352.31L580.18,351.35L580.84,350.39L581.50,349.43L582.18,348.48L582.85,347.52L583.53,346.57L584.20,345.61L584.88,344.65L585.55,343.70L586.23,342.74L586.90,341.78L587.57,340.82L588.25,339.86L588.92,338.90L589.60,337.93L590.27,336.97L590.95,336.00L591.62,335.04L592.29,334.07L592.97,333.11L593.64,332.14L594.32,331.17L594.99,330.20L595.67,329.23L596.34,328.26L597.02,327.29L597.69,326.31L598.36,325.34L599.04,324.36L599.71,323.39L600.39,322.41L601.06,321.43L601.74,320.46L602.41,319.48L603.09,318.50L603.76,317.52L604.43,316.53L605.11,315.55L605.78,314.57L606.46,313.58L607.13,312.60L607.81,311.61L608.48,310.62L609.15,309.63L609.83,308.64L610.50,307.65L611.18,306.66L611.85,305.67L612.53,304.68L613.20,303.68L613.88,302.69L614.55,301.69L615.22,300.69L615.90,299.69L616.57,298.69L617.25,297.69L617.92,296.69L618.60,295.69L619.27,294.69L619.95,293.68L620.62,292.68L621.29,291.67L621.97,290.66L622.64,289.66L623.32,288.65L620.24,286.58L619.57,287.59L618.89,288.59L618.21,289.60L617.53,290.60L616.86,291.60L616.18,292.60L615.50,293.60L614.82,294.60L614.15,295.60L613.47,296.59L612.79,297.59L612.11,298.58L611.44,299.57L610.76,300.57L610.08,301.56L609.40,302.55L608.73,303.54L608.05,304.53L607.37,305.51L606.69,306.50L606.02,307.48L605.34,308.47L604.66,309.45L603.99,310.44L603.31,311.42L602.63,312.40L601.95,313.38L601.28,314.36L600.60,315.33L599.92,316.31L599.24,317.29L598.57,318.26L597.89,319.24L597.21,320.21L596.53,321.18L595.86,322.15L595.18,323.13L594.50,324.10L593.82,325.06L593.15,326.03L592.47,327.00L591.79,327.97L591.11,328.93L590.44,329.90L589.76,330.86L589.08,331.82L588.41,332.78L587.73,333.75L587.05,334.71L586.37,335.67L585.70,336.62L585.02,337.58L584.34,338.54L583.66,339.49L582.99,340.45L582.31,341.40L581.63,342.36L580.95,343.31L580.28,344.26L579.60,345.21L578.92,346.17L578.24,347.12L577.56,348.06L576.87,349.00L576.18,349.93L575.49,350.87L574.80,351.81L574.11,352.75L573.42,353.68L572.73,354.62L572.04,355.55L571.35,356.48L570.66,357.41L569.97,358.34L569.28,359.27L568.59,360.20L567.90,361.13L567.21,362.05L566.52,362.97L565.83,363.89L565.15,364.81L564.46,365.73L563.77,366.64L563.08,367.55L562.39,368.46L561.70,369.36L561.02,370.26L560.33,371.16L559.64,372.06L558.95,372.95L558.26,373.84L557.58,374.72L556.89,375.60L556.20,376.48L555.52,377.35L554.83,378.22L554.15,379.08L553.46,379.94L552.77,380.79L552.09,381.64L551.41,382.48L550.72,383.31L550.04,384.14L549.35,384.96L548.67,385.78L547.99,386.58L547.30,387.39L546.62,388.18L545.94,388.97L545.26,389.75L544.58,390.52L543.90,391.28L543.22,392.04L542.55,392.80L541.89,393.55L541.22,394.30L540.56,395.04L539.89,395.77L539.23,396.49L538.56,397.20L537.90,397.91L537.23,398.61L536.57,399.31L535.90,400.00L535.24,400.68L534.57,401.35L533.91,402.02L533.24,402.68L532.58,403.33L531.91,403.98L531.25,404.62L530.59,405.26L529.92,405.88L529.26,406.51L528.59,407.12L527.93,407.73L527.26,408.34L526.60,408.94L525.93,409.53L525.27,410.12L524.60,410.70L523.94,411.27L523.27,411.84L522.61,412.41L521.95,412.97L521.28,413.52L520.62,414.07L519.95,414.61L519.29,415.15L518.62,415.69L517.96,416.22L517.29,416.74L516.63,417.26L515.96,417.77L515.30,418.28L514.63,418.79L513.97,419.29L513.30,419.79L512.63,420.28L511.97,420.77L511.30,421.25L510.64,421.73L509.97,422.21L509.31,422.68L508.64,423.15L507.97,423.62L507.31,424.08L506.64,424.53L505.97,424.99L505.31,425.44L504.64,425.89L503.97,426.33L503.31,426.77L502.64,427.21L501.97,427.64L501.30,428.07L500.64,428.50L499.97,428.93L499.30,429.35L498.63,429.77L497.97,430.19L497.30,430.60L496.63,431.01L495.96,431.42L495.30,431.82L494.63,432.22L493.96,432.62L493.29,433.02L492.63,433.41L491.96,433.80L491.29,434.19L490.63,434.57L489.96,434.95L489.29,435.33L488.63,435.70L487.96,436.08L487.29,436.44L486.63,436.81L485.96,437.17L485.29,437.53L484.63,437.88L483.96,438.24L483.29,438.59L482.63,438.93L481.96,439.27L481.30,439.61L480.63,439.95L479.97,440.28L479.30,440.61L478.63,440.94L477.97,441.26L477.30,441.58L476.64,441.90L475.97,442.21L475.31,442.52L474.64,442.83L473.98,443.13L473.31,443.43L472.65,443.73L471.98,444.02L471.32,444.31L470.65,444.60L469.99,444.88L469.33,445.16L468.66,445.44L468.00,445.71L467.33,445.98L466.67,446.25L466.00,446.51L465.34,446.77L464.68,447.02L464.01,447.27L463.35,447.52L462.69,447.77L462.02,448.01L461.36,448.25L460.70,448.48L460.03,448.71L459.37,448.94L458.71,449.16L458.04,449.38L457.38,449.60L456.72,449.81L456.06,450.02L455.39,450.23L454.73,450.43L454.07,450.63L453.41,450.82L452.74,451.01L452.08,451.20L451.42,451.38L450.76,451.56L450.10,451.74L449.43,451.91L448.77,452.08L448.11,452.25L447.48,452.55ZM622.82,289.14L623.57,288.63L624.31,288.15L625.05,287.69L625.79,287.25L626.52,286.84L627.25,286.45L627.99,286.08L628.72,285.73L629.45,285.41L630.18,285.11L630.90,284.83L631.63,284.57L632.38,284.32L631.27,280.87L630.47,281.12L629.65,281.41L628.84,281.71L628.02,282.05L627.20,282.40L626.39,282.78L625.58,283.18L624.77,283.61L623.96,284.06L623.15,284.53L622.34,285.03L621.53,285.55L620.74,286.08ZM633.48,283.34L634.34,281.42L635.19,279.50L636.05,277.58L636.90,275.66L637.76,273.74L634.47,272.27L633.61,274.19L632.75,276.10L631.89,278.02L631.03,279.94L630.17,281.86Z" fill="#000" stroke="#000" stroke-width="0.3" stroke-linejoin="round"/>
<rect x="634.20" y="270.70" width="4.4" height="4.4" fill="#000"/>
<line x1="501.74" y1="461.70" x2="634.28" y2="273.88" stroke="#f00" stroke-width="2.2"/>
<text x="420.00" y="273.00" font-family="Liberation Sans" font-weight="bold" font-size="18.0">(d)</text>
<text x="420.00" y="293.45" font-family="Liberation Sans" font-weight="bold" font-size="17.7">15 min</text>
<text transform="translate(367.20,392.40) rotate(-90)" font-family="Liberation Sans" font-weight="bold" font-size="18.0">[F<tspan font-weight="normal">(</tspan>R<tspan font-weight="normal">)</tspan>h<tspan font-weight="normal">&#957;</tspan>]<tspan font-size="11.9" dx="1.00" dy="-6.90">0.5</tspan></text>
<text x="516.40" y="497.00" font-family="Liberation Sans" font-weight="bold" font-size="18.3">h<tspan font-weight="normal">&#957;</tspan> (eV)</text>
<path d="M59.80,503.20V722.40H331.00" fill="none" stroke="#000" stroke-width="2.6" stroke-linecap="butt" stroke-linejoin="miter"/>
<path d="M59.80,722.40v-4M108.90,722.40v-4M158.00,722.40v-4M207.10,722.40v-4M256.20,722.40v-4M305.30,722.40v-4M84.35,722.40v-2.2M133.45,722.40v-2.2M182.55,722.40v-2.2M231.65,722.40v-2.2M280.75,722.40v-2.2M329.85,722.40v-2.2M59.80,722.40h4M59.80,690.38h4M59.80,658.37h4M59.80,626.35h4M59.80,594.33h4M59.80,562.32h4M59.80,530.30h4M59.80,706.39h2.2M59.80,674.38h2.2M59.80,642.36h2.2M59.80,610.34h2.2M59.80,578.32h2.2M59.80,546.31h2.2M59.80,514.29h2.2" stroke="#000" stroke-width="2.2"/>
<text x="59.80" y="737.40" font-family="Liberation Sans" font-weight="bold" font-size="12.5" text-anchor="middle">1.0</text>
<text x="108.90" y="737.40" font-family="Liberation Sans" font-weight="bold" font-size="12.5" text-anchor="middle">1.5</text>
<text x="158.00" y="737.40" font-family="Liberation Sans" font-weight="bold" font-size="12.5" text-anchor="middle">2.0</text>
<text x="207.10" y="737.40" font-family="Liberation Sans" font-weight="bold" font-size="12.5" text-anchor="middle">2.5</text>
<text x="256.20" y="737.40" font-family="Liberation Sans" font-weight="bold" font-size="12.5" text-anchor="middle">3.0</text>
<text x="305.30" y="737.40" font-family="Liberation Sans" font-weight="bold" font-size="12.5" text-anchor="middle">3.5</text>
<text x="54.80" y="726.20" font-family="Liberation Sans" font-weight="bold" font-size="12.5" text-anchor="end">0</text>
<text x="54.80" y="694.18" font-family="Liberation Sans" font-weight="bold" font-size="12.5" text-anchor="end">1000</text>
<text x="54.80" y="662.17" font-family="Liberation Sans" font-weight="bold" font-size="12.5" text-anchor="end">2000</text>
<text x="54.80" y="630.15" font-family="Liberation Sans" font-weight="bold" font-size="12.5" text-anchor="end">3000</text>
<text x="54.80" y="598.13" font-family="Liberation Sans" font-weight="bold" font-size="12.5" text-anchor="end">4000</text>
<text x="54.80" y="566.12" font-family="Liberation Sans" font-weight="bold" font-size="12.5" text-anchor="end">5000</text>
<text x="54.80" y="534.10" font-family="Liberation Sans" font-weight="bold" font-size="12.5" text-anchor="end">6000</text>
<path d="M96.40,675.73L97.17,675.28L97.96,674.82L98.74,674.36L99.53,673.88L100.31,673.40L101.10,672.92L101.88,672.42L102.67,671.92L103.45,671.41L104.24,670.89L105.02,670.37L105.81,669.84L106.58,669.31L103.42,664.69L102.66,665.21L101.90,665.72L101.15,666.23L100.39,666.72L99.64,667.21L98.88,667.69L98.13,668.17L97.38,668.64L96.62,669.10L95.87,669.55L95.12,670.00L94.37,670.44L93.60,670.87ZM107.77,667.40L108.17,664.60L102.63,663.80L102.23,666.60ZM106.72,666.80L107.42,666.43L108.12,666.06L108.82,665.69L109.52,665.33L110.22,664.96L110.92,664.61L111.62,664.25L112.32,663.89L113.02,663.54L113.72,663.19L114.42,662.84L115.12,662.50L115.82,662.15L116.52,661.81L117.22,661.47L117.92,661.14L118.62,660.80L119.32,660.47L120.03,660.14L120.73,659.81L121.43,659.48L122.13,659.15L122.83,658.83L123.54,658.50L124.24,658.18L124.94,657.86L125.65,657.54L126.35,657.22L127.05,656.90L127.76,656.59L128.46,656.27L129.16,655.96L129.87,655.64L130.57,655.33L131.28,655.02L131.98,654.71L132.69,654.40L133.39,654.09L134.10,653.78L134.81,653.47L135.51,653.16L136.22,652.85L136.92,652.54L137.63,652.23L138.34,651.92L139.05,651.61L139.75,651.30L140.46,650.99L141.17,650.68L141.88,650.37L142.58,650.06L143.29,649.75L144.00,649.44L144.71,649.13L145.42,648.81L146.13,648.50L146.84,648.19L147.55,647.87L148.26,647.55L148.97,647.23L149.68,646.92L150.39,646.60L151.10,646.27L151.81,645.95L152.52,645.63L153.23,645.30L153.94,644.97L154.66,644.65L155.37,644.31L156.08,643.98L156.79,643.65L157.50,643.31L158.22,642.97L158.93,642.63L159.64,642.29L160.35,641.95L161.07,641.60L161.78,641.25L162.49,640.90L163.21,640.54L163.92,640.19L164.64,639.83L165.35,639.47L166.06,639.10L166.78,638.73L167.49,638.36L168.21,637.99L168.92,637.61L169.64,637.23L170.35,636.85L171.06,636.47L171.78,636.08L172.49,635.69L173.21,635.30L173.92,634.90L174.63,634.50L175.35,634.10L176.06,633.70L176.77,633.29L177.49,632.88L178.20,632.47L178.91,632.06L179.63,631.64L180.34,631.22L181.05,630.80L181.77,630.37L182.48,629.95L183.19,629.52L183.91,629.09L184.62,628.65L185.33,628.21L186.04,627.77L186.76,627.33L187.47,626.89L188.18,626.44L188.89,625.99L189.61,625.54L190.32,625.08L191.03,624.63L191.74,624.17L192.45,623.71L193.17,623.24L193.88,622.78L194.59,622.31L195.30,621.84L196.01,621.37L196.73,620.89L197.44,620.41L198.15,619.93L198.86,619.45L199.57,618.97L200.28,618.48L200.99,617.99L201.71,617.50L202.42,617.01L203.13,616.52L203.84,616.02L204.55,615.52L205.26,615.02L205.97,614.52L206.68,614.01L207.39,613.50L208.10,612.99L208.82,612.48L209.53,611.97L210.24,611.45L210.95,610.94L211.66,610.42L212.37,609.90L213.08,609.37L213.79,608.85L214.50,608.32L215.21,607.79L215.92,607.26L216.63,606.73L217.34,606.19L218.05,605.66L218.76,605.12L219.47,604.58L220.18,604.03L220.89,603.49L221.60,602.94L222.31,602.39L223.03,601.84L223.74,601.29L224.45,600.73L225.15,600.17L225.86,599.60L226.57,599.04L227.28,598.47L227.99,597.89L228.71,597.32L229.42,596.74L230.13,596.15L230.84,595.57L231.55,594.98L232.26,594.39L232.97,593.79L233.68,593.19L234.39,592.58L235.10,591.98L235.81,591.36L236.52,590.75L237.23,590.13L237.95,589.50L238.66,588.87L239.37,588.24L240.08,587.60L240.79,586.96L241.50,586.31L242.21,585.66L242.93,585.00L243.64,584.34L244.35,583.67L245.06,583.00L245.77,582.32L246.48,581.64L247.20,580.95L247.91,580.26L248.62,579.56L249.33,578.86L250.04,578.15L250.75,577.43L251.47,576.71L252.18,575.98L252.89,575.25L253.60,574.51L254.31,573.76L255.02,573.01L255.74,572.25L256.45,571.48L257.16,570.71L257.87,569.93L258.58,569.14L259.29,568.35L260.01,567.55L260.72,566.75L261.43,565.93L262.14,565.11L262.85,564.28L263.56,563.45L264.27,562.60L264.98,561.75L265.69,560.90L266.41,560.03L267.12,559.16L267.83,558.27L268.54,557.38L269.25,556.49L269.96,555.58L270.67,554.67L271.38,553.74L272.09,552.81L272.80,551.87L273.51,550.93L274.22,549.97L274.93,549.00L275.64,548.03L276.35,547.05L277.06,546.06L277.77,545.06L278.48,544.06L279.18,543.06L279.89,542.06L280.59,541.05L281.30,540.05L282.00,539.05L282.70,538.06L283.41,537.08L284.11,536.10L284.82,535.13L285.52,534.17L286.22,533.23L286.93,532.30L287.63,531.38L288.32,530.48L289.02,529.60L289.72,528.74L290.41,527.90L291.10,527.08L291.79,526.29L292.48,525.52L293.16,524.78L293.84,524.07L294.52,523.38L295.20,522.73L295.87,522.12L296.53,521.54L297.19,520.99L297.84,520.48L298.49,520.02L299.13,519.59L299.76,519.20L300.38,518.86L300.99,518.55L301.58,518.29L302.17,518.08L302.74,517.90L303.31,517.77L303.86,517.68L304.40,517.63L304.93,517.62L305.46,517.65L306.08,517.74L306.69,513.18L305.89,513.08L305.01,513.03L304.13,513.06L303.25,513.14L302.39,513.29L301.54,513.50L300.70,513.76L299.87,514.08L299.05,514.44L298.24,514.84L297.45,515.29L296.66,515.78L295.89,516.31L295.12,516.88L294.35,517.48L293.60,518.11L292.85,518.77L292.10,519.47L291.36,520.19L290.62,520.94L289.89,521.72L289.16,522.52L288.43,523.34L287.70,524.18L286.98,525.05L286.26,525.93L285.54,526.83L284.82,527.75L284.10,528.68L283.39,529.63L282.67,530.59L281.96,531.55L281.25,532.53L280.54,533.52L279.83,534.51L279.12,535.50L278.40,536.50L277.69,537.50L276.98,538.50L276.27,539.50L275.56,540.49L274.85,541.48L274.14,542.47L273.43,543.45L272.73,544.42L272.02,545.38L271.32,546.34L270.61,547.28L269.91,548.22L269.20,549.14L268.50,550.06L267.79,550.97L267.09,551.87L266.38,552.77L265.68,553.65L264.97,554.53L264.27,555.40L263.56,556.26L262.86,557.11L262.16,557.95L261.45,558.79L260.75,559.62L260.04,560.44L259.34,561.26L258.63,562.06L257.93,562.86L257.23,563.66L256.52,564.44L255.82,565.22L255.11,565.99L254.41,566.76L253.71,567.52L253.00,568.27L252.30,569.01L251.59,569.75L250.89,570.49L250.19,571.21L249.48,571.93L248.78,572.65L248.08,573.35L247.37,574.06L246.67,574.75L245.96,575.44L245.26,576.13L244.56,576.81L243.85,577.48L243.15,578.15L242.45,578.81L241.74,579.47L241.04,580.13L240.34,580.77L239.63,581.42L238.93,582.06L238.22,582.69L237.52,583.32L236.82,583.94L236.11,584.56L235.41,585.18L234.70,585.79L234.00,586.40L233.30,587.00L232.59,587.60L231.89,588.20L231.18,588.79L230.48,589.38L229.77,589.96L229.07,590.54L228.36,591.12L227.66,591.69L226.95,592.26L226.25,592.83L225.54,593.39L224.84,593.96L224.13,594.51L223.43,595.07L222.72,595.62L222.02,596.17L221.31,596.72L220.61,597.27L219.90,597.81L219.20,598.35L218.49,598.89L217.79,599.43L217.08,599.97L216.38,600.50L215.67,601.03L214.97,601.56L214.26,602.09L213.56,602.62L212.85,603.15L212.15,603.67L211.44,604.19L210.74,604.71L210.03,605.23L209.33,605.74L208.62,606.25L207.92,606.77L207.21,607.28L206.51,607.78L205.80,608.29L205.10,608.79L204.39,609.29L203.69,609.79L202.98,610.29L202.28,610.78L201.58,611.28L200.87,611.77L200.17,612.25L199.46,612.74L198.76,613.22L198.05,613.71L197.35,614.19L196.65,614.66L195.94,615.14L195.24,615.61L194.53,616.08L193.83,616.55L193.13,617.02L192.42,617.48L191.72,617.94L191.02,618.40L190.31,618.86L189.61,619.31L188.91,619.76L188.20,620.21L187.50,620.66L186.80,621.10L186.09,621.55L185.39,621.99L184.69,622.42L183.98,622.86L183.28,623.29L182.58,623.72L181.88,624.15L181.17,624.57L180.47,624.99L179.77,625.41L179.07,625.83L178.36,626.25L177.66,626.66L176.96,627.07L176.26,627.47L175.55,627.88L174.85,628.28L174.15,628.68L173.45,629.07L172.75,629.47L172.05,629.86L171.34,630.25L170.64,630.63L169.94,631.01L169.24,631.39L168.54,631.77L167.84,632.15L167.14,632.52L166.43,632.89L165.73,633.25L165.03,633.61L164.33,633.97L163.63,634.33L162.93,634.69L162.23,635.04L161.53,635.39L160.82,635.74L160.12,636.08L159.42,636.42L158.72,636.76L158.02,637.10L157.31,637.44L156.61,637.77L155.91,638.10L155.21,638.43L154.50,638.76L153.80,639.09L153.10,639.41L152.39,639.74L151.69,640.06L150.98,640.38L150.28,640.70L149.58,641.02L148.87,641.33L148.17,641.65L147.46,641.96L146.76,642.28L146.05,642.59L145.35,642.90L144.64,643.21L143.93,643.52L143.23,643.83L142.52,644.14L141.81,644.44L141.11,644.75L140.40,645.06L139.69,645.37L138.99,645.67L138.28,645.98L137.57,646.29L136.86,646.59L136.15,646.90L135.45,647.20L134.74,647.51L134.03,647.82L133.32,648.12L132.61,648.43L131.90,648.74L131.19,649.05L130.48,649.36L129.77,649.67L129.06,649.98L128.35,650.29L127.64,650.60L126.93,650.91L126.22,651.23L125.51,651.54L124.79,651.86L124.08,652.18L123.37,652.49L122.66,652.82L121.95,653.14L121.23,653.46L120.52,653.78L119.81,654.11L119.09,654.44L118.38,654.77L117.67,655.10L116.95,655.43L116.24,655.77L115.52,656.11L114.81,656.45L114.10,656.79L113.38,657.14L112.67,657.48L111.95,657.83L111.24,658.18L110.52,658.54L109.80,658.90L109.09,659.26L108.37,659.62L107.66,659.99L106.94,660.36L106.23,660.73L105.51,661.11L104.79,661.48L104.08,661.86Z" fill="#000" stroke="#000" stroke-width="0.3" stroke-linejoin="round"/>
<rect x="303.80" y="513.90" width="4.0" height="4.2" fill="#000"/>
<line x1="140.24" y1="721.00" x2="292.44" y2="525.90" stroke="#f00" stroke-width="2.2"/>
<text x="64.30" y="524.50" font-family="Liberation Sans" font-weight="bold" font-size="19.3">(e)</text>
<text x="65.50" y="550.00" font-family="Liberation Sans" font-weight="bold" font-size="18.9">20 min</text>
<text transform="translate(18.00,660.60) rotate(-90)" font-family="Liberation Sans" font-weight="bold" font-size="18.8">[F<tspan font-weight="normal">(</tspan>R<tspan font-weight="normal">)</tspan>h<tspan font-weight="normal">&#957;</tspan>]<tspan font-size="12.8" dx="1.00" dy="-7.20">0.5</tspan></text>
<text x="165.00" y="755.00" font-family="Liberation Sans" font-weight="bold" font-size="18.3">h<tspan font-weight="normal">&#957;</tspan> (eV)</text>
<path d="M416.90,506.80V721.50H682.20" fill="none" stroke="#000" stroke-width="2.6" stroke-linecap="butt" stroke-linejoin="miter"/>
<path d="M416.90,721.50v-4M442.09,721.50v-4M467.28,721.50v-4M492.46,721.50v-4M517.65,721.50v-4M542.84,721.50v-4M568.03,721.50v-4M593.22,721.50v-4M618.40,721.50v-4M643.59,721.50v-4M668.78,721.50v-4M429.49,721.50v-2.2M454.68,721.50v-2.2M479.87,721.50v-2.2M505.06,721.50v-2.2M530.25,721.50v-2.2M555.43,721.50v-2.2M580.62,721.50v-2.2M605.81,721.50v-2.2M631.00,721.50v-2.2M656.19,721.50v-2.2M681.37,721.50v-2.2M416.90,721.50h4M416.90,688.52h4M416.90,655.53h4M416.90,622.55h4M416.90,589.57h4M416.90,556.58h4M416.90,523.60h4M416.90,705.01h2.2M416.90,672.02h2.2M416.90,639.04h2.2M416.90,606.06h2.2M416.90,573.08h2.2M416.90,540.09h2.2M416.90,507.11h2.2" stroke="#000" stroke-width="2.2"/>
<text x="416.90" y="736.10" font-family="Liberation Sans" font-weight="bold" font-size="12.5" text-anchor="middle">1.2</text>
<text x="442.09" y="736.10" font-family="Liberation Sans" font-weight="bold" font-size="12.5" text-anchor="middle">1.4</text>
<text x="467.28" y="736.10" font-family="Liberation Sans" font-weight="bold" font-size="12.5" text-anchor="middle">1.6</text>
<text x="492.46" y="736.10" font-family="Liberation Sans" font-weight="bold" font-size="12.5" text-anchor="middle">1.8</text>
<text x="517.65" y="736.10" font-family="Liberation Sans" font-weight="bold" font-size="12.5" text-anchor="middle">2.0</text>
<text x="542.84" y="736.10" font-family="Liberation Sans" font-weight="bold" font-size="12.5" text-anchor="middle">2.2</text>
<text x="568.03" y="736.10" font-family="Liberation Sans" font-weight="bold" font-size="12.5" text-anchor="middle">2.4</text>
<text x="593.22" y="736.10" font-family="Liberation Sans" font-weight="bold" font-size="12.5" text-anchor="middle">2.6</text>
<text x="618.40" y="736.10" font-family="Liberation Sans" font-weight="bold" font-size="12.5" text-anchor="middle">2.8</text>
<text x="643.59" y="736.10" font-family="Liberation Sans" font-weight="bold" font-size="12.5" text-anchor="middle">3.0</text>
<text x="668.78" y="736.10" font-family="Liberation Sans" font-weight="bold" font-size="12.5" text-anchor="middle">3.2</text>
<text x="411.40" y="726.00" font-family="Liberation Sans" font-weight="bold" font-size="12.5" text-anchor="end">0</text>
<text x="411.40" y="693.02" font-family="Liberation Sans" font-weight="bold" font-size="12.5" text-anchor="end">5000</text>
<text x="411.40" y="660.03" font-family="Liberation Sans" font-weight="bold" font-size="12.5" text-anchor="end">10000</text>
<text x="411.40" y="627.05" font-family="Liberation Sans" font-weight="bold" font-size="12.5" text-anchor="end">15000</text>
<text x="411.40" y="594.07" font-family="Liberation Sans" font-weight="bold" font-size="12.5" text-anchor="end">20000</text>
<text x="411.40" y="561.08" font-family="Liberation Sans" font-weight="bold" font-size="12.5" text-anchor="end">25000</text>
<text x="411.40" y="528.10" font-family="Liberation Sans" font-weight="bold" font-size="12.5" text-anchor="end">30000</text>
<path d="M436.67,717.86L437.40,717.86L438.13,717.86L438.86,717.86L439.59,717.86L440.32,717.86L441.06,717.86L441.79,717.86L442.52,717.86L443.25,717.86L443.98,717.86L444.71,717.86L445.44,717.86L446.17,717.86L446.90,717.86L447.63,717.86L448.36,717.86L449.09,717.86L449.82,717.86L450.55,717.86L451.28,717.89L451.28,713.23L450.55,713.26L449.82,713.26L449.09,713.26L448.36,713.26L447.63,713.26L446.90,713.26L446.17,713.26L445.44,713.26L444.71,713.26L443.98,713.26L443.25,713.26L442.52,713.26L441.79,713.26L441.06,713.26L440.32,713.26L439.59,713.26L438.86,713.26L438.13,713.26L437.40,713.26L436.67,713.26ZM451.65,717.77L452.37,717.82L453.10,717.87L453.82,717.89L454.52,717.78L455.22,717.66L455.92,717.54L456.62,717.42L457.32,717.30L458.03,717.18L458.73,717.05L459.43,716.93L460.13,716.80L460.83,716.67L461.53,716.53L462.24,716.40L462.94,716.26L463.64,716.12L464.34,715.98L465.05,715.84L465.75,715.69L466.45,715.54L467.16,715.39L467.86,715.24L468.56,715.08L469.27,714.92L469.97,714.76L470.68,714.60L471.38,714.44L472.08,714.27L472.79,714.10L473.49,713.93L474.20,713.75L474.90,713.57L475.61,713.39L476.31,713.21L477.02,713.02L477.72,712.83L478.43,712.64L479.13,712.44L479.84,712.24L480.54,712.04L481.25,711.84L481.95,711.63L482.66,711.42L483.37,711.20L484.07,710.98L484.78,710.76L485.48,710.54L486.19,710.31L486.90,710.08L487.60,709.85L488.31,709.61L489.02,709.37L489.72,709.12L490.43,708.87L491.14,708.62L491.84,708.37L492.55,708.11L493.26,707.84L493.97,707.58L494.67,707.31L495.38,707.03L496.09,706.75L496.80,706.47L497.50,706.18L498.21,705.89L498.92,705.60L499.63,705.30L500.33,705.00L501.04,704.69L501.75,704.38L502.46,704.07L503.17,703.75L503.87,703.42L504.58,703.09L505.29,702.76L506.00,702.43L506.71,702.08L507.42,701.74L508.12,701.39L508.83,701.03L509.54,700.67L510.25,700.31L510.96,699.94L511.67,699.57L512.37,699.19L513.08,698.81L513.79,698.42L514.50,698.03L515.21,697.63L515.92,697.23L516.62,696.82L517.33,696.41L518.04,695.99L518.75,695.57L519.46,695.14L520.17,694.71L520.87,694.27L521.58,693.83L522.29,693.38L523.00,692.93L523.71,692.47L524.41,692.00L525.12,691.53L525.83,691.06L526.54,690.58L527.25,690.09L527.95,689.60L528.66,689.10L529.37,688.60L530.08,688.09L530.79,687.58L531.49,687.06L532.20,686.53L532.91,686.00L533.62,685.47L534.32,684.92L535.03,684.37L535.74,683.82L536.45,683.26L537.15,682.69L537.86,682.12L538.57,681.54L539.27,680.96L539.98,680.36L540.69,679.77L541.40,679.16L542.10,678.55L542.81,677.94L543.51,677.32L544.22,676.69L544.93,676.05L545.63,675.41L546.34,674.77L547.04,674.11L547.75,673.46L548.46,672.79L549.16,672.12L549.87,671.44L550.57,670.76L551.28,670.07L551.98,669.37L552.68,668.67L553.37,667.94L554.06,667.22L554.75,666.48L555.44,665.74L556.13,664.99L556.82,664.24L557.51,663.48L558.19,662.71L558.88,661.94L559.57,661.16L560.26,660.38L560.94,659.59L561.63,658.79L562.32,657.99L563.00,657.18L563.69,656.37L564.38,655.55L565.06,654.72L565.75,653.89L566.43,653.05L567.12,652.20L567.80,651.35L568.49,650.50L569.17,649.63L569.86,648.76L570.54,647.89L571.23,647.01L571.91,646.12L572.60,645.23L573.28,644.33L573.96,643.42L574.65,642.51L575.33,641.59L576.02,640.67L576.70,639.73L577.38,638.80L578.06,637.86L578.75,636.91L579.43,635.95L580.11,634.99L580.79,634.02L581.48,633.05L582.16,632.07L582.84,631.08L583.52,630.09L584.20,629.09L584.89,628.09L585.57,627.08L586.25,626.07L586.93,625.05L587.62,624.03L588.31,623.01L589.01,621.98L589.71,620.95L590.40,619.92L591.10,618.88L591.79,617.83L592.49,616.78L593.18,615.73L593.88,614.67L594.57,613.60L595.27,612.53L595.97,611.46L596.66,610.38L597.36,609.30L598.05,608.21L598.75,607.12L599.44,606.02L600.14,604.92L600.83,603.82L601.53,602.71L602.22,601.60L602.92,600.49L603.61,599.37L604.31,598.25L605.00,597.12L605.70,595.99L606.39,594.86L607.08,593.73L607.78,592.59L608.47,591.45L609.17,590.30L609.86,589.15L610.56,588.00L611.25,586.85L611.95,585.70L612.64,584.54L613.33,583.38L614.03,582.21L614.72,581.05L615.42,579.88L616.11,578.71L616.80,577.54L617.50,576.36L618.19,575.19L618.89,574.01L619.58,572.83L620.27,571.65L620.97,570.46L621.66,569.28L622.36,568.09L623.05,566.90L623.74,565.72L624.44,564.53L625.13,563.33L625.82,562.14L626.52,560.95L627.21,559.75L627.90,558.56L628.60,557.36L629.29,556.17L629.98,554.97L630.68,553.77L631.37,552.57L632.06,551.38L632.76,550.18L633.45,548.98L634.14,547.78L634.84,546.58L635.53,545.38L636.22,544.18L636.92,542.98L637.61,541.79L638.30,540.59L639.00,539.39L639.69,538.19L640.38,537.00L641.08,535.80L641.77,534.61L642.46,533.41L643.15,532.22L643.85,531.03L644.54,529.84L645.23,528.65L641.95,526.73L641.26,527.92L640.56,529.11L639.86,530.30L639.17,531.50L638.47,532.69L637.78,533.89L637.08,535.08L636.39,536.28L635.69,537.47L635.00,538.67L634.30,539.87L633.60,541.06L632.91,542.26L632.21,543.46L631.52,544.66L630.82,545.85L630.13,547.05L629.43,548.25L628.74,549.45L628.04,550.64L627.35,551.84L626.65,553.04L625.96,554.23L625.26,555.43L624.57,556.62L623.87,557.81L623.18,559.00L622.48,560.20L621.79,561.39L621.09,562.57L620.40,563.76L619.70,564.95L619.01,566.13L618.31,567.32L617.62,568.50L616.92,569.68L616.23,570.86L615.53,572.03L614.84,573.21L614.15,574.38L613.45,575.55L612.76,576.72L612.06,577.88L611.37,579.05L610.67,580.21L609.98,581.37L609.28,582.52L608.59,583.68L607.90,584.83L607.20,585.98L606.51,587.12L605.81,588.27L605.12,589.40L604.42,590.54L603.73,591.67L603.04,592.80L602.34,593.93L601.65,595.05L600.96,596.17L600.26,597.29L599.57,598.40L598.87,599.51L598.18,600.61L597.49,601.71L596.79,602.81L596.10,603.90L595.41,604.99L594.71,606.08L594.02,607.15L593.33,608.23L592.63,609.30L591.94,610.37L591.25,611.43L590.55,612.49L589.86,613.54L589.17,614.58L588.48,615.63L587.78,616.66L587.09,617.69L586.40,618.72L585.70,619.74L585.01,620.76L584.32,621.77L583.62,622.77L582.91,623.76L582.20,624.74L581.50,625.71L580.79,626.69L580.08,627.65L579.38,628.61L578.67,629.56L577.96,630.51L577.26,631.45L576.55,632.38L575.84,633.31L575.14,634.23L574.43,635.14L573.73,636.05L573.02,636.95L572.32,637.84L571.61,638.73L570.91,639.61L570.20,640.49L569.50,641.35L568.79,642.22L568.09,643.07L567.38,643.92L566.68,644.77L565.98,645.60L565.27,646.43L564.57,647.26L563.86,648.07L563.16,648.88L562.46,649.69L561.76,650.49L561.05,651.28L560.35,652.06L559.65,652.84L558.95,653.62L558.24,654.38L557.54,655.14L556.84,655.90L556.14,656.64L555.44,657.38L554.74,658.12L554.04,658.84L553.33,659.57L552.63,660.28L551.93,660.99L551.23,661.69L550.53,662.39L549.84,663.08L549.14,663.76L548.44,664.44L547.75,665.12L547.07,665.80L546.38,666.47L545.70,667.14L545.02,667.80L544.33,668.45L543.65,669.10L542.97,669.74L542.29,670.38L541.60,671.01L540.92,671.63L540.24,672.25L539.56,672.86L538.87,673.46L538.19,674.06L537.51,674.65L536.83,675.24L536.15,675.82L535.47,676.39L534.78,676.96L534.10,677.52L533.42,678.07L532.74,678.62L532.06,679.17L531.38,679.70L530.70,680.24L530.02,680.76L529.33,681.28L528.65,681.80L527.97,682.31L527.29,682.81L526.61,683.31L525.93,683.80L525.25,684.29L524.57,684.77L523.89,685.24L523.21,685.72L522.53,686.18L521.85,686.64L521.17,687.09L520.49,687.54L519.81,687.99L519.13,688.43L518.45,688.86L517.76,689.29L517.08,689.71L516.40,690.13L515.72,690.55L515.04,690.95L514.36,691.36L513.68,691.76L513.00,692.15L512.32,692.54L511.64,692.93L510.96,693.31L510.28,693.68L509.60,694.05L508.92,694.42L508.24,694.78L507.56,695.14L506.88,695.49L506.20,695.84L505.52,696.18L504.84,696.52L504.16,696.86L503.48,697.19L502.80,697.51L502.12,697.84L501.44,698.15L500.76,698.47L500.08,698.78L499.40,699.08L498.72,699.39L498.04,699.68L497.36,699.98L496.68,700.27L495.99,700.55L495.31,700.84L494.63,701.12L493.95,701.39L493.27,701.66L492.59,701.93L491.91,702.19L491.23,702.45L490.55,702.71L489.86,702.96L489.18,703.21L488.50,703.46L487.82,703.70L487.14,703.94L486.46,704.18L485.77,704.41L485.09,704.64L484.41,704.86L483.73,705.09L483.05,705.30L482.36,705.52L481.68,705.73L481.00,705.94L480.32,706.15L479.63,706.36L478.95,706.56L478.27,706.76L477.58,706.95L476.90,707.14L476.22,707.33L475.53,707.52L474.85,707.70L474.17,707.89L473.48,708.06L472.80,708.24L472.12,708.41L471.43,708.59L470.75,708.75L470.06,708.92L469.38,709.08L468.69,709.24L468.01,709.40L467.32,709.56L466.64,709.71L465.95,709.87L465.27,710.01L464.58,710.16L463.90,710.31L463.21,710.45L462.53,710.59L461.84,710.73L461.15,710.87L460.47,711.00L459.78,711.14L459.09,711.27L458.41,711.40L457.72,711.52L457.03,711.65L456.35,711.77L455.66,711.89L454.97,712.01L454.29,712.13L453.60,712.25L452.91,712.37L452.24,712.61L451.58,712.89L450.92,713.16Z" fill="#000" stroke="#000" stroke-width="0.3" stroke-linejoin="round"/>
<rect x="641.75" y="527.00" width="4.3" height="3.6" fill="#000"/>
<line x1="529.82" y1="720.10" x2="644.18" y2="528.61" stroke="#f00" stroke-width="2.2"/>
<text x="422.80" y="524.80" font-family="Liberation Sans" font-weight="bold" font-size="18.8">(f)</text>
<text x="422.80" y="550.40" font-family="Liberation Sans" font-weight="bold" font-size="18.3">25 min</text>
<text transform="translate(368.00,647.80) rotate(-90)" font-family="Liberation Sans" font-weight="bold" font-size="18.5">[F<tspan font-weight="normal">(</tspan>R<tspan font-weight="normal">)</tspan>h<tspan font-weight="normal">&#957;</tspan>]<tspan font-size="12.7" dx="1.00" dy="-6.90">0.5</tspan></text>
<text x="514.50" y="759.00" font-family="Liberation Sans" font-weight="bold" font-size="18.3">h<tspan font-weight="normal">&#957;</tspan> (eV)</text>
</svg></body></html>
